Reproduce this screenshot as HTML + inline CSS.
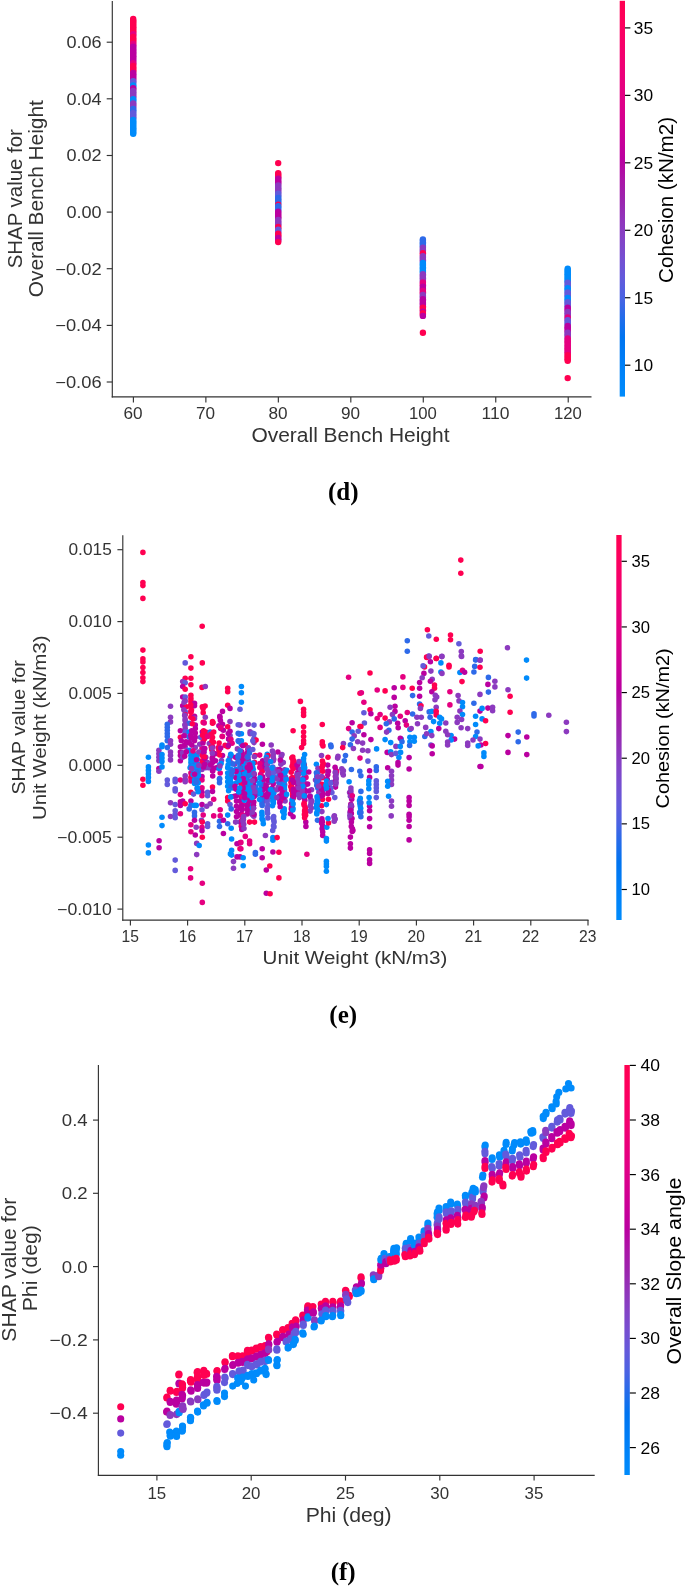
<!DOCTYPE html>
<html><head><meta charset="utf-8"><title>SHAP dependence plots</title>
<style>html,body{margin:0;padding:0;background:#fff;font-family:"Liberation Sans",sans-serif}svg{display:block;will-change:transform}</style></head>
<body>
<svg width="685" height="1586" viewBox="0 0 685 1586">
<rect width="685" height="1586" fill="#fff"/>
<line x1="112.30" y1="1.00" x2="112.30" y2="397.47" stroke="#333" stroke-width="1.15"/>
<line x1="111.73" y1="396.90" x2="591.50" y2="396.90" stroke="#333" stroke-width="1.15"/>
<line x1="106.70" y1="42.20" x2="112.30" y2="42.20" stroke="#333" stroke-width="1.15"/>
<text x="66.40" y="48.05" font-family="Liberation Sans, sans-serif" font-size="16.4" font-weight="normal" fill="#333" textLength="35.20" lengthAdjust="spacingAndGlyphs">0.06</text>
<line x1="106.70" y1="98.80" x2="112.30" y2="98.80" stroke="#333" stroke-width="1.15"/>
<text x="66.40" y="104.65" font-family="Liberation Sans, sans-serif" font-size="16.4" font-weight="normal" fill="#333" textLength="35.20" lengthAdjust="spacingAndGlyphs">0.04</text>
<line x1="106.70" y1="155.50" x2="112.30" y2="155.50" stroke="#333" stroke-width="1.15"/>
<text x="66.40" y="161.35" font-family="Liberation Sans, sans-serif" font-size="16.4" font-weight="normal" fill="#333" textLength="35.20" lengthAdjust="spacingAndGlyphs">0.02</text>
<line x1="106.70" y1="212.10" x2="112.30" y2="212.10" stroke="#333" stroke-width="1.15"/>
<text x="66.40" y="217.95" font-family="Liberation Sans, sans-serif" font-size="16.4" font-weight="normal" fill="#333" textLength="35.20" lengthAdjust="spacingAndGlyphs">0.00</text>
<line x1="106.70" y1="268.70" x2="112.30" y2="268.70" stroke="#333" stroke-width="1.15"/>
<text x="55.20" y="274.55" font-family="Liberation Sans, sans-serif" font-size="16.4" font-weight="normal" fill="#333" textLength="46.40" lengthAdjust="spacingAndGlyphs">−0.02</text>
<line x1="106.70" y1="325.40" x2="112.30" y2="325.40" stroke="#333" stroke-width="1.15"/>
<text x="55.20" y="331.25" font-family="Liberation Sans, sans-serif" font-size="16.4" font-weight="normal" fill="#333" textLength="46.40" lengthAdjust="spacingAndGlyphs">−0.04</text>
<line x1="106.70" y1="382.00" x2="112.30" y2="382.00" stroke="#333" stroke-width="1.15"/>
<text x="55.20" y="387.85" font-family="Liberation Sans, sans-serif" font-size="16.4" font-weight="normal" fill="#333" textLength="46.40" lengthAdjust="spacingAndGlyphs">−0.06</text>
<line x1="133.40" y1="396.90" x2="133.40" y2="402.40" stroke="#333" stroke-width="1.15"/>
<text x="123.55" y="419.20" font-family="Liberation Sans, sans-serif" font-size="16.4" font-weight="normal" fill="#333" textLength="19.10" lengthAdjust="spacingAndGlyphs">60</text>
<line x1="205.87" y1="396.90" x2="205.87" y2="402.40" stroke="#333" stroke-width="1.15"/>
<text x="196.02" y="419.20" font-family="Liberation Sans, sans-serif" font-size="16.4" font-weight="normal" fill="#333" textLength="19.10" lengthAdjust="spacingAndGlyphs">70</text>
<line x1="278.34" y1="396.90" x2="278.34" y2="402.40" stroke="#333" stroke-width="1.15"/>
<text x="268.49" y="419.20" font-family="Liberation Sans, sans-serif" font-size="16.4" font-weight="normal" fill="#333" textLength="19.10" lengthAdjust="spacingAndGlyphs">80</text>
<line x1="350.81" y1="396.90" x2="350.81" y2="402.40" stroke="#333" stroke-width="1.15"/>
<text x="340.96" y="419.20" font-family="Liberation Sans, sans-serif" font-size="16.4" font-weight="normal" fill="#333" textLength="19.10" lengthAdjust="spacingAndGlyphs">90</text>
<line x1="423.28" y1="396.90" x2="423.28" y2="402.40" stroke="#333" stroke-width="1.15"/>
<text x="409.03" y="419.20" font-family="Liberation Sans, sans-serif" font-size="16.4" font-weight="normal" fill="#333" textLength="27.90" lengthAdjust="spacingAndGlyphs">100</text>
<line x1="495.75" y1="396.90" x2="495.75" y2="402.40" stroke="#333" stroke-width="1.15"/>
<text x="481.50" y="419.20" font-family="Liberation Sans, sans-serif" font-size="16.4" font-weight="normal" fill="#333" textLength="27.90" lengthAdjust="spacingAndGlyphs">110</text>
<line x1="568.22" y1="396.90" x2="568.22" y2="402.40" stroke="#333" stroke-width="1.15"/>
<text x="553.97" y="419.20" font-family="Liberation Sans, sans-serif" font-size="16.4" font-weight="normal" fill="#333" textLength="27.90" lengthAdjust="spacingAndGlyphs">120</text>
<text x="251.40" y="442.10" font-family="Liberation Sans, sans-serif" font-size="19.6" font-weight="normal" fill="#333" textLength="198.10" lengthAdjust="spacingAndGlyphs">Overall Bench Height</text>
<text transform="translate(21.90,268.30) rotate(-90)" font-family="Liberation Sans, sans-serif" font-size="19.6" fill="#333" textLength="139.20" lengthAdjust="spacingAndGlyphs">SHAP value for</text>
<text transform="translate(42.90,297.20) rotate(-90)" font-family="Liberation Sans, sans-serif" font-size="19.6" fill="#333" textLength="197.00" lengthAdjust="spacingAndGlyphs">Overall Bench Height</text>
<defs><linearGradient id="g1" x1="0" y1="0" x2="0" y2="1"><stop offset="0.00" stop-color="#ff0051"/><stop offset="0.05" stop-color="#fe005c"/><stop offset="0.10" stop-color="#f80067"/><stop offset="0.15" stop-color="#f10072"/><stop offset="0.20" stop-color="#e9007c"/><stop offset="0.25" stop-color="#e00086"/><stop offset="0.30" stop-color="#d5008f"/><stop offset="0.35" stop-color="#c80098"/><stop offset="0.40" stop-color="#ba00a0"/><stop offset="0.45" stop-color="#ab15a7"/><stop offset="0.50" stop-color="#9c24ad"/><stop offset="0.55" stop-color="#9134ba"/><stop offset="0.60" stop-color="#8443c6"/><stop offset="0.65" stop-color="#754fd1"/><stop offset="0.70" stop-color="#635adb"/><stop offset="0.75" stop-color="#4a63e3"/><stop offset="0.80" stop-color="#236cea"/><stop offset="0.85" stop-color="#0074f0"/><stop offset="0.90" stop-color="#007cf5"/><stop offset="0.95" stop-color="#0084f9"/><stop offset="1.00" stop-color="#008bfb"/></linearGradient></defs>
<rect x="619.70" y="0.80" width="5.30" height="395.80" fill="url(#g1)"/>
<line x1="625.00" y1="27.90" x2="630.40" y2="27.90" stroke="#000" stroke-width="1.15"/>
<text x="633.80" y="33.75" font-family="Liberation Sans, sans-serif" font-size="16.4" font-weight="normal" fill="#000" textLength="19.30" lengthAdjust="spacingAndGlyphs">35</text>
<line x1="625.00" y1="95.36" x2="630.40" y2="95.36" stroke="#000" stroke-width="1.15"/>
<text x="633.80" y="101.21" font-family="Liberation Sans, sans-serif" font-size="16.4" font-weight="normal" fill="#000" textLength="19.30" lengthAdjust="spacingAndGlyphs">30</text>
<line x1="625.00" y1="162.82" x2="630.40" y2="162.82" stroke="#000" stroke-width="1.15"/>
<text x="633.80" y="168.67" font-family="Liberation Sans, sans-serif" font-size="16.4" font-weight="normal" fill="#000" textLength="19.30" lengthAdjust="spacingAndGlyphs">25</text>
<line x1="625.00" y1="230.28" x2="630.40" y2="230.28" stroke="#000" stroke-width="1.15"/>
<text x="633.80" y="236.13" font-family="Liberation Sans, sans-serif" font-size="16.4" font-weight="normal" fill="#000" textLength="19.30" lengthAdjust="spacingAndGlyphs">20</text>
<line x1="625.00" y1="297.74" x2="630.40" y2="297.74" stroke="#000" stroke-width="1.15"/>
<text x="633.80" y="303.59" font-family="Liberation Sans, sans-serif" font-size="16.4" font-weight="normal" fill="#000" textLength="19.30" lengthAdjust="spacingAndGlyphs">15</text>
<line x1="625.00" y1="365.20" x2="630.40" y2="365.20" stroke="#000" stroke-width="1.15"/>
<text x="633.80" y="371.05" font-family="Liberation Sans, sans-serif" font-size="16.4" font-weight="normal" fill="#000" textLength="19.30" lengthAdjust="spacingAndGlyphs">10</text>
<text transform="translate(673.10,282.90) rotate(-90)" font-family="Liberation Sans, sans-serif" font-size="19.6" fill="#000" textLength="166.00" lengthAdjust="spacingAndGlyphs">Cohesion (kN/m2)</text>
<text x="343.2" y="499.6" text-anchor="middle" font-family="Liberation Serif, serif" font-weight="bold" font-size="25" fill="#000">(d)</text>
<line x1="122.80" y1="535.30" x2="122.80" y2="920.67" stroke="#333" stroke-width="1.15"/>
<line x1="122.23" y1="920.10" x2="588.50" y2="920.10" stroke="#333" stroke-width="1.15"/>
<line x1="117.40" y1="549.70" x2="122.80" y2="549.70" stroke="#333" stroke-width="1.15"/>
<text x="68.50" y="555.30" font-family="Liberation Sans, sans-serif" font-size="15.7" font-weight="normal" fill="#333" textLength="43.30" lengthAdjust="spacingAndGlyphs">0.015</text>
<line x1="117.40" y1="621.60" x2="122.80" y2="621.60" stroke="#333" stroke-width="1.15"/>
<text x="68.50" y="627.20" font-family="Liberation Sans, sans-serif" font-size="15.7" font-weight="normal" fill="#333" textLength="43.30" lengthAdjust="spacingAndGlyphs">0.010</text>
<line x1="117.40" y1="693.40" x2="122.80" y2="693.40" stroke="#333" stroke-width="1.15"/>
<text x="68.50" y="699.00" font-family="Liberation Sans, sans-serif" font-size="15.7" font-weight="normal" fill="#333" textLength="43.30" lengthAdjust="spacingAndGlyphs">0.005</text>
<line x1="117.40" y1="765.30" x2="122.80" y2="765.30" stroke="#333" stroke-width="1.15"/>
<text x="68.50" y="770.90" font-family="Liberation Sans, sans-serif" font-size="15.7" font-weight="normal" fill="#333" textLength="43.30" lengthAdjust="spacingAndGlyphs">0.000</text>
<line x1="117.40" y1="837.20" x2="122.80" y2="837.20" stroke="#333" stroke-width="1.15"/>
<text x="57.10" y="842.80" font-family="Liberation Sans, sans-serif" font-size="15.7" font-weight="normal" fill="#333" textLength="54.70" lengthAdjust="spacingAndGlyphs">−0.005</text>
<line x1="117.40" y1="909.10" x2="122.80" y2="909.10" stroke="#333" stroke-width="1.15"/>
<text x="57.10" y="914.70" font-family="Liberation Sans, sans-serif" font-size="15.7" font-weight="normal" fill="#333" textLength="54.70" lengthAdjust="spacingAndGlyphs">−0.010</text>
<line x1="130.40" y1="920.10" x2="130.40" y2="925.40" stroke="#333" stroke-width="1.15"/>
<text x="121.50" y="942.20" font-family="Liberation Sans, sans-serif" font-size="15.7" font-weight="normal" fill="#333" textLength="17.40" lengthAdjust="spacingAndGlyphs">15</text>
<line x1="187.60" y1="920.10" x2="187.60" y2="925.40" stroke="#333" stroke-width="1.15"/>
<text x="178.70" y="942.20" font-family="Liberation Sans, sans-serif" font-size="15.7" font-weight="normal" fill="#333" textLength="17.40" lengthAdjust="spacingAndGlyphs">16</text>
<line x1="244.80" y1="920.10" x2="244.80" y2="925.40" stroke="#333" stroke-width="1.15"/>
<text x="235.90" y="942.20" font-family="Liberation Sans, sans-serif" font-size="15.7" font-weight="normal" fill="#333" textLength="17.40" lengthAdjust="spacingAndGlyphs">17</text>
<line x1="302.00" y1="920.10" x2="302.00" y2="925.40" stroke="#333" stroke-width="1.15"/>
<text x="293.10" y="942.20" font-family="Liberation Sans, sans-serif" font-size="15.7" font-weight="normal" fill="#333" textLength="17.40" lengthAdjust="spacingAndGlyphs">18</text>
<line x1="359.20" y1="920.10" x2="359.20" y2="925.40" stroke="#333" stroke-width="1.15"/>
<text x="350.30" y="942.20" font-family="Liberation Sans, sans-serif" font-size="15.7" font-weight="normal" fill="#333" textLength="17.40" lengthAdjust="spacingAndGlyphs">19</text>
<line x1="416.40" y1="920.10" x2="416.40" y2="925.40" stroke="#333" stroke-width="1.15"/>
<text x="407.50" y="942.20" font-family="Liberation Sans, sans-serif" font-size="15.7" font-weight="normal" fill="#333" textLength="17.40" lengthAdjust="spacingAndGlyphs">20</text>
<line x1="473.60" y1="920.10" x2="473.60" y2="925.40" stroke="#333" stroke-width="1.15"/>
<text x="464.70" y="942.20" font-family="Liberation Sans, sans-serif" font-size="15.7" font-weight="normal" fill="#333" textLength="17.40" lengthAdjust="spacingAndGlyphs">21</text>
<line x1="530.80" y1="920.10" x2="530.80" y2="925.40" stroke="#333" stroke-width="1.15"/>
<text x="521.90" y="942.20" font-family="Liberation Sans, sans-serif" font-size="15.7" font-weight="normal" fill="#333" textLength="17.40" lengthAdjust="spacingAndGlyphs">22</text>
<line x1="588.00" y1="920.10" x2="588.00" y2="925.40" stroke="#333" stroke-width="1.15"/>
<text x="579.10" y="942.20" font-family="Liberation Sans, sans-serif" font-size="15.7" font-weight="normal" fill="#333" textLength="17.40" lengthAdjust="spacingAndGlyphs">23</text>
<text x="262.60" y="964.00" font-family="Liberation Sans, sans-serif" font-size="18.7" font-weight="normal" fill="#333" textLength="184.70" lengthAdjust="spacingAndGlyphs">Unit Weight (kN/m3)</text>
<text transform="translate(24.70,794.60) rotate(-90)" font-family="Liberation Sans, sans-serif" font-size="18.7" fill="#333" textLength="134.40" lengthAdjust="spacingAndGlyphs">SHAP value for</text>
<text transform="translate(45.50,820.00) rotate(-90)" font-family="Liberation Sans, sans-serif" font-size="18.7" fill="#333" textLength="184.60" lengthAdjust="spacingAndGlyphs">Unit Weight (kN/m3)</text>
<defs><linearGradient id="g2" x1="0" y1="0" x2="0" y2="1"><stop offset="0.00" stop-color="#ff0051"/><stop offset="0.05" stop-color="#fe005c"/><stop offset="0.10" stop-color="#f80067"/><stop offset="0.15" stop-color="#f10072"/><stop offset="0.20" stop-color="#e9007c"/><stop offset="0.25" stop-color="#e00086"/><stop offset="0.30" stop-color="#d5008f"/><stop offset="0.35" stop-color="#c80098"/><stop offset="0.40" stop-color="#ba00a0"/><stop offset="0.45" stop-color="#ab15a7"/><stop offset="0.50" stop-color="#9c24ad"/><stop offset="0.55" stop-color="#9134ba"/><stop offset="0.60" stop-color="#8443c6"/><stop offset="0.65" stop-color="#754fd1"/><stop offset="0.70" stop-color="#635adb"/><stop offset="0.75" stop-color="#4a63e3"/><stop offset="0.80" stop-color="#236cea"/><stop offset="0.85" stop-color="#0074f0"/><stop offset="0.90" stop-color="#007cf5"/><stop offset="0.95" stop-color="#0084f9"/><stop offset="1.00" stop-color="#008bfb"/></linearGradient></defs>
<rect x="616.30" y="535.00" width="5.30" height="385.00" fill="url(#g2)"/>
<line x1="621.60" y1="561.30" x2="626.90" y2="561.30" stroke="#000" stroke-width="1.15"/>
<text x="631.40" y="566.90" font-family="Liberation Sans, sans-serif" font-size="15.7" font-weight="normal" fill="#000" textLength="18.50" lengthAdjust="spacingAndGlyphs">35</text>
<line x1="621.60" y1="626.94" x2="626.90" y2="626.94" stroke="#000" stroke-width="1.15"/>
<text x="631.40" y="632.54" font-family="Liberation Sans, sans-serif" font-size="15.7" font-weight="normal" fill="#000" textLength="18.50" lengthAdjust="spacingAndGlyphs">30</text>
<line x1="621.60" y1="692.58" x2="626.90" y2="692.58" stroke="#000" stroke-width="1.15"/>
<text x="631.40" y="698.18" font-family="Liberation Sans, sans-serif" font-size="15.7" font-weight="normal" fill="#000" textLength="18.50" lengthAdjust="spacingAndGlyphs">25</text>
<line x1="621.60" y1="758.22" x2="626.90" y2="758.22" stroke="#000" stroke-width="1.15"/>
<text x="631.40" y="763.82" font-family="Liberation Sans, sans-serif" font-size="15.7" font-weight="normal" fill="#000" textLength="18.50" lengthAdjust="spacingAndGlyphs">20</text>
<line x1="621.60" y1="823.86" x2="626.90" y2="823.86" stroke="#000" stroke-width="1.15"/>
<text x="631.40" y="829.46" font-family="Liberation Sans, sans-serif" font-size="15.7" font-weight="normal" fill="#000" textLength="18.50" lengthAdjust="spacingAndGlyphs">15</text>
<line x1="621.60" y1="889.50" x2="626.90" y2="889.50" stroke="#000" stroke-width="1.15"/>
<text x="631.40" y="895.10" font-family="Liberation Sans, sans-serif" font-size="15.7" font-weight="normal" fill="#000" textLength="18.50" lengthAdjust="spacingAndGlyphs">10</text>
<text transform="translate(668.70,808.40) rotate(-90)" font-family="Liberation Sans, sans-serif" font-size="18.7" fill="#000" textLength="160.10" lengthAdjust="spacingAndGlyphs">Cohesion (kN/m2)</text>
<text x="343.2" y="1022.9" text-anchor="middle" font-family="Liberation Serif, serif" font-weight="bold" font-size="25" fill="#000">(e)</text>
<line x1="98.40" y1="1064.90" x2="98.40" y2="1475.87" stroke="#333" stroke-width="1.15"/>
<line x1="97.83" y1="1475.30" x2="594.70" y2="1475.30" stroke="#333" stroke-width="1.15"/>
<line x1="93.00" y1="1120.10" x2="98.40" y2="1120.10" stroke="#333" stroke-width="1.15"/>
<text x="61.80" y="1126.10" font-family="Liberation Sans, sans-serif" font-size="16.8" font-weight="normal" fill="#333" textLength="25.90" lengthAdjust="spacingAndGlyphs">0.4</text>
<line x1="93.00" y1="1193.30" x2="98.40" y2="1193.30" stroke="#333" stroke-width="1.15"/>
<text x="61.80" y="1199.30" font-family="Liberation Sans, sans-serif" font-size="16.8" font-weight="normal" fill="#333" textLength="25.90" lengthAdjust="spacingAndGlyphs">0.2</text>
<line x1="93.00" y1="1266.60" x2="98.40" y2="1266.60" stroke="#333" stroke-width="1.15"/>
<text x="61.80" y="1272.60" font-family="Liberation Sans, sans-serif" font-size="16.8" font-weight="normal" fill="#333" textLength="25.90" lengthAdjust="spacingAndGlyphs">0.0</text>
<line x1="93.00" y1="1339.90" x2="98.40" y2="1339.90" stroke="#333" stroke-width="1.15"/>
<text x="49.50" y="1345.90" font-family="Liberation Sans, sans-serif" font-size="16.8" font-weight="normal" fill="#333" textLength="38.20" lengthAdjust="spacingAndGlyphs">−0.2</text>
<line x1="93.00" y1="1413.20" x2="98.40" y2="1413.20" stroke="#333" stroke-width="1.15"/>
<text x="49.50" y="1419.20" font-family="Liberation Sans, sans-serif" font-size="16.8" font-weight="normal" fill="#333" textLength="38.20" lengthAdjust="spacingAndGlyphs">−0.4</text>
<line x1="156.90" y1="1475.30" x2="156.90" y2="1480.60" stroke="#333" stroke-width="1.15"/>
<text x="147.40" y="1498.50" font-family="Liberation Sans, sans-serif" font-size="16.8" font-weight="normal" fill="#333" textLength="18.80" lengthAdjust="spacingAndGlyphs">15</text>
<line x1="251.20" y1="1475.30" x2="251.20" y2="1480.60" stroke="#333" stroke-width="1.15"/>
<text x="241.70" y="1498.50" font-family="Liberation Sans, sans-serif" font-size="16.8" font-weight="normal" fill="#333" textLength="18.80" lengthAdjust="spacingAndGlyphs">20</text>
<line x1="345.50" y1="1475.30" x2="345.50" y2="1480.60" stroke="#333" stroke-width="1.15"/>
<text x="336.00" y="1498.50" font-family="Liberation Sans, sans-serif" font-size="16.8" font-weight="normal" fill="#333" textLength="18.80" lengthAdjust="spacingAndGlyphs">25</text>
<line x1="439.80" y1="1475.30" x2="439.80" y2="1480.60" stroke="#333" stroke-width="1.15"/>
<text x="430.30" y="1498.50" font-family="Liberation Sans, sans-serif" font-size="16.8" font-weight="normal" fill="#333" textLength="18.80" lengthAdjust="spacingAndGlyphs">30</text>
<line x1="534.10" y1="1475.30" x2="534.10" y2="1480.60" stroke="#333" stroke-width="1.15"/>
<text x="524.60" y="1498.50" font-family="Liberation Sans, sans-serif" font-size="16.8" font-weight="normal" fill="#333" textLength="18.80" lengthAdjust="spacingAndGlyphs">35</text>
<text x="305.70" y="1522.00" font-family="Liberation Sans, sans-serif" font-size="20.0" font-weight="normal" fill="#333" textLength="86.00" lengthAdjust="spacingAndGlyphs">Phi (deg)</text>
<text transform="translate(15.60,1341.70) rotate(-90)" font-family="Liberation Sans, sans-serif" font-size="20.0" fill="#333" textLength="144.00" lengthAdjust="spacingAndGlyphs">SHAP value for</text>
<text transform="translate(37.00,1311.30) rotate(-90)" font-family="Liberation Sans, sans-serif" font-size="20.0" fill="#333" textLength="86.10" lengthAdjust="spacingAndGlyphs">Phi (deg)</text>
<defs><linearGradient id="g3" x1="0" y1="0" x2="0" y2="1"><stop offset="0.00" stop-color="#ff0051"/><stop offset="0.05" stop-color="#fe005c"/><stop offset="0.10" stop-color="#f80067"/><stop offset="0.15" stop-color="#f10072"/><stop offset="0.20" stop-color="#e9007c"/><stop offset="0.25" stop-color="#e00086"/><stop offset="0.30" stop-color="#d5008f"/><stop offset="0.35" stop-color="#c80098"/><stop offset="0.40" stop-color="#ba00a0"/><stop offset="0.45" stop-color="#ab15a7"/><stop offset="0.50" stop-color="#9c24ad"/><stop offset="0.55" stop-color="#9134ba"/><stop offset="0.60" stop-color="#8443c6"/><stop offset="0.65" stop-color="#754fd1"/><stop offset="0.70" stop-color="#635adb"/><stop offset="0.75" stop-color="#4a63e3"/><stop offset="0.80" stop-color="#236cea"/><stop offset="0.85" stop-color="#0074f0"/><stop offset="0.90" stop-color="#007cf5"/><stop offset="0.95" stop-color="#0084f9"/><stop offset="1.00" stop-color="#008bfb"/></linearGradient></defs>
<rect x="624.40" y="1065.00" width="5.40" height="410.00" fill="url(#g3)"/>
<line x1="629.80" y1="1065.40" x2="635.90" y2="1065.40" stroke="#000" stroke-width="1.15"/>
<text x="640.40" y="1071.40" font-family="Liberation Sans, sans-serif" font-size="16.8" font-weight="normal" fill="#000" textLength="19.50" lengthAdjust="spacingAndGlyphs">40</text>
<line x1="629.80" y1="1120.00" x2="635.90" y2="1120.00" stroke="#000" stroke-width="1.15"/>
<text x="640.40" y="1126.00" font-family="Liberation Sans, sans-serif" font-size="16.8" font-weight="normal" fill="#000" textLength="19.50" lengthAdjust="spacingAndGlyphs">38</text>
<line x1="629.80" y1="1174.60" x2="635.90" y2="1174.60" stroke="#000" stroke-width="1.15"/>
<text x="640.40" y="1180.60" font-family="Liberation Sans, sans-serif" font-size="16.8" font-weight="normal" fill="#000" textLength="19.50" lengthAdjust="spacingAndGlyphs">36</text>
<line x1="629.80" y1="1229.20" x2="635.90" y2="1229.20" stroke="#000" stroke-width="1.15"/>
<text x="640.40" y="1235.20" font-family="Liberation Sans, sans-serif" font-size="16.8" font-weight="normal" fill="#000" textLength="19.50" lengthAdjust="spacingAndGlyphs">34</text>
<line x1="629.80" y1="1283.80" x2="635.90" y2="1283.80" stroke="#000" stroke-width="1.15"/>
<text x="640.40" y="1289.80" font-family="Liberation Sans, sans-serif" font-size="16.8" font-weight="normal" fill="#000" textLength="19.50" lengthAdjust="spacingAndGlyphs">32</text>
<line x1="629.80" y1="1338.40" x2="635.90" y2="1338.40" stroke="#000" stroke-width="1.15"/>
<text x="640.40" y="1344.40" font-family="Liberation Sans, sans-serif" font-size="16.8" font-weight="normal" fill="#000" textLength="19.50" lengthAdjust="spacingAndGlyphs">30</text>
<line x1="629.80" y1="1393.00" x2="635.90" y2="1393.00" stroke="#000" stroke-width="1.15"/>
<text x="640.40" y="1399.00" font-family="Liberation Sans, sans-serif" font-size="16.8" font-weight="normal" fill="#000" textLength="19.50" lengthAdjust="spacingAndGlyphs">28</text>
<line x1="629.80" y1="1447.60" x2="635.90" y2="1447.60" stroke="#000" stroke-width="1.15"/>
<text x="640.40" y="1453.60" font-family="Liberation Sans, sans-serif" font-size="16.8" font-weight="normal" fill="#000" textLength="19.50" lengthAdjust="spacingAndGlyphs">26</text>
<text transform="translate(681.00,1364.50) rotate(-90)" font-family="Liberation Sans, sans-serif" font-size="20.0" fill="#000" textLength="186.90" lengthAdjust="spacingAndGlyphs">Overall Slope angle</text>
<text x="343.2" y="1580.4" text-anchor="middle" font-family="Liberation Serif, serif" font-weight="bold" font-size="25" fill="#000">(f)</text>
<circle cx="133.2" cy="19.0" r="3.2" fill="#ff0051"/>
<circle cx="133.2" cy="20.4" r="3.2" fill="#ff0051"/>
<circle cx="133.2" cy="21.8" r="3.2" fill="#ff0051"/>
<circle cx="133.2" cy="23.1" r="3.2" fill="#ff0051"/>
<circle cx="133.2" cy="24.5" r="3.2" fill="#ff0051"/>
<circle cx="133.2" cy="25.9" r="3.2" fill="#ff0051"/>
<circle cx="133.2" cy="27.3" r="3.2" fill="#ff0051"/>
<circle cx="133.2" cy="28.7" r="3.2" fill="#ff0051"/>
<circle cx="133.2" cy="30.1" r="3.2" fill="#ff0051"/>
<circle cx="133.2" cy="31.4" r="3.2" fill="#ff0051"/>
<circle cx="133.2" cy="32.8" r="3.2" fill="#ff0051"/>
<circle cx="133.2" cy="34.2" r="3.2" fill="#e50080"/>
<circle cx="133.2" cy="35.6" r="3.2" fill="#e50080"/>
<circle cx="133.2" cy="37.0" r="3.2" fill="#ff0051"/>
<circle cx="133.2" cy="38.4" r="3.2" fill="#ff0051"/>
<circle cx="133.2" cy="39.7" r="3.2" fill="#ff0051"/>
<circle cx="133.2" cy="41.1" r="3.2" fill="#ff0051"/>
<circle cx="133.2" cy="42.5" r="3.2" fill="#ff0051"/>
<circle cx="133.2" cy="43.9" r="3.2" fill="#e50080"/>
<circle cx="133.2" cy="45.3" r="3.2" fill="#e50080"/>
<circle cx="133.2" cy="46.7" r="3.2" fill="#ba00a0"/>
<circle cx="133.2" cy="48.0" r="3.2" fill="#ba00a0"/>
<circle cx="133.2" cy="49.4" r="3.2" fill="#ba00a0"/>
<circle cx="133.2" cy="50.8" r="3.2" fill="#ba00a0"/>
<circle cx="133.2" cy="52.2" r="3.2" fill="#ba00a0"/>
<circle cx="133.2" cy="53.6" r="3.2" fill="#ba00a0"/>
<circle cx="133.2" cy="55.0" r="3.2" fill="#ba00a0"/>
<circle cx="133.2" cy="56.3" r="3.2" fill="#ba00a0"/>
<circle cx="133.2" cy="57.7" r="3.2" fill="#ba00a0"/>
<circle cx="133.2" cy="59.1" r="3.2" fill="#ba00a0"/>
<circle cx="133.2" cy="60.5" r="3.2" fill="#ba00a0"/>
<circle cx="133.2" cy="61.9" r="3.2" fill="#ba00a0"/>
<circle cx="133.2" cy="63.3" r="3.2" fill="#e50080"/>
<circle cx="133.2" cy="64.6" r="3.2" fill="#e50080"/>
<circle cx="133.2" cy="66.0" r="3.2" fill="#ff0051"/>
<circle cx="133.2" cy="67.4" r="3.2" fill="#ff0051"/>
<circle cx="133.2" cy="68.8" r="3.2" fill="#ff0051"/>
<circle cx="133.2" cy="70.2" r="3.2" fill="#ff0051"/>
<circle cx="133.2" cy="71.6" r="3.2" fill="#ff0051"/>
<circle cx="133.2" cy="72.9" r="3.2" fill="#ba00a0"/>
<circle cx="133.2" cy="74.3" r="3.2" fill="#ba00a0"/>
<circle cx="133.2" cy="75.7" r="3.2" fill="#ba00a0"/>
<circle cx="133.2" cy="77.1" r="3.2" fill="#ba00a0"/>
<circle cx="133.2" cy="78.5" r="3.2" fill="#ba00a0"/>
<circle cx="133.2" cy="79.9" r="3.2" fill="#ba00a0"/>
<circle cx="133.2" cy="81.2" r="3.2" fill="#635adb"/>
<circle cx="133.2" cy="82.6" r="3.2" fill="#635adb"/>
<circle cx="133.2" cy="84.0" r="3.2" fill="#635adb"/>
<circle cx="133.2" cy="85.4" r="3.2" fill="#008bfb"/>
<circle cx="133.2" cy="86.8" r="3.2" fill="#008bfb"/>
<circle cx="133.2" cy="88.2" r="3.2" fill="#ba00a0"/>
<circle cx="133.2" cy="89.5" r="3.2" fill="#ba00a0"/>
<circle cx="133.2" cy="90.9" r="3.2" fill="#8c3abf"/>
<circle cx="133.2" cy="92.3" r="3.2" fill="#8c3abf"/>
<circle cx="133.2" cy="93.7" r="3.2" fill="#8c3abf"/>
<circle cx="133.2" cy="95.1" r="3.2" fill="#8c3abf"/>
<circle cx="133.2" cy="96.5" r="3.2" fill="#8c3abf"/>
<circle cx="133.2" cy="97.8" r="3.2" fill="#8c3abf"/>
<circle cx="133.2" cy="99.2" r="3.2" fill="#008bfb"/>
<circle cx="133.2" cy="100.6" r="3.2" fill="#008bfb"/>
<circle cx="133.2" cy="102.0" r="3.2" fill="#008bfb"/>
<circle cx="133.2" cy="103.4" r="3.2" fill="#8c3abf"/>
<circle cx="133.2" cy="104.8" r="3.2" fill="#8c3abf"/>
<circle cx="133.2" cy="106.1" r="3.2" fill="#8c3abf"/>
<circle cx="133.2" cy="107.5" r="3.2" fill="#8c3abf"/>
<circle cx="133.2" cy="108.9" r="3.2" fill="#2e6ae9"/>
<circle cx="133.2" cy="110.3" r="3.2" fill="#2e6ae9"/>
<circle cx="133.2" cy="111.7" r="3.2" fill="#2e6ae9"/>
<circle cx="133.2" cy="113.1" r="3.2" fill="#635adb"/>
<circle cx="133.2" cy="114.4" r="3.2" fill="#635adb"/>
<circle cx="133.2" cy="115.8" r="3.2" fill="#635adb"/>
<circle cx="133.2" cy="117.2" r="3.2" fill="#635adb"/>
<circle cx="133.2" cy="118.6" r="3.2" fill="#635adb"/>
<circle cx="133.2" cy="120.0" r="3.2" fill="#008bfb"/>
<circle cx="133.2" cy="121.4" r="3.2" fill="#008bfb"/>
<circle cx="133.2" cy="122.7" r="3.2" fill="#008bfb"/>
<circle cx="133.2" cy="124.1" r="3.2" fill="#008bfb"/>
<circle cx="133.2" cy="125.5" r="3.2" fill="#008bfb"/>
<circle cx="133.2" cy="126.9" r="3.2" fill="#008bfb"/>
<circle cx="133.2" cy="128.3" r="3.2" fill="#008bfb"/>
<circle cx="133.2" cy="129.7" r="3.2" fill="#008bfb"/>
<circle cx="133.2" cy="131.0" r="3.2" fill="#008bfb"/>
<circle cx="133.2" cy="132.4" r="3.2" fill="#008bfb"/>
<circle cx="133.2" cy="133.8" r="3.2" fill="#008bfb"/>
<circle cx="278.2" cy="173.1" r="3.2" fill="#ff0051"/>
<circle cx="278.2" cy="174.5" r="3.2" fill="#ff0051"/>
<circle cx="278.2" cy="175.9" r="3.2" fill="#ff0051"/>
<circle cx="278.2" cy="177.2" r="3.2" fill="#ff0051"/>
<circle cx="278.2" cy="178.6" r="3.2" fill="#ba00a0"/>
<circle cx="278.2" cy="180.0" r="3.2" fill="#ba00a0"/>
<circle cx="278.2" cy="181.4" r="3.2" fill="#ba00a0"/>
<circle cx="278.2" cy="182.8" r="3.2" fill="#ba00a0"/>
<circle cx="278.2" cy="184.1" r="3.2" fill="#ba00a0"/>
<circle cx="278.2" cy="185.5" r="3.2" fill="#8c3abf"/>
<circle cx="278.2" cy="186.9" r="3.2" fill="#8c3abf"/>
<circle cx="278.2" cy="188.3" r="3.2" fill="#8c3abf"/>
<circle cx="278.2" cy="189.7" r="3.2" fill="#8c3abf"/>
<circle cx="278.2" cy="191.0" r="3.2" fill="#8c3abf"/>
<circle cx="278.2" cy="192.4" r="3.2" fill="#8c3abf"/>
<circle cx="278.2" cy="193.8" r="3.2" fill="#635adb"/>
<circle cx="278.2" cy="195.2" r="3.2" fill="#635adb"/>
<circle cx="278.2" cy="196.6" r="3.2" fill="#635adb"/>
<circle cx="278.2" cy="197.9" r="3.2" fill="#2e6ae9"/>
<circle cx="278.2" cy="199.3" r="3.2" fill="#2e6ae9"/>
<circle cx="278.2" cy="200.7" r="3.2" fill="#2e6ae9"/>
<circle cx="278.2" cy="202.1" r="3.2" fill="#2e6ae9"/>
<circle cx="278.2" cy="203.5" r="3.2" fill="#2e6ae9"/>
<circle cx="278.2" cy="204.8" r="3.2" fill="#ff0051"/>
<circle cx="278.2" cy="206.2" r="3.2" fill="#2e6ae9"/>
<circle cx="278.2" cy="207.6" r="3.2" fill="#2e6ae9"/>
<circle cx="278.2" cy="209.0" r="3.2" fill="#2e6ae9"/>
<circle cx="278.2" cy="210.4" r="3.2" fill="#2e6ae9"/>
<circle cx="278.2" cy="211.7" r="3.2" fill="#ba00a0"/>
<circle cx="278.2" cy="213.1" r="3.2" fill="#ba00a0"/>
<circle cx="278.2" cy="214.5" r="3.2" fill="#ba00a0"/>
<circle cx="278.2" cy="215.9" r="3.2" fill="#ba00a0"/>
<circle cx="278.2" cy="217.3" r="3.2" fill="#ba00a0"/>
<circle cx="278.2" cy="218.6" r="3.2" fill="#ba00a0"/>
<circle cx="278.2" cy="220.0" r="3.2" fill="#8c3abf"/>
<circle cx="278.2" cy="221.4" r="3.2" fill="#8c3abf"/>
<circle cx="278.2" cy="222.8" r="3.2" fill="#8c3abf"/>
<circle cx="278.2" cy="224.2" r="3.2" fill="#8c3abf"/>
<circle cx="278.2" cy="225.5" r="3.2" fill="#8c3abf"/>
<circle cx="278.2" cy="226.9" r="3.2" fill="#ff0051"/>
<circle cx="278.2" cy="228.3" r="3.2" fill="#ff0051"/>
<circle cx="278.2" cy="229.7" r="3.2" fill="#635adb"/>
<circle cx="278.2" cy="231.1" r="3.2" fill="#635adb"/>
<circle cx="278.2" cy="232.4" r="3.2" fill="#635adb"/>
<circle cx="278.2" cy="233.8" r="3.2" fill="#ff0051"/>
<circle cx="278.2" cy="235.2" r="3.2" fill="#ff0051"/>
<circle cx="278.2" cy="236.6" r="3.2" fill="#ff0051"/>
<circle cx="278.2" cy="238.0" r="3.2" fill="#ba00a0"/>
<circle cx="278.2" cy="239.3" r="3.2" fill="#ba00a0"/>
<circle cx="278.2" cy="240.7" r="3.2" fill="#ba00a0"/>
<circle cx="278.2" cy="242.1" r="3.2" fill="#ff0051"/>
<circle cx="278.2" cy="163.1" r="3.2" fill="#ff0051"/>
<circle cx="422.9" cy="239.4" r="3.2" fill="#2e6ae9"/>
<circle cx="422.9" cy="240.8" r="3.2" fill="#2e6ae9"/>
<circle cx="422.9" cy="242.2" r="3.2" fill="#2e6ae9"/>
<circle cx="422.9" cy="243.6" r="3.2" fill="#2e6ae9"/>
<circle cx="422.9" cy="245.0" r="3.2" fill="#2e6ae9"/>
<circle cx="422.9" cy="246.4" r="3.2" fill="#2e6ae9"/>
<circle cx="422.9" cy="247.7" r="3.2" fill="#8c3abf"/>
<circle cx="422.9" cy="249.1" r="3.2" fill="#8c3abf"/>
<circle cx="422.9" cy="250.5" r="3.2" fill="#8c3abf"/>
<circle cx="422.9" cy="251.9" r="3.2" fill="#8c3abf"/>
<circle cx="422.9" cy="253.3" r="3.2" fill="#ff0051"/>
<circle cx="422.9" cy="254.7" r="3.2" fill="#ff0051"/>
<circle cx="422.9" cy="256.1" r="3.2" fill="#8c3abf"/>
<circle cx="422.9" cy="257.5" r="3.2" fill="#8c3abf"/>
<circle cx="422.9" cy="258.9" r="3.2" fill="#8c3abf"/>
<circle cx="422.9" cy="260.3" r="3.2" fill="#8c3abf"/>
<circle cx="422.9" cy="261.7" r="3.2" fill="#8c3abf"/>
<circle cx="422.9" cy="263.0" r="3.2" fill="#008bfb"/>
<circle cx="422.9" cy="264.4" r="3.2" fill="#008bfb"/>
<circle cx="422.9" cy="265.8" r="3.2" fill="#008bfb"/>
<circle cx="422.9" cy="267.2" r="3.2" fill="#008bfb"/>
<circle cx="422.9" cy="268.6" r="3.2" fill="#008bfb"/>
<circle cx="422.9" cy="270.0" r="3.2" fill="#008bfb"/>
<circle cx="422.9" cy="271.4" r="3.2" fill="#008bfb"/>
<circle cx="422.9" cy="272.8" r="3.2" fill="#008bfb"/>
<circle cx="422.9" cy="274.2" r="3.2" fill="#8c3abf"/>
<circle cx="422.9" cy="275.6" r="3.2" fill="#8c3abf"/>
<circle cx="422.9" cy="277.0" r="3.2" fill="#8c3abf"/>
<circle cx="422.9" cy="278.3" r="3.2" fill="#8c3abf"/>
<circle cx="422.9" cy="279.7" r="3.2" fill="#8c3abf"/>
<circle cx="422.9" cy="281.1" r="3.2" fill="#8c3abf"/>
<circle cx="422.9" cy="282.5" r="3.2" fill="#e50080"/>
<circle cx="422.9" cy="283.9" r="3.2" fill="#e50080"/>
<circle cx="422.9" cy="285.3" r="3.2" fill="#e50080"/>
<circle cx="422.9" cy="286.7" r="3.2" fill="#ba00a0"/>
<circle cx="422.9" cy="288.1" r="3.2" fill="#ba00a0"/>
<circle cx="422.9" cy="289.5" r="3.2" fill="#ba00a0"/>
<circle cx="422.9" cy="290.9" r="3.2" fill="#e50080"/>
<circle cx="422.9" cy="292.3" r="3.2" fill="#e50080"/>
<circle cx="422.9" cy="293.6" r="3.2" fill="#e50080"/>
<circle cx="422.9" cy="295.0" r="3.2" fill="#8c3abf"/>
<circle cx="422.9" cy="296.4" r="3.2" fill="#8c3abf"/>
<circle cx="422.9" cy="297.8" r="3.2" fill="#8c3abf"/>
<circle cx="422.9" cy="299.2" r="3.2" fill="#ba00a0"/>
<circle cx="422.9" cy="300.6" r="3.2" fill="#ba00a0"/>
<circle cx="422.9" cy="302.0" r="3.2" fill="#ba00a0"/>
<circle cx="422.9" cy="303.4" r="3.2" fill="#ba00a0"/>
<circle cx="422.9" cy="304.8" r="3.2" fill="#ba00a0"/>
<circle cx="422.9" cy="306.2" r="3.2" fill="#ba00a0"/>
<circle cx="422.9" cy="307.6" r="3.2" fill="#ff0051"/>
<circle cx="422.9" cy="308.9" r="3.2" fill="#ff0051"/>
<circle cx="422.9" cy="310.3" r="3.2" fill="#ff0051"/>
<circle cx="422.9" cy="311.7" r="3.2" fill="#ba00a0"/>
<circle cx="422.9" cy="313.1" r="3.2" fill="#ff0051"/>
<circle cx="422.9" cy="314.5" r="3.2" fill="#ff0051"/>
<circle cx="422.9" cy="315.9" r="3.2" fill="#ba00a0"/>
<circle cx="422.9" cy="332.8" r="3.2" fill="#ff0051"/>
<circle cx="567.7" cy="268.7" r="3.2" fill="#008bfb"/>
<circle cx="567.7" cy="270.1" r="3.2" fill="#008bfb"/>
<circle cx="567.7" cy="271.5" r="3.2" fill="#008bfb"/>
<circle cx="567.7" cy="272.9" r="3.2" fill="#008bfb"/>
<circle cx="567.7" cy="274.3" r="3.2" fill="#008bfb"/>
<circle cx="567.7" cy="275.7" r="3.2" fill="#008bfb"/>
<circle cx="567.7" cy="277.1" r="3.2" fill="#008bfb"/>
<circle cx="567.7" cy="278.5" r="3.2" fill="#008bfb"/>
<circle cx="567.7" cy="279.9" r="3.2" fill="#008bfb"/>
<circle cx="567.7" cy="281.2" r="3.2" fill="#008bfb"/>
<circle cx="567.7" cy="282.6" r="3.2" fill="#635adb"/>
<circle cx="567.7" cy="284.0" r="3.2" fill="#635adb"/>
<circle cx="567.7" cy="285.4" r="3.2" fill="#635adb"/>
<circle cx="567.7" cy="286.8" r="3.2" fill="#635adb"/>
<circle cx="567.7" cy="288.2" r="3.2" fill="#008bfb"/>
<circle cx="567.7" cy="289.6" r="3.2" fill="#008bfb"/>
<circle cx="567.7" cy="291.0" r="3.2" fill="#008bfb"/>
<circle cx="567.7" cy="292.4" r="3.2" fill="#635adb"/>
<circle cx="567.7" cy="293.8" r="3.2" fill="#635adb"/>
<circle cx="567.7" cy="295.2" r="3.2" fill="#635adb"/>
<circle cx="567.7" cy="296.6" r="3.2" fill="#635adb"/>
<circle cx="567.7" cy="298.0" r="3.2" fill="#008bfb"/>
<circle cx="567.7" cy="299.4" r="3.2" fill="#008bfb"/>
<circle cx="567.7" cy="300.8" r="3.2" fill="#008bfb"/>
<circle cx="567.7" cy="302.2" r="3.2" fill="#635adb"/>
<circle cx="567.7" cy="303.5" r="3.2" fill="#635adb"/>
<circle cx="567.7" cy="304.9" r="3.2" fill="#635adb"/>
<circle cx="567.7" cy="306.3" r="3.2" fill="#635adb"/>
<circle cx="567.7" cy="307.7" r="3.2" fill="#ba00a0"/>
<circle cx="567.7" cy="309.1" r="3.2" fill="#ba00a0"/>
<circle cx="567.7" cy="310.5" r="3.2" fill="#ba00a0"/>
<circle cx="567.7" cy="311.9" r="3.2" fill="#8c3abf"/>
<circle cx="567.7" cy="313.3" r="3.2" fill="#8c3abf"/>
<circle cx="567.7" cy="314.7" r="3.2" fill="#8c3abf"/>
<circle cx="567.7" cy="316.1" r="3.2" fill="#8c3abf"/>
<circle cx="567.7" cy="317.5" r="3.2" fill="#e50080"/>
<circle cx="567.7" cy="318.9" r="3.2" fill="#e50080"/>
<circle cx="567.7" cy="320.3" r="3.2" fill="#635adb"/>
<circle cx="567.7" cy="321.7" r="3.2" fill="#635adb"/>
<circle cx="567.7" cy="323.1" r="3.2" fill="#635adb"/>
<circle cx="567.7" cy="324.5" r="3.2" fill="#635adb"/>
<circle cx="567.7" cy="325.9" r="3.2" fill="#ba00a0"/>
<circle cx="567.7" cy="327.2" r="3.2" fill="#ba00a0"/>
<circle cx="567.7" cy="328.6" r="3.2" fill="#ba00a0"/>
<circle cx="567.7" cy="330.0" r="3.2" fill="#ba00a0"/>
<circle cx="567.7" cy="331.4" r="3.2" fill="#ba00a0"/>
<circle cx="567.7" cy="332.8" r="3.2" fill="#8c3abf"/>
<circle cx="567.7" cy="334.2" r="3.2" fill="#8c3abf"/>
<circle cx="567.7" cy="335.6" r="3.2" fill="#8c3abf"/>
<circle cx="567.7" cy="337.0" r="3.2" fill="#8c3abf"/>
<circle cx="567.7" cy="338.4" r="3.2" fill="#e50080"/>
<circle cx="567.7" cy="339.8" r="3.2" fill="#e50080"/>
<circle cx="567.7" cy="341.2" r="3.2" fill="#e50080"/>
<circle cx="567.7" cy="342.6" r="3.2" fill="#e50080"/>
<circle cx="567.7" cy="344.0" r="3.2" fill="#e50080"/>
<circle cx="567.7" cy="345.4" r="3.2" fill="#e50080"/>
<circle cx="567.7" cy="346.8" r="3.2" fill="#e50080"/>
<circle cx="567.7" cy="348.2" r="3.2" fill="#e50080"/>
<circle cx="567.7" cy="349.5" r="3.2" fill="#e50080"/>
<circle cx="567.7" cy="350.9" r="3.2" fill="#e50080"/>
<circle cx="567.7" cy="352.3" r="3.2" fill="#e50080"/>
<circle cx="567.7" cy="353.7" r="3.2" fill="#e50080"/>
<circle cx="567.7" cy="355.1" r="3.2" fill="#ff0051"/>
<circle cx="567.7" cy="356.5" r="3.2" fill="#ff0051"/>
<circle cx="567.7" cy="357.9" r="3.2" fill="#ff0051"/>
<circle cx="567.7" cy="359.3" r="3.2" fill="#ff0051"/>
<circle cx="567.7" cy="360.7" r="3.2" fill="#ff0051"/>
<circle cx="567.7" cy="378.1" r="3.2" fill="#ff0051"/>
<circle cx="142.9" cy="552.4" r="2.78" fill="#ff0051"/>
<circle cx="142.9" cy="582.6" r="2.78" fill="#ff0051"/>
<circle cx="142.9" cy="585.6" r="2.78" fill="#ff0051"/>
<circle cx="142.9" cy="598.4" r="2.78" fill="#ff0051"/>
<circle cx="202.2" cy="626.2" r="2.78" fill="#ff0051"/>
<circle cx="142.9" cy="650.1" r="2.78" fill="#ff0051"/>
<circle cx="460.8" cy="560.1" r="2.78" fill="#ff0051"/>
<circle cx="460.8" cy="573.2" r="2.78" fill="#ff0051"/>
<circle cx="427.4" cy="629.7" r="2.78" fill="#ff0051"/>
<circle cx="428.8" cy="636.0" r="2.78" fill="#635adb"/>
<circle cx="436.3" cy="639.3" r="2.78" fill="#ff0051"/>
<circle cx="450.5" cy="635.1" r="2.78" fill="#ff0051"/>
<circle cx="450.5" cy="639.7" r="2.78" fill="#ff0051"/>
<circle cx="407.3" cy="640.7" r="2.78" fill="#2e6ae9"/>
<circle cx="407.3" cy="651.2" r="2.78" fill="#2e6ae9"/>
<circle cx="458.9" cy="643.7" r="2.78" fill="#635adb"/>
<circle cx="461.3" cy="651.6" r="2.78" fill="#8c3abf"/>
<circle cx="461.3" cy="656.1" r="2.78" fill="#8c3abf"/>
<circle cx="480.2" cy="651.2" r="2.78" fill="#ff0051"/>
<circle cx="507.5" cy="647.7" r="2.78" fill="#8c3abf"/>
<circle cx="428.8" cy="656.1" r="2.78" fill="#635adb"/>
<circle cx="426.7" cy="657.5" r="2.78" fill="#ff0051"/>
<circle cx="436.3" cy="658.4" r="2.78" fill="#ff0051"/>
<circle cx="441.7" cy="656.6" r="2.78" fill="#8c3abf"/>
<circle cx="475.8" cy="659.6" r="2.78" fill="#2e6ae9"/>
<circle cx="480.2" cy="660.1" r="2.78" fill="#8c3abf"/>
<circle cx="526.5" cy="660.1" r="2.78" fill="#008bfb"/>
<circle cx="142.9" cy="658.9" r="2.78" fill="#ff0051"/>
<circle cx="142.9" cy="662.0" r="2.78" fill="#ff0051"/>
<circle cx="142.9" cy="667.6" r="2.78" fill="#ff0051"/>
<circle cx="142.9" cy="672.5" r="2.78" fill="#ff0051"/>
<circle cx="142.9" cy="677.8" r="2.78" fill="#ff0051"/>
<circle cx="142.9" cy="681.6" r="2.78" fill="#ff0051"/>
<circle cx="170.5" cy="706.2" r="2.78" fill="#8c3abf"/>
<circle cx="170.5" cy="717.2" r="2.78" fill="#8c3abf"/>
<circle cx="170.5" cy="721.9" r="2.78" fill="#8c3abf"/>
<circle cx="167.3" cy="724.2" r="2.78" fill="#2e6ae9"/>
<circle cx="167.3" cy="727.2" r="2.78" fill="#2e6ae9"/>
<circle cx="167.3" cy="730.3" r="2.78" fill="#2e6ae9"/>
<circle cx="167.3" cy="733.5" r="2.78" fill="#2e6ae9"/>
<circle cx="167.3" cy="736.5" r="2.78" fill="#2e6ae9"/>
<circle cx="167.3" cy="740.8" r="2.78" fill="#2e6ae9"/>
<circle cx="170.5" cy="740.8" r="2.78" fill="#8c3abf"/>
<circle cx="170.5" cy="744.3" r="2.78" fill="#8c3abf"/>
<circle cx="162.0" cy="745.0" r="2.78" fill="#008bfb"/>
<circle cx="185.2" cy="662.9" r="2.78" fill="#635adb"/>
<circle cx="185.2" cy="678.3" r="2.78" fill="#ff0051"/>
<circle cx="182.7" cy="681.6" r="2.78" fill="#8c3abf"/>
<circle cx="185.2" cy="682.7" r="2.78" fill="#635adb"/>
<circle cx="182.7" cy="686.5" r="2.78" fill="#ba00a0"/>
<circle cx="185.2" cy="689.2" r="2.78" fill="#ff0051"/>
<circle cx="182.7" cy="697.0" r="2.78" fill="#ba00a0"/>
<circle cx="185.2" cy="697.0" r="2.78" fill="#635adb"/>
<circle cx="185.2" cy="700.9" r="2.78" fill="#8c3abf"/>
<circle cx="182.7" cy="705.8" r="2.78" fill="#ba00a0"/>
<circle cx="186.6" cy="706.7" r="2.78" fill="#ff0051"/>
<circle cx="185.2" cy="711.9" r="2.78" fill="#635adb"/>
<circle cx="185.2" cy="714.6" r="2.78" fill="#ff0051"/>
<circle cx="185.2" cy="720.7" r="2.78" fill="#8c3abf"/>
<circle cx="185.2" cy="725.1" r="2.78" fill="#8c3abf"/>
<circle cx="185.2" cy="728.6" r="2.78" fill="#8c3abf"/>
<circle cx="180.4" cy="730.7" r="2.78" fill="#ba00a0"/>
<circle cx="185.2" cy="732.1" r="2.78" fill="#635adb"/>
<circle cx="180.4" cy="737.3" r="2.78" fill="#ff0051"/>
<circle cx="181.3" cy="740.8" r="2.78" fill="#ba00a0"/>
<circle cx="185.2" cy="735.6" r="2.78" fill="#8c3abf"/>
<circle cx="189.2" cy="732.1" r="2.78" fill="#008bfb"/>
<circle cx="189.2" cy="737.3" r="2.78" fill="#2e6ae9"/>
<circle cx="189.2" cy="742.6" r="2.78" fill="#2e6ae9"/>
<circle cx="190.9" cy="656.8" r="2.78" fill="#ff0051"/>
<circle cx="190.9" cy="668.1" r="2.78" fill="#ff0051"/>
<circle cx="190.9" cy="678.3" r="2.78" fill="#ff0051"/>
<circle cx="190.9" cy="684.8" r="2.78" fill="#ff0051"/>
<circle cx="190.9" cy="695.3" r="2.78" fill="#ff0051"/>
<circle cx="190.9" cy="698.4" r="2.78" fill="#ff0051"/>
<circle cx="190.9" cy="701.4" r="2.78" fill="#ff0051"/>
<circle cx="190.9" cy="706.2" r="2.78" fill="#ff0051"/>
<circle cx="190.9" cy="711.4" r="2.78" fill="#ff0051"/>
<circle cx="190.9" cy="717.2" r="2.78" fill="#ff0051"/>
<circle cx="194.5" cy="703.2" r="2.78" fill="#ba00a0"/>
<circle cx="194.5" cy="705.8" r="2.78" fill="#ba00a0"/>
<circle cx="194.5" cy="716.3" r="2.78" fill="#ba00a0"/>
<circle cx="194.5" cy="718.4" r="2.78" fill="#8c3abf"/>
<circle cx="189.2" cy="723.3" r="2.78" fill="#2e6ae9"/>
<circle cx="195.3" cy="725.1" r="2.78" fill="#ba00a0"/>
<circle cx="195.3" cy="728.6" r="2.78" fill="#ba00a0"/>
<circle cx="195.3" cy="733.0" r="2.78" fill="#ba00a0"/>
<circle cx="195.3" cy="737.3" r="2.78" fill="#ba00a0"/>
<circle cx="194.5" cy="740.8" r="2.78" fill="#ba00a0"/>
<circle cx="202.3" cy="662.9" r="2.78" fill="#ff0051"/>
<circle cx="202.0" cy="687.4" r="2.78" fill="#ff0051"/>
<circle cx="205.3" cy="686.5" r="2.78" fill="#8c3abf"/>
<circle cx="202.3" cy="706.7" r="2.78" fill="#ff0051"/>
<circle cx="203.2" cy="712.8" r="2.78" fill="#ff0051"/>
<circle cx="205.3" cy="717.2" r="2.78" fill="#8c3abf"/>
<circle cx="203.2" cy="722.4" r="2.78" fill="#ff0051"/>
<circle cx="202.3" cy="732.1" r="2.78" fill="#ba00a0"/>
<circle cx="204.1" cy="733.8" r="2.78" fill="#ff0051"/>
<circle cx="205.8" cy="732.1" r="2.78" fill="#ff0051"/>
<circle cx="204.1" cy="737.3" r="2.78" fill="#e50080"/>
<circle cx="203.2" cy="740.8" r="2.78" fill="#ff0051"/>
<circle cx="200.6" cy="737.3" r="2.78" fill="#635adb"/>
<circle cx="212.5" cy="721.6" r="2.78" fill="#ff0051"/>
<circle cx="212.5" cy="723.3" r="2.78" fill="#ff0051"/>
<circle cx="210.2" cy="732.1" r="2.78" fill="#2e6ae9"/>
<circle cx="213.7" cy="732.1" r="2.78" fill="#ff0051"/>
<circle cx="212.5" cy="737.3" r="2.78" fill="#ff0051"/>
<circle cx="212.5" cy="741.7" r="2.78" fill="#ff0051"/>
<circle cx="222.5" cy="711.4" r="2.78" fill="#ba00a0"/>
<circle cx="219.9" cy="717.5" r="2.78" fill="#ba00a0"/>
<circle cx="222.5" cy="724.2" r="2.78" fill="#ba00a0"/>
<circle cx="220.7" cy="728.6" r="2.78" fill="#ba00a0"/>
<circle cx="223.4" cy="730.3" r="2.78" fill="#ba00a0"/>
<circle cx="222.5" cy="736.5" r="2.78" fill="#e50080"/>
<circle cx="227.7" cy="688.3" r="2.78" fill="#ff0051"/>
<circle cx="227.7" cy="691.8" r="2.78" fill="#ff0051"/>
<circle cx="227.7" cy="705.3" r="2.78" fill="#ff0051"/>
<circle cx="230.0" cy="708.4" r="2.78" fill="#ba00a0"/>
<circle cx="230.0" cy="721.6" r="2.78" fill="#8c3abf"/>
<circle cx="227.7" cy="726.8" r="2.78" fill="#ff0051"/>
<circle cx="230.0" cy="731.2" r="2.78" fill="#ba00a0"/>
<circle cx="230.0" cy="735.6" r="2.78" fill="#8c3abf"/>
<circle cx="228.6" cy="739.1" r="2.78" fill="#ba00a0"/>
<circle cx="230.0" cy="742.6" r="2.78" fill="#8c3abf"/>
<circle cx="241.4" cy="686.5" r="2.78" fill="#008bfb"/>
<circle cx="241.4" cy="692.7" r="2.78" fill="#008bfb"/>
<circle cx="241.4" cy="702.3" r="2.78" fill="#008bfb"/>
<circle cx="240.0" cy="709.3" r="2.78" fill="#635adb"/>
<circle cx="240.0" cy="725.1" r="2.78" fill="#8c3abf"/>
<circle cx="241.4" cy="733.8" r="2.78" fill="#008bfb"/>
<circle cx="241.4" cy="740.8" r="2.78" fill="#008bfb"/>
<circle cx="241.4" cy="744.3" r="2.78" fill="#2e6ae9"/>
<circle cx="254.0" cy="725.1" r="2.78" fill="#635adb"/>
<circle cx="254.0" cy="733.8" r="2.78" fill="#635adb"/>
<circle cx="254.0" cy="738.2" r="2.78" fill="#635adb"/>
<circle cx="254.0" cy="742.6" r="2.78" fill="#8c3abf"/>
<circle cx="256.1" cy="740.0" r="2.78" fill="#ff0051"/>
<circle cx="262.4" cy="725.4" r="2.78" fill="#ba00a0"/>
<circle cx="262.4" cy="744.3" r="2.78" fill="#ba00a0"/>
<circle cx="245.3" cy="745.0" r="2.78" fill="#ff0051"/>
<circle cx="271.2" cy="745.0" r="2.78" fill="#8c3abf"/>
<circle cx="300.4" cy="701.4" r="2.78" fill="#ff0051"/>
<circle cx="303.6" cy="709.3" r="2.78" fill="#ff0051"/>
<circle cx="303.6" cy="712.5" r="2.78" fill="#ff0051"/>
<circle cx="303.6" cy="715.4" r="2.78" fill="#ff0051"/>
<circle cx="293.1" cy="730.7" r="2.78" fill="#ff0051"/>
<circle cx="303.6" cy="726.8" r="2.78" fill="#ff0051"/>
<circle cx="303.6" cy="732.1" r="2.78" fill="#ff0051"/>
<circle cx="303.6" cy="736.5" r="2.78" fill="#ff0051"/>
<circle cx="303.6" cy="740.8" r="2.78" fill="#ff0051"/>
<circle cx="303.6" cy="743.5" r="2.78" fill="#ff0051"/>
<circle cx="322.3" cy="724.5" r="2.78" fill="#ff0051"/>
<circle cx="322.3" cy="741.7" r="2.78" fill="#ff0051"/>
<circle cx="322.3" cy="744.3" r="2.78" fill="#ff0051"/>
<circle cx="330.7" cy="745.0" r="2.78" fill="#2e6ae9"/>
<circle cx="348.6" cy="677.2" r="2.78" fill="#e50080"/>
<circle cx="360.0" cy="693.2" r="2.78" fill="#ff0051"/>
<circle cx="352.1" cy="722.8" r="2.78" fill="#ba00a0"/>
<circle cx="348.6" cy="728.6" r="2.78" fill="#e50080"/>
<circle cx="360.0" cy="726.5" r="2.78" fill="#ff0051"/>
<circle cx="352.1" cy="732.1" r="2.78" fill="#2e6ae9"/>
<circle cx="358.2" cy="731.2" r="2.78" fill="#635adb"/>
<circle cx="354.2" cy="735.9" r="2.78" fill="#8c3abf"/>
<circle cx="352.1" cy="739.1" r="2.78" fill="#2e6ae9"/>
<circle cx="343.4" cy="743.5" r="2.78" fill="#8c3abf"/>
<circle cx="357.7" cy="741.7" r="2.78" fill="#8c3abf"/>
<circle cx="350.4" cy="744.7" r="2.78" fill="#2e6ae9"/>
<circle cx="426.6" cy="657.1" r="2.78" fill="#ff0051"/>
<circle cx="429.2" cy="656.4" r="2.78" fill="#8c3abf"/>
<circle cx="436.2" cy="658.5" r="2.78" fill="#ff0051"/>
<circle cx="442.0" cy="656.4" r="2.78" fill="#8c3abf"/>
<circle cx="461.6" cy="656.4" r="2.78" fill="#8c3abf"/>
<circle cx="430.4" cy="661.7" r="2.78" fill="#ba00a0"/>
<circle cx="440.9" cy="662.9" r="2.78" fill="#008bfb"/>
<circle cx="424.5" cy="666.9" r="2.78" fill="#ff0051"/>
<circle cx="423.1" cy="665.9" r="2.78" fill="#635adb"/>
<circle cx="449.0" cy="665.2" r="2.78" fill="#ff0051"/>
<circle cx="449.0" cy="666.9" r="2.78" fill="#ff0051"/>
<circle cx="475.6" cy="659.9" r="2.78" fill="#2e6ae9"/>
<circle cx="480.0" cy="660.3" r="2.78" fill="#8c3abf"/>
<circle cx="474.7" cy="666.4" r="2.78" fill="#2e6ae9"/>
<circle cx="480.0" cy="667.3" r="2.78" fill="#ff0051"/>
<circle cx="459.9" cy="672.5" r="2.78" fill="#008bfb"/>
<circle cx="462.5" cy="670.4" r="2.78" fill="#e50080"/>
<circle cx="464.6" cy="672.2" r="2.78" fill="#ba00a0"/>
<circle cx="473.9" cy="672.0" r="2.78" fill="#2e6ae9"/>
<circle cx="430.9" cy="671.1" r="2.78" fill="#8c3abf"/>
<circle cx="440.9" cy="672.0" r="2.78" fill="#008bfb"/>
<circle cx="442.0" cy="673.4" r="2.78" fill="#8c3abf"/>
<circle cx="423.9" cy="673.4" r="2.78" fill="#ba00a0"/>
<circle cx="370.0" cy="673.0" r="2.78" fill="#ff0051"/>
<circle cx="402.9" cy="676.9" r="2.78" fill="#e50080"/>
<circle cx="422.2" cy="677.8" r="2.78" fill="#8c3abf"/>
<circle cx="432.2" cy="679.2" r="2.78" fill="#8c3abf"/>
<circle cx="430.4" cy="681.3" r="2.78" fill="#ba00a0"/>
<circle cx="419.6" cy="682.5" r="2.78" fill="#ba00a0"/>
<circle cx="434.5" cy="685.1" r="2.78" fill="#ff0051"/>
<circle cx="462.0" cy="681.6" r="2.78" fill="#ff0051"/>
<circle cx="402.9" cy="687.4" r="2.78" fill="#e50080"/>
<circle cx="394.2" cy="687.8" r="2.78" fill="#ba00a0"/>
<circle cx="412.2" cy="688.3" r="2.78" fill="#ff0051"/>
<circle cx="419.6" cy="688.3" r="2.78" fill="#ba00a0"/>
<circle cx="434.5" cy="688.3" r="2.78" fill="#ff0051"/>
<circle cx="377.2" cy="690.0" r="2.78" fill="#e50080"/>
<circle cx="385.1" cy="690.9" r="2.78" fill="#ff0051"/>
<circle cx="431.8" cy="691.8" r="2.78" fill="#ba00a0"/>
<circle cx="449.9" cy="691.8" r="2.78" fill="#e50080"/>
<circle cx="361.4" cy="692.7" r="2.78" fill="#e50080"/>
<circle cx="435.3" cy="695.3" r="2.78" fill="#8c3abf"/>
<circle cx="412.6" cy="695.6" r="2.78" fill="#2e6ae9"/>
<circle cx="419.6" cy="696.2" r="2.78" fill="#ba00a0"/>
<circle cx="458.1" cy="695.6" r="2.78" fill="#8c3abf"/>
<circle cx="436.7" cy="697.0" r="2.78" fill="#8c3abf"/>
<circle cx="435.0" cy="699.7" r="2.78" fill="#8c3abf"/>
<circle cx="394.2" cy="697.4" r="2.78" fill="#ba00a0"/>
<circle cx="459.0" cy="700.9" r="2.78" fill="#8c3abf"/>
<circle cx="363.9" cy="702.3" r="2.78" fill="#e50080"/>
<circle cx="462.5" cy="702.6" r="2.78" fill="#008bfb"/>
<circle cx="419.6" cy="704.1" r="2.78" fill="#2e6ae9"/>
<circle cx="421.0" cy="705.8" r="2.78" fill="#ff0051"/>
<circle cx="449.9" cy="704.9" r="2.78" fill="#e50080"/>
<circle cx="473.9" cy="703.2" r="2.78" fill="#2e6ae9"/>
<circle cx="395.0" cy="706.2" r="2.78" fill="#ba00a0"/>
<circle cx="390.1" cy="707.2" r="2.78" fill="#8c3abf"/>
<circle cx="436.2" cy="707.2" r="2.78" fill="#8c3abf"/>
<circle cx="420.4" cy="708.4" r="2.78" fill="#8c3abf"/>
<circle cx="462.5" cy="706.7" r="2.78" fill="#008bfb"/>
<circle cx="480.0" cy="694.4" r="2.78" fill="#8c3abf"/>
<circle cx="370.0" cy="709.8" r="2.78" fill="#ff0051"/>
<circle cx="395.0" cy="711.4" r="2.78" fill="#ba00a0"/>
<circle cx="363.9" cy="712.8" r="2.78" fill="#635adb"/>
<circle cx="370.9" cy="713.7" r="2.78" fill="#ba00a0"/>
<circle cx="407.3" cy="712.5" r="2.78" fill="#e50080"/>
<circle cx="459.9" cy="711.1" r="2.78" fill="#8c3abf"/>
<circle cx="429.2" cy="711.9" r="2.78" fill="#2e6ae9"/>
<circle cx="431.8" cy="711.4" r="2.78" fill="#008bfb"/>
<circle cx="436.2" cy="711.4" r="2.78" fill="#ff0051"/>
<circle cx="480.0" cy="711.1" r="2.78" fill="#ba00a0"/>
<circle cx="380.1" cy="714.6" r="2.78" fill="#e50080"/>
<circle cx="392.4" cy="714.6" r="2.78" fill="#8c3abf"/>
<circle cx="412.6" cy="714.0" r="2.78" fill="#2e6ae9"/>
<circle cx="462.5" cy="714.6" r="2.78" fill="#008bfb"/>
<circle cx="436.2" cy="714.9" r="2.78" fill="#ff0051"/>
<circle cx="400.3" cy="716.3" r="2.78" fill="#e50080"/>
<circle cx="416.9" cy="717.2" r="2.78" fill="#8c3abf"/>
<circle cx="421.3" cy="717.2" r="2.78" fill="#8c3abf"/>
<circle cx="430.1" cy="717.2" r="2.78" fill="#2e6ae9"/>
<circle cx="439.7" cy="717.2" r="2.78" fill="#008bfb"/>
<circle cx="457.2" cy="717.2" r="2.78" fill="#8c3abf"/>
<circle cx="475.6" cy="716.3" r="2.78" fill="#008bfb"/>
<circle cx="385.1" cy="718.1" r="2.78" fill="#ff0051"/>
<circle cx="377.2" cy="718.6" r="2.78" fill="#e50080"/>
<circle cx="394.2" cy="718.9" r="2.78" fill="#2e6ae9"/>
<circle cx="441.5" cy="718.9" r="2.78" fill="#008bfb"/>
<circle cx="461.6" cy="719.5" r="2.78" fill="#8c3abf"/>
<circle cx="433.6" cy="721.6" r="2.78" fill="#008bfb"/>
<circle cx="405.2" cy="720.7" r="2.78" fill="#ba00a0"/>
<circle cx="389.4" cy="721.9" r="2.78" fill="#8c3abf"/>
<circle cx="386.3" cy="723.7" r="2.78" fill="#2e6ae9"/>
<circle cx="364.4" cy="723.0" r="2.78" fill="#635adb"/>
<circle cx="417.5" cy="723.7" r="2.78" fill="#8c3abf"/>
<circle cx="445.8" cy="723.0" r="2.78" fill="#8c3abf"/>
<circle cx="457.2" cy="722.4" r="2.78" fill="#8c3abf"/>
<circle cx="439.7" cy="723.3" r="2.78" fill="#008bfb"/>
<circle cx="397.7" cy="723.3" r="2.78" fill="#ba00a0"/>
<circle cx="475.6" cy="724.5" r="2.78" fill="#008bfb"/>
<circle cx="406.4" cy="725.1" r="2.78" fill="#e50080"/>
<circle cx="360.9" cy="726.5" r="2.78" fill="#ff0051"/>
<circle cx="380.1" cy="727.4" r="2.78" fill="#e50080"/>
<circle cx="398.2" cy="727.7" r="2.78" fill="#ba00a0"/>
<circle cx="425.7" cy="727.4" r="2.78" fill="#8c3abf"/>
<circle cx="409.9" cy="729.5" r="2.78" fill="#008bfb"/>
<circle cx="411.2" cy="728.6" r="2.78" fill="#8c3abf"/>
<circle cx="461.1" cy="727.7" r="2.78" fill="#8c3abf"/>
<circle cx="467.7" cy="728.6" r="2.78" fill="#8c3abf"/>
<circle cx="388.9" cy="730.3" r="2.78" fill="#2e6ae9"/>
<circle cx="386.6" cy="732.1" r="2.78" fill="#8c3abf"/>
<circle cx="430.9" cy="731.6" r="2.78" fill="#008bfb"/>
<circle cx="445.8" cy="731.2" r="2.78" fill="#8c3abf"/>
<circle cx="438.8" cy="728.6" r="2.78" fill="#ba00a0"/>
<circle cx="424.8" cy="736.5" r="2.78" fill="#2e6ae9"/>
<circle cx="426.6" cy="733.8" r="2.78" fill="#8c3abf"/>
<circle cx="431.8" cy="735.6" r="2.78" fill="#8c3abf"/>
<circle cx="451.1" cy="735.6" r="2.78" fill="#008bfb"/>
<circle cx="447.6" cy="734.7" r="2.78" fill="#8c3abf"/>
<circle cx="363.9" cy="734.7" r="2.78" fill="#ba00a0"/>
<circle cx="477.0" cy="732.1" r="2.78" fill="#2e6ae9"/>
<circle cx="475.6" cy="736.5" r="2.78" fill="#008bfb"/>
<circle cx="370.9" cy="739.6" r="2.78" fill="#ba00a0"/>
<circle cx="385.1" cy="739.6" r="2.78" fill="#008bfb"/>
<circle cx="401.2" cy="739.1" r="2.78" fill="#2e6ae9"/>
<circle cx="400.3" cy="738.2" r="2.78" fill="#ba00a0"/>
<circle cx="409.9" cy="737.3" r="2.78" fill="#008bfb"/>
<circle cx="414.3" cy="737.3" r="2.78" fill="#008bfb"/>
<circle cx="402.0" cy="741.7" r="2.78" fill="#2e6ae9"/>
<circle cx="409.9" cy="741.7" r="2.78" fill="#008bfb"/>
<circle cx="414.3" cy="741.2" r="2.78" fill="#008bfb"/>
<circle cx="390.7" cy="742.6" r="2.78" fill="#008bfb"/>
<circle cx="362.6" cy="743.1" r="2.78" fill="#8c3abf"/>
<circle cx="454.6" cy="739.1" r="2.78" fill="#ba00a0"/>
<circle cx="451.1" cy="740.0" r="2.78" fill="#008bfb"/>
<circle cx="447.6" cy="742.1" r="2.78" fill="#8c3abf"/>
<circle cx="473.0" cy="740.0" r="2.78" fill="#8c3abf"/>
<circle cx="467.7" cy="743.1" r="2.78" fill="#8c3abf"/>
<circle cx="430.9" cy="745.0" r="2.78" fill="#635adb"/>
<circle cx="480.0" cy="739.1" r="2.78" fill="#8c3abf"/>
<circle cx="526.6" cy="678.1" r="2.78" fill="#008bfb"/>
<circle cx="488.4" cy="677.4" r="2.78" fill="#2e6ae9"/>
<circle cx="494.9" cy="681.3" r="2.78" fill="#8c3abf"/>
<circle cx="487.9" cy="684.4" r="2.78" fill="#ba00a0"/>
<circle cx="494.9" cy="686.9" r="2.78" fill="#8c3abf"/>
<circle cx="488.4" cy="692.1" r="2.78" fill="#2e6ae9"/>
<circle cx="508.0" cy="689.7" r="2.78" fill="#8c3abf"/>
<circle cx="510.1" cy="696.3" r="2.78" fill="#ff0051"/>
<circle cx="482.1" cy="708.4" r="2.78" fill="#008bfb"/>
<circle cx="487.9" cy="708.1" r="2.78" fill="#ba00a0"/>
<circle cx="492.6" cy="707.2" r="2.78" fill="#8c3abf"/>
<circle cx="492.6" cy="710.7" r="2.78" fill="#8c3abf"/>
<circle cx="510.1" cy="712.3" r="2.78" fill="#ff0051"/>
<circle cx="534.0" cy="713.7" r="2.78" fill="#2e6ae9"/>
<circle cx="534.0" cy="716.0" r="2.78" fill="#2e6ae9"/>
<circle cx="548.8" cy="715.3" r="2.78" fill="#8c3abf"/>
<circle cx="566.4" cy="722.3" r="2.78" fill="#8c3abf"/>
<circle cx="566.4" cy="731.6" r="2.78" fill="#8c3abf"/>
<circle cx="482.1" cy="718.9" r="2.78" fill="#008bfb"/>
<circle cx="485.6" cy="720.7" r="2.78" fill="#ff0051"/>
<circle cx="508.0" cy="735.6" r="2.78" fill="#ba00a0"/>
<circle cx="518.2" cy="732.1" r="2.78" fill="#2e6ae9"/>
<circle cx="526.8" cy="737.0" r="2.78" fill="#ba00a0"/>
<circle cx="518.2" cy="741.7" r="2.78" fill="#2e6ae9"/>
<circle cx="485.6" cy="743.5" r="2.78" fill="#ff0051"/>
<circle cx="480.9" cy="745.0" r="2.78" fill="#ba00a0"/>
<circle cx="142.9" cy="779.2" r="2.78" fill="#ff0051"/>
<circle cx="142.9" cy="785.3" r="2.78" fill="#ff0051"/>
<circle cx="148.4" cy="757.3" r="2.78" fill="#008bfb"/>
<circle cx="148.4" cy="766.9" r="2.78" fill="#008bfb"/>
<circle cx="148.4" cy="770.4" r="2.78" fill="#008bfb"/>
<circle cx="148.4" cy="773.9" r="2.78" fill="#008bfb"/>
<circle cx="148.4" cy="777.4" r="2.78" fill="#008bfb"/>
<circle cx="148.4" cy="781.4" r="2.78" fill="#008bfb"/>
<circle cx="158.9" cy="750.3" r="2.78" fill="#8c3abf"/>
<circle cx="158.9" cy="753.8" r="2.78" fill="#8c3abf"/>
<circle cx="158.9" cy="757.3" r="2.78" fill="#8c3abf"/>
<circle cx="158.9" cy="760.8" r="2.78" fill="#8c3abf"/>
<circle cx="158.9" cy="768.6" r="2.78" fill="#ba00a0"/>
<circle cx="158.9" cy="771.3" r="2.78" fill="#8c3abf"/>
<circle cx="162.0" cy="746.8" r="2.78" fill="#008bfb"/>
<circle cx="162.0" cy="754.6" r="2.78" fill="#008bfb"/>
<circle cx="162.0" cy="758.1" r="2.78" fill="#008bfb"/>
<circle cx="162.0" cy="761.6" r="2.78" fill="#008bfb"/>
<circle cx="162.0" cy="766.9" r="2.78" fill="#008bfb"/>
<circle cx="162.0" cy="817.2" r="2.78" fill="#008bfb"/>
<circle cx="162.0" cy="825.6" r="2.78" fill="#008bfb"/>
<circle cx="167.3" cy="747.6" r="2.78" fill="#2e6ae9"/>
<circle cx="167.3" cy="780.0" r="2.78" fill="#635adb"/>
<circle cx="167.3" cy="784.4" r="2.78" fill="#635adb"/>
<circle cx="170.5" cy="752.0" r="2.78" fill="#8c3abf"/>
<circle cx="170.5" cy="755.5" r="2.78" fill="#8c3abf"/>
<circle cx="170.5" cy="759.9" r="2.78" fill="#8c3abf"/>
<circle cx="170.5" cy="802.8" r="2.78" fill="#8c3abf"/>
<circle cx="170.5" cy="816.5" r="2.78" fill="#8c3abf"/>
<circle cx="175.2" cy="779.2" r="2.78" fill="#635adb"/>
<circle cx="175.2" cy="781.8" r="2.78" fill="#635adb"/>
<circle cx="175.2" cy="788.8" r="2.78" fill="#635adb"/>
<circle cx="175.2" cy="790.9" r="2.78" fill="#635adb"/>
<circle cx="175.2" cy="804.6" r="2.78" fill="#635adb"/>
<circle cx="175.2" cy="810.7" r="2.78" fill="#635adb"/>
<circle cx="175.2" cy="814.2" r="2.78" fill="#635adb"/>
<circle cx="175.2" cy="817.7" r="2.78" fill="#635adb"/>
<circle cx="180.4" cy="746.8" r="2.78" fill="#ba00a0"/>
<circle cx="180.4" cy="752.0" r="2.78" fill="#ba00a0"/>
<circle cx="180.4" cy="755.5" r="2.78" fill="#ba00a0"/>
<circle cx="180.4" cy="760.8" r="2.78" fill="#ba00a0"/>
<circle cx="180.4" cy="780.0" r="2.78" fill="#e50080"/>
<circle cx="180.4" cy="794.6" r="2.78" fill="#e50080"/>
<circle cx="180.4" cy="801.9" r="2.78" fill="#ba00a0"/>
<circle cx="180.4" cy="805.4" r="2.78" fill="#ba00a0"/>
<circle cx="180.4" cy="813.7" r="2.78" fill="#e50080"/>
<circle cx="182.7" cy="746.8" r="2.78" fill="#ba00a0"/>
<circle cx="182.7" cy="752.9" r="2.78" fill="#8c3abf"/>
<circle cx="182.7" cy="757.3" r="2.78" fill="#8c3abf"/>
<circle cx="182.7" cy="801.1" r="2.78" fill="#ba00a0"/>
<circle cx="185.2" cy="746.8" r="2.78" fill="#8c3abf"/>
<circle cx="185.2" cy="775.7" r="2.78" fill="#8c3abf"/>
<circle cx="185.2" cy="779.2" r="2.78" fill="#8c3abf"/>
<circle cx="185.2" cy="781.8" r="2.78" fill="#8c3abf"/>
<circle cx="185.2" cy="803.7" r="2.78" fill="#ff0051"/>
<circle cx="190.9" cy="755.5" r="2.78" fill="#008bfb"/>
<circle cx="190.9" cy="759.0" r="2.78" fill="#008bfb"/>
<circle cx="190.9" cy="762.5" r="2.78" fill="#008bfb"/>
<circle cx="190.9" cy="766.0" r="2.78" fill="#2e6ae9"/>
<circle cx="190.9" cy="773.0" r="2.78" fill="#e50080"/>
<circle cx="190.9" cy="777.4" r="2.78" fill="#ff0051"/>
<circle cx="190.9" cy="780.9" r="2.78" fill="#e50080"/>
<circle cx="190.9" cy="792.3" r="2.78" fill="#ff0051"/>
<circle cx="190.9" cy="801.1" r="2.78" fill="#ba00a0"/>
<circle cx="190.9" cy="805.4" r="2.78" fill="#2e6ae9"/>
<circle cx="189.2" cy="808.9" r="2.78" fill="#2e6ae9"/>
<circle cx="190.9" cy="824.7" r="2.78" fill="#e50080"/>
<circle cx="190.9" cy="831.7" r="2.78" fill="#e50080"/>
<circle cx="194.5" cy="757.3" r="2.78" fill="#008bfb"/>
<circle cx="194.5" cy="761.6" r="2.78" fill="#008bfb"/>
<circle cx="194.5" cy="773.9" r="2.78" fill="#2e6ae9"/>
<circle cx="194.5" cy="780.0" r="2.78" fill="#008bfb"/>
<circle cx="194.5" cy="783.5" r="2.78" fill="#008bfb"/>
<circle cx="193.6" cy="794.1" r="2.78" fill="#635adb"/>
<circle cx="194.5" cy="805.4" r="2.78" fill="#008bfb"/>
<circle cx="194.5" cy="812.4" r="2.78" fill="#2e6ae9"/>
<circle cx="194.5" cy="815.9" r="2.78" fill="#2e6ae9"/>
<circle cx="194.5" cy="820.3" r="2.78" fill="#ba00a0"/>
<circle cx="196.2" cy="827.3" r="2.78" fill="#8c3abf"/>
<circle cx="195.3" cy="835.0" r="2.78" fill="#ba00a0"/>
<circle cx="198.0" cy="764.3" r="2.78" fill="#008bfb"/>
<circle cx="198.0" cy="772.2" r="2.78" fill="#2e6ae9"/>
<circle cx="198.0" cy="780.0" r="2.78" fill="#008bfb"/>
<circle cx="198.0" cy="782.7" r="2.78" fill="#008bfb"/>
<circle cx="197.1" cy="788.8" r="2.78" fill="#8c3abf"/>
<circle cx="196.2" cy="805.4" r="2.78" fill="#008bfb"/>
<circle cx="202.0" cy="748.5" r="2.78" fill="#e50080"/>
<circle cx="202.0" cy="760.8" r="2.78" fill="#ff0051"/>
<circle cx="202.0" cy="769.5" r="2.78" fill="#8c3abf"/>
<circle cx="202.0" cy="776.5" r="2.78" fill="#ba00a0"/>
<circle cx="202.0" cy="780.0" r="2.78" fill="#e50080"/>
<circle cx="202.0" cy="787.9" r="2.78" fill="#e50080"/>
<circle cx="202.0" cy="792.3" r="2.78" fill="#ba00a0"/>
<circle cx="202.0" cy="795.8" r="2.78" fill="#e50080"/>
<circle cx="202.0" cy="804.6" r="2.78" fill="#ba00a0"/>
<circle cx="202.0" cy="809.8" r="2.78" fill="#635adb"/>
<circle cx="203.2" cy="815.1" r="2.78" fill="#e50080"/>
<circle cx="201.5" cy="820.3" r="2.78" fill="#8c3abf"/>
<circle cx="202.3" cy="822.1" r="2.78" fill="#ff0051"/>
<circle cx="202.0" cy="827.3" r="2.78" fill="#e50080"/>
<circle cx="202.0" cy="830.8" r="2.78" fill="#ba00a0"/>
<circle cx="205.8" cy="757.3" r="2.78" fill="#8c3abf"/>
<circle cx="205.8" cy="767.8" r="2.78" fill="#8c3abf"/>
<circle cx="207.6" cy="792.3" r="2.78" fill="#635adb"/>
<circle cx="207.6" cy="795.8" r="2.78" fill="#635adb"/>
<circle cx="206.7" cy="806.3" r="2.78" fill="#8c3abf"/>
<circle cx="207.6" cy="823.8" r="2.78" fill="#635adb"/>
<circle cx="207.6" cy="826.5" r="2.78" fill="#635adb"/>
<circle cx="210.2" cy="803.7" r="2.78" fill="#8c3abf"/>
<circle cx="212.5" cy="746.8" r="2.78" fill="#ba00a0"/>
<circle cx="212.5" cy="752.0" r="2.78" fill="#ba00a0"/>
<circle cx="212.5" cy="757.3" r="2.78" fill="#ba00a0"/>
<circle cx="212.5" cy="762.5" r="2.78" fill="#ba00a0"/>
<circle cx="212.5" cy="767.8" r="2.78" fill="#ba00a0"/>
<circle cx="212.5" cy="770.4" r="2.78" fill="#ba00a0"/>
<circle cx="212.5" cy="787.0" r="2.78" fill="#ff0051"/>
<circle cx="212.5" cy="791.4" r="2.78" fill="#ba00a0"/>
<circle cx="213.7" cy="799.3" r="2.78" fill="#e50080"/>
<circle cx="213.7" cy="815.9" r="2.78" fill="#e50080"/>
<circle cx="219.5" cy="765.1" r="2.78" fill="#2e6ae9"/>
<circle cx="219.5" cy="767.8" r="2.78" fill="#2e6ae9"/>
<circle cx="220.2" cy="773.0" r="2.78" fill="#e50080"/>
<circle cx="219.5" cy="779.2" r="2.78" fill="#2e6ae9"/>
<circle cx="219.5" cy="782.7" r="2.78" fill="#2e6ae9"/>
<circle cx="220.2" cy="809.8" r="2.78" fill="#e50080"/>
<circle cx="220.2" cy="815.9" r="2.78" fill="#e50080"/>
<circle cx="219.5" cy="821.2" r="2.78" fill="#2e6ae9"/>
<circle cx="219.5" cy="826.5" r="2.78" fill="#2e6ae9"/>
<circle cx="222.5" cy="755.5" r="2.78" fill="#ba00a0"/>
<circle cx="223.4" cy="820.3" r="2.78" fill="#ba00a0"/>
<circle cx="223.4" cy="833.5" r="2.78" fill="#ba00a0"/>
<circle cx="227.7" cy="746.8" r="2.78" fill="#ff0051"/>
<circle cx="227.7" cy="767.8" r="2.78" fill="#008bfb"/>
<circle cx="227.7" cy="773.0" r="2.78" fill="#008bfb"/>
<circle cx="227.7" cy="777.4" r="2.78" fill="#008bfb"/>
<circle cx="227.7" cy="781.8" r="2.78" fill="#008bfb"/>
<circle cx="227.7" cy="786.2" r="2.78" fill="#008bfb"/>
<circle cx="227.7" cy="797.6" r="2.78" fill="#ff0051"/>
<circle cx="227.7" cy="801.1" r="2.78" fill="#ff0051"/>
<circle cx="227.7" cy="815.1" r="2.78" fill="#008bfb"/>
<circle cx="227.7" cy="823.8" r="2.78" fill="#2e6ae9"/>
<circle cx="230.0" cy="757.3" r="2.78" fill="#8c3abf"/>
<circle cx="230.0" cy="761.6" r="2.78" fill="#8c3abf"/>
<circle cx="231.2" cy="755.5" r="2.78" fill="#008bfb"/>
<circle cx="231.2" cy="772.2" r="2.78" fill="#008bfb"/>
<circle cx="231.2" cy="777.4" r="2.78" fill="#008bfb"/>
<circle cx="231.2" cy="782.7" r="2.78" fill="#008bfb"/>
<circle cx="232.1" cy="787.9" r="2.78" fill="#008bfb"/>
<circle cx="231.2" cy="796.7" r="2.78" fill="#008bfb"/>
<circle cx="230.0" cy="804.6" r="2.78" fill="#635adb"/>
<circle cx="231.2" cy="808.9" r="2.78" fill="#2e6ae9"/>
<circle cx="231.2" cy="828.2" r="2.78" fill="#008bfb"/>
<circle cx="235.6" cy="757.3" r="2.78" fill="#ba00a0"/>
<circle cx="234.7" cy="764.3" r="2.78" fill="#8c3abf"/>
<circle cx="235.6" cy="769.5" r="2.78" fill="#008bfb"/>
<circle cx="236.5" cy="776.5" r="2.78" fill="#008bfb"/>
<circle cx="236.5" cy="782.7" r="2.78" fill="#008bfb"/>
<circle cx="235.6" cy="788.8" r="2.78" fill="#ba00a0"/>
<circle cx="236.5" cy="795.8" r="2.78" fill="#ba00a0"/>
<circle cx="236.5" cy="801.1" r="2.78" fill="#ba00a0"/>
<circle cx="236.5" cy="806.3" r="2.78" fill="#ba00a0"/>
<circle cx="236.5" cy="811.6" r="2.78" fill="#ba00a0"/>
<circle cx="236.5" cy="816.8" r="2.78" fill="#ba00a0"/>
<circle cx="235.6" cy="822.1" r="2.78" fill="#8c3abf"/>
<circle cx="240.0" cy="801.1" r="2.78" fill="#ba00a0"/>
<circle cx="240.0" cy="808.1" r="2.78" fill="#ba00a0"/>
<circle cx="240.0" cy="815.1" r="2.78" fill="#ba00a0"/>
<circle cx="240.0" cy="766.0" r="2.78" fill="#008bfb"/>
<circle cx="240.0" cy="773.0" r="2.78" fill="#008bfb"/>
<circle cx="240.0" cy="822.1" r="2.78" fill="#8c3abf"/>
<circle cx="189.2" cy="742.9" r="2.78" fill="#ba00a0"/>
<circle cx="195.3" cy="747.5" r="2.78" fill="#8c3abf"/>
<circle cx="199.7" cy="744.3" r="2.78" fill="#8c3abf"/>
<circle cx="204.1" cy="748.5" r="2.78" fill="#ba00a0"/>
<circle cx="209.3" cy="743.6" r="2.78" fill="#8c3abf"/>
<circle cx="218.1" cy="747.8" r="2.78" fill="#ba00a0"/>
<circle cx="225.1" cy="745.4" r="2.78" fill="#ff0051"/>
<circle cx="232.1" cy="743.2" r="2.78" fill="#e50080"/>
<circle cx="237.4" cy="748.9" r="2.78" fill="#8c3abf"/>
<circle cx="189.2" cy="750.3" r="2.78" fill="#008bfb"/>
<circle cx="191.8" cy="752.0" r="2.78" fill="#008bfb"/>
<circle cx="193.6" cy="753.8" r="2.78" fill="#008bfb"/>
<circle cx="197.1" cy="755.5" r="2.78" fill="#008bfb"/>
<circle cx="190.1" cy="767.8" r="2.78" fill="#008bfb"/>
<circle cx="197.1" cy="768.6" r="2.78" fill="#008bfb"/>
<circle cx="198.8" cy="752.0" r="2.78" fill="#8c3abf"/>
<circle cx="204.1" cy="752.0" r="2.78" fill="#8c3abf"/>
<circle cx="202.3" cy="755.5" r="2.78" fill="#ff0051"/>
<circle cx="203.2" cy="762.5" r="2.78" fill="#ff0051"/>
<circle cx="200.6" cy="766.0" r="2.78" fill="#e50080"/>
<circle cx="207.6" cy="762.5" r="2.78" fill="#8c3abf"/>
<circle cx="208.5" cy="767.8" r="2.78" fill="#8c3abf"/>
<circle cx="215.5" cy="753.8" r="2.78" fill="#ba00a0"/>
<circle cx="215.5" cy="760.8" r="2.78" fill="#ba00a0"/>
<circle cx="216.4" cy="767.8" r="2.78" fill="#ba00a0"/>
<circle cx="297.0" cy="775.3" r="2.78" fill="#ba00a0"/>
<circle cx="322.6" cy="777.8" r="2.78" fill="#ff0051"/>
<circle cx="304.6" cy="785.0" r="2.78" fill="#ba00a0"/>
<circle cx="248.1" cy="789.0" r="2.78" fill="#2e6ae9"/>
<circle cx="317.9" cy="788.3" r="2.78" fill="#2e6ae9"/>
<circle cx="293.1" cy="816.8" r="2.78" fill="#ba00a0"/>
<circle cx="353.4" cy="748.5" r="2.78" fill="#8c3abf"/>
<circle cx="305.2" cy="807.4" r="2.78" fill="#ff0051"/>
<circle cx="242.0" cy="793.8" r="2.78" fill="#e50080"/>
<circle cx="242.1" cy="802.5" r="2.78" fill="#ba00a0"/>
<circle cx="255.2" cy="787.7" r="2.78" fill="#2e6ae9"/>
<circle cx="241.6" cy="757.3" r="2.78" fill="#ff0051"/>
<circle cx="303.5" cy="761.1" r="2.78" fill="#008bfb"/>
<circle cx="280.0" cy="800.2" r="2.78" fill="#ba00a0"/>
<circle cx="278.9" cy="775.4" r="2.78" fill="#2e6ae9"/>
<circle cx="298.3" cy="785.7" r="2.78" fill="#8c3abf"/>
<circle cx="242.0" cy="760.7" r="2.78" fill="#e50080"/>
<circle cx="262.0" cy="815.2" r="2.78" fill="#008bfb"/>
<circle cx="281.2" cy="756.2" r="2.78" fill="#8c3abf"/>
<circle cx="283.6" cy="817.4" r="2.78" fill="#008bfb"/>
<circle cx="301.6" cy="747.6" r="2.78" fill="#ff0051"/>
<circle cx="272.7" cy="830.5" r="2.78" fill="#635adb"/>
<circle cx="316.8" cy="813.9" r="2.78" fill="#008bfb"/>
<circle cx="273.5" cy="825.8" r="2.78" fill="#635adb"/>
<circle cx="252.1" cy="780.9" r="2.78" fill="#008bfb"/>
<circle cx="247.5" cy="791.6" r="2.78" fill="#2e6ae9"/>
<circle cx="249.6" cy="822.1" r="2.78" fill="#ff0051"/>
<circle cx="318.8" cy="780.2" r="2.78" fill="#8c3abf"/>
<circle cx="242.4" cy="804.7" r="2.78" fill="#e50080"/>
<circle cx="322.6" cy="826.1" r="2.78" fill="#ba00a0"/>
<circle cx="262.5" cy="785.8" r="2.78" fill="#ba00a0"/>
<circle cx="283.3" cy="785.3" r="2.78" fill="#008bfb"/>
<circle cx="316.7" cy="804.2" r="2.78" fill="#008bfb"/>
<circle cx="305.8" cy="822.1" r="2.78" fill="#ba00a0"/>
<circle cx="273.3" cy="760.8" r="2.78" fill="#8c3abf"/>
<circle cx="331.5" cy="782.5" r="2.78" fill="#635adb"/>
<circle cx="317.5" cy="820.3" r="2.78" fill="#2e6ae9"/>
<circle cx="269.6" cy="774.2" r="2.78" fill="#8c3abf"/>
<circle cx="352.9" cy="830.6" r="2.78" fill="#ba00a0"/>
<circle cx="322.4" cy="791.7" r="2.78" fill="#ba00a0"/>
<circle cx="248.0" cy="786.0" r="2.78" fill="#2e6ae9"/>
<circle cx="335.5" cy="787.1" r="2.78" fill="#ba00a0"/>
<circle cx="242.0" cy="808.8" r="2.78" fill="#e50080"/>
<circle cx="285.1" cy="801.0" r="2.78" fill="#8c3abf"/>
<circle cx="303.8" cy="781.7" r="2.78" fill="#ba00a0"/>
<circle cx="322.1" cy="828.8" r="2.78" fill="#ba00a0"/>
<circle cx="273.4" cy="768.9" r="2.78" fill="#635adb"/>
<circle cx="279.1" cy="787.0" r="2.78" fill="#e50080"/>
<circle cx="316.8" cy="785.6" r="2.78" fill="#2e6ae9"/>
<circle cx="285.3" cy="796.4" r="2.78" fill="#8c3abf"/>
<circle cx="273.3" cy="818.2" r="2.78" fill="#635adb"/>
<circle cx="242.9" cy="778.0" r="2.78" fill="#ba00a0"/>
<circle cx="322.5" cy="799.4" r="2.78" fill="#ff0051"/>
<circle cx="291.7" cy="780.8" r="2.78" fill="#ff0051"/>
<circle cx="304.4" cy="797.8" r="2.78" fill="#ba00a0"/>
<circle cx="262.9" cy="801.2" r="2.78" fill="#ba00a0"/>
<circle cx="292.1" cy="766.3" r="2.78" fill="#ff0051"/>
<circle cx="292.7" cy="764.7" r="2.78" fill="#ff0051"/>
<circle cx="253.1" cy="779.5" r="2.78" fill="#008bfb"/>
<circle cx="279.6" cy="785.5" r="2.78" fill="#2e6ae9"/>
<circle cx="284.2" cy="808.8" r="2.78" fill="#008bfb"/>
<circle cx="248.0" cy="773.8" r="2.78" fill="#2e6ae9"/>
<circle cx="253.6" cy="807.8" r="2.78" fill="#ba00a0"/>
<circle cx="330.6" cy="788.1" r="2.78" fill="#635adb"/>
<circle cx="241.6" cy="797.2" r="2.78" fill="#ba00a0"/>
<circle cx="321.6" cy="805.8" r="2.78" fill="#ff0051"/>
<circle cx="351.4" cy="822.1" r="2.78" fill="#ba00a0"/>
<circle cx="297.4" cy="780.2" r="2.78" fill="#8c3abf"/>
<circle cx="242.7" cy="777.3" r="2.78" fill="#e50080"/>
<circle cx="248.2" cy="769.2" r="2.78" fill="#2e6ae9"/>
<circle cx="267.9" cy="805.4" r="2.78" fill="#635adb"/>
<circle cx="266.8" cy="767.4" r="2.78" fill="#008bfb"/>
<circle cx="244.5" cy="762.1" r="2.78" fill="#008bfb"/>
<circle cx="256.5" cy="794.7" r="2.78" fill="#2e6ae9"/>
<circle cx="291.4" cy="785.0" r="2.78" fill="#ff0051"/>
<circle cx="303.0" cy="786.5" r="2.78" fill="#8c3abf"/>
<circle cx="242.2" cy="819.7" r="2.78" fill="#ba00a0"/>
<circle cx="253.8" cy="816.3" r="2.78" fill="#8c3abf"/>
<circle cx="292.3" cy="806.6" r="2.78" fill="#008bfb"/>
<circle cx="297.3" cy="772.7" r="2.78" fill="#8c3abf"/>
<circle cx="272.5" cy="805.7" r="2.78" fill="#008bfb"/>
<circle cx="316.4" cy="764.3" r="2.78" fill="#008bfb"/>
<circle cx="297.2" cy="774.4" r="2.78" fill="#8c3abf"/>
<circle cx="274.0" cy="827.0" r="2.78" fill="#635adb"/>
<circle cx="248.8" cy="804.3" r="2.78" fill="#008bfb"/>
<circle cx="248.2" cy="810.4" r="2.78" fill="#008bfb"/>
<circle cx="254.2" cy="774.4" r="2.78" fill="#ba00a0"/>
<circle cx="253.2" cy="784.5" r="2.78" fill="#008bfb"/>
<circle cx="292.8" cy="757.0" r="2.78" fill="#ff0051"/>
<circle cx="268.3" cy="771.2" r="2.78" fill="#8c3abf"/>
<circle cx="322.3" cy="786.0" r="2.78" fill="#ba00a0"/>
<circle cx="242.0" cy="809.8" r="2.78" fill="#ba00a0"/>
<circle cx="284.5" cy="789.7" r="2.78" fill="#008bfb"/>
<circle cx="247.0" cy="762.4" r="2.78" fill="#2e6ae9"/>
<circle cx="254.7" cy="762.5" r="2.78" fill="#ff0051"/>
<circle cx="284.1" cy="783.5" r="2.78" fill="#008bfb"/>
<circle cx="318.7" cy="771.5" r="2.78" fill="#8c3abf"/>
<circle cx="272.4" cy="751.0" r="2.78" fill="#8c3abf"/>
<circle cx="318.0" cy="768.3" r="2.78" fill="#8c3abf"/>
<circle cx="248.5" cy="805.9" r="2.78" fill="#008bfb"/>
<circle cx="274.0" cy="771.7" r="2.78" fill="#635adb"/>
<circle cx="242.5" cy="774.7" r="2.78" fill="#ba00a0"/>
<circle cx="248.5" cy="797.1" r="2.78" fill="#2e6ae9"/>
<circle cx="341.8" cy="768.7" r="2.78" fill="#8c3abf"/>
<circle cx="310.3" cy="805.8" r="2.78" fill="#8c3abf"/>
<circle cx="298.1" cy="790.5" r="2.78" fill="#ba00a0"/>
<circle cx="247.9" cy="780.5" r="2.78" fill="#2e6ae9"/>
<circle cx="280.2" cy="806.8" r="2.78" fill="#ba00a0"/>
<circle cx="254.6" cy="794.1" r="2.78" fill="#ba00a0"/>
<circle cx="359.9" cy="803.5" r="2.78" fill="#008bfb"/>
<circle cx="303.1" cy="769.9" r="2.78" fill="#008bfb"/>
<circle cx="272.2" cy="788.2" r="2.78" fill="#ba00a0"/>
<circle cx="247.7" cy="762.9" r="2.78" fill="#ba00a0"/>
<circle cx="241.3" cy="814.0" r="2.78" fill="#ba00a0"/>
<circle cx="284.5" cy="773.2" r="2.78" fill="#8c3abf"/>
<circle cx="315.5" cy="780.0" r="2.78" fill="#8c3abf"/>
<circle cx="252.1" cy="802.3" r="2.78" fill="#008bfb"/>
<circle cx="248.7" cy="812.0" r="2.78" fill="#ba00a0"/>
<circle cx="298.2" cy="787.4" r="2.78" fill="#8c3abf"/>
<circle cx="247.8" cy="760.3" r="2.78" fill="#ba00a0"/>
<circle cx="284.7" cy="784.8" r="2.78" fill="#8c3abf"/>
<circle cx="272.1" cy="792.2" r="2.78" fill="#ba00a0"/>
<circle cx="322.4" cy="821.8" r="2.78" fill="#ba00a0"/>
<circle cx="304.4" cy="794.1" r="2.78" fill="#ba00a0"/>
<circle cx="252.3" cy="774.8" r="2.78" fill="#008bfb"/>
<circle cx="241.3" cy="784.1" r="2.78" fill="#ba00a0"/>
<circle cx="334.2" cy="821.3" r="2.78" fill="#8c3abf"/>
<circle cx="327.8" cy="774.7" r="2.78" fill="#ba00a0"/>
<circle cx="262.9" cy="796.8" r="2.78" fill="#ba00a0"/>
<circle cx="242.6" cy="815.0" r="2.78" fill="#e50080"/>
<circle cx="262.1" cy="799.8" r="2.78" fill="#2e6ae9"/>
<circle cx="302.3" cy="793.6" r="2.78" fill="#8c3abf"/>
<circle cx="267.2" cy="754.2" r="2.78" fill="#008bfb"/>
<circle cx="262.7" cy="796.4" r="2.78" fill="#2e6ae9"/>
<circle cx="252.9" cy="763.0" r="2.78" fill="#008bfb"/>
<circle cx="291.5" cy="790.0" r="2.78" fill="#ff0051"/>
<circle cx="317.8" cy="802.0" r="2.78" fill="#008bfb"/>
<circle cx="278.6" cy="778.0" r="2.78" fill="#2e6ae9"/>
<circle cx="268.1" cy="791.1" r="2.78" fill="#ba00a0"/>
<circle cx="244.7" cy="756.0" r="2.78" fill="#008bfb"/>
<circle cx="248.5" cy="798.4" r="2.78" fill="#ba00a0"/>
<circle cx="262.0" cy="803.6" r="2.78" fill="#2e6ae9"/>
<circle cx="335.3" cy="780.8" r="2.78" fill="#8c3abf"/>
<circle cx="351.7" cy="799.3" r="2.78" fill="#ba00a0"/>
<circle cx="262.2" cy="805.5" r="2.78" fill="#2e6ae9"/>
<circle cx="247.9" cy="749.3" r="2.78" fill="#ba00a0"/>
<circle cx="317.6" cy="777.5" r="2.78" fill="#2e6ae9"/>
<circle cx="247.3" cy="814.0" r="2.78" fill="#ba00a0"/>
<circle cx="263.1" cy="783.5" r="2.78" fill="#ff0051"/>
<circle cx="253.1" cy="806.9" r="2.78" fill="#8c3abf"/>
<circle cx="317.2" cy="783.5" r="2.78" fill="#2e6ae9"/>
<circle cx="291.5" cy="809.3" r="2.78" fill="#ba00a0"/>
<circle cx="268.8" cy="797.2" r="2.78" fill="#ba00a0"/>
<circle cx="263.0" cy="820.4" r="2.78" fill="#008bfb"/>
<circle cx="360.2" cy="806.0" r="2.78" fill="#008bfb"/>
<circle cx="316.9" cy="805.0" r="2.78" fill="#008bfb"/>
<circle cx="322.5" cy="795.0" r="2.78" fill="#ff0051"/>
<circle cx="351.3" cy="826.4" r="2.78" fill="#ba00a0"/>
<circle cx="298.4" cy="787.3" r="2.78" fill="#ba00a0"/>
<circle cx="336.2" cy="778.9" r="2.78" fill="#8c3abf"/>
<circle cx="335.9" cy="784.1" r="2.78" fill="#8c3abf"/>
<circle cx="241.9" cy="820.7" r="2.78" fill="#e50080"/>
<circle cx="262.7" cy="776.8" r="2.78" fill="#ba00a0"/>
<circle cx="245.2" cy="778.3" r="2.78" fill="#008bfb"/>
<circle cx="252.3" cy="788.0" r="2.78" fill="#008bfb"/>
<circle cx="323.0" cy="827.1" r="2.78" fill="#ba00a0"/>
<circle cx="292.3" cy="802.3" r="2.78" fill="#ff0051"/>
<circle cx="310.9" cy="799.7" r="2.78" fill="#8c3abf"/>
<circle cx="350.8" cy="804.2" r="2.78" fill="#ba00a0"/>
<circle cx="242.6" cy="759.4" r="2.78" fill="#ba00a0"/>
<circle cx="273.4" cy="800.2" r="2.78" fill="#008bfb"/>
<circle cx="343.3" cy="775.0" r="2.78" fill="#8c3abf"/>
<circle cx="298.4" cy="780.7" r="2.78" fill="#ba00a0"/>
<circle cx="298.3" cy="788.8" r="2.78" fill="#ba00a0"/>
<circle cx="273.1" cy="795.2" r="2.78" fill="#ba00a0"/>
<circle cx="242.4" cy="765.8" r="2.78" fill="#e50080"/>
<circle cx="350.1" cy="818.0" r="2.78" fill="#8c3abf"/>
<circle cx="242.5" cy="754.1" r="2.78" fill="#e50080"/>
<circle cx="284.5" cy="792.2" r="2.78" fill="#8c3abf"/>
<circle cx="242.0" cy="793.9" r="2.78" fill="#ba00a0"/>
<circle cx="327.2" cy="779.3" r="2.78" fill="#ba00a0"/>
<circle cx="261.2" cy="798.9" r="2.78" fill="#2e6ae9"/>
<circle cx="242.2" cy="796.6" r="2.78" fill="#e50080"/>
<circle cx="254.7" cy="787.8" r="2.78" fill="#ba00a0"/>
<circle cx="279.1" cy="771.7" r="2.78" fill="#2e6ae9"/>
<circle cx="274.1" cy="822.1" r="2.78" fill="#635adb"/>
<circle cx="316.8" cy="812.7" r="2.78" fill="#008bfb"/>
<circle cx="277.5" cy="769.5" r="2.78" fill="#8c3abf"/>
<circle cx="283.3" cy="762.5" r="2.78" fill="#8c3abf"/>
<circle cx="351.6" cy="806.3" r="2.78" fill="#ba00a0"/>
<circle cx="331.1" cy="746.8" r="2.78" fill="#2e6ae9"/>
<circle cx="297.9" cy="764.3" r="2.78" fill="#ba00a0"/>
<circle cx="268.3" cy="782.4" r="2.78" fill="#8c3abf"/>
<circle cx="336.2" cy="774.1" r="2.78" fill="#8c3abf"/>
<circle cx="317.2" cy="808.7" r="2.78" fill="#008bfb"/>
<circle cx="255.6" cy="786.7" r="2.78" fill="#2e6ae9"/>
<circle cx="322.1" cy="767.2" r="2.78" fill="#ff0051"/>
<circle cx="304.8" cy="800.2" r="2.78" fill="#ba00a0"/>
<circle cx="253.0" cy="795.0" r="2.78" fill="#008bfb"/>
<circle cx="243.4" cy="819.5" r="2.78" fill="#8c3abf"/>
<circle cx="255.3" cy="780.5" r="2.78" fill="#2e6ae9"/>
<circle cx="242.0" cy="768.0" r="2.78" fill="#ba00a0"/>
<circle cx="311.0" cy="802.9" r="2.78" fill="#8c3abf"/>
<circle cx="321.6" cy="822.9" r="2.78" fill="#ba00a0"/>
<circle cx="244.5" cy="784.6" r="2.78" fill="#008bfb"/>
<circle cx="243.9" cy="775.8" r="2.78" fill="#008bfb"/>
<circle cx="261.8" cy="791.0" r="2.78" fill="#2e6ae9"/>
<circle cx="273.2" cy="783.9" r="2.78" fill="#ba00a0"/>
<circle cx="272.8" cy="767.0" r="2.78" fill="#635adb"/>
<circle cx="280.9" cy="764.3" r="2.78" fill="#8c3abf"/>
<circle cx="322.1" cy="788.7" r="2.78" fill="#ff0051"/>
<circle cx="321.9" cy="784.3" r="2.78" fill="#ff0051"/>
<circle cx="248.7" cy="800.9" r="2.78" fill="#ba00a0"/>
<circle cx="243.5" cy="790.1" r="2.78" fill="#008bfb"/>
<circle cx="268.0" cy="761.2" r="2.78" fill="#008bfb"/>
<circle cx="334.4" cy="815.7" r="2.78" fill="#8c3abf"/>
<circle cx="253.5" cy="792.7" r="2.78" fill="#008bfb"/>
<circle cx="247.4" cy="762.7" r="2.78" fill="#8c3abf"/>
<circle cx="273.0" cy="790.4" r="2.78" fill="#008bfb"/>
<circle cx="262.2" cy="782.9" r="2.78" fill="#2e6ae9"/>
<circle cx="241.7" cy="751.8" r="2.78" fill="#ba00a0"/>
<circle cx="253.3" cy="769.3" r="2.78" fill="#008bfb"/>
<circle cx="268.3" cy="780.8" r="2.78" fill="#8c3abf"/>
<circle cx="335.9" cy="770.5" r="2.78" fill="#ba00a0"/>
<circle cx="292.2" cy="803.2" r="2.78" fill="#008bfb"/>
<circle cx="272.5" cy="774.3" r="2.78" fill="#635adb"/>
<circle cx="267.3" cy="808.2" r="2.78" fill="#635adb"/>
<circle cx="350.0" cy="812.4" r="2.78" fill="#8c3abf"/>
<circle cx="335.4" cy="782.1" r="2.78" fill="#ba00a0"/>
<circle cx="304.3" cy="765.1" r="2.78" fill="#ff0051"/>
<circle cx="251.8" cy="773.5" r="2.78" fill="#008bfb"/>
<circle cx="323.0" cy="745.9" r="2.78" fill="#ff0051"/>
<circle cx="343.4" cy="770.7" r="2.78" fill="#8c3abf"/>
<circle cx="247.1" cy="768.9" r="2.78" fill="#8c3abf"/>
<circle cx="284.1" cy="782.0" r="2.78" fill="#008bfb"/>
<circle cx="272.8" cy="800.9" r="2.78" fill="#008bfb"/>
<circle cx="318.7" cy="796.4" r="2.78" fill="#8c3abf"/>
<circle cx="279.7" cy="787.4" r="2.78" fill="#2e6ae9"/>
<circle cx="330.7" cy="788.8" r="2.78" fill="#635adb"/>
<circle cx="279.6" cy="780.2" r="2.78" fill="#2e6ae9"/>
<circle cx="293.0" cy="808.6" r="2.78" fill="#008bfb"/>
<circle cx="273.5" cy="796.0" r="2.78" fill="#008bfb"/>
<circle cx="283.6" cy="779.2" r="2.78" fill="#008bfb"/>
<circle cx="322.7" cy="765.5" r="2.78" fill="#ff0051"/>
<circle cx="266.8" cy="763.3" r="2.78" fill="#008bfb"/>
<circle cx="249.1" cy="807.8" r="2.78" fill="#008bfb"/>
<circle cx="326.8" cy="827.3" r="2.78" fill="#008bfb"/>
<circle cx="254.1" cy="780.1" r="2.78" fill="#ba00a0"/>
<circle cx="327.2" cy="783.8" r="2.78" fill="#008bfb"/>
<circle cx="280.4" cy="801.1" r="2.78" fill="#e50080"/>
<circle cx="328.5" cy="823.0" r="2.78" fill="#ff0051"/>
<circle cx="359.8" cy="771.3" r="2.78" fill="#2e6ae9"/>
<circle cx="360.1" cy="811.7" r="2.78" fill="#008bfb"/>
<circle cx="327.7" cy="785.1" r="2.78" fill="#ba00a0"/>
<circle cx="304.6" cy="771.3" r="2.78" fill="#008bfb"/>
<circle cx="304.6" cy="754.6" r="2.78" fill="#008bfb"/>
<circle cx="291.6" cy="803.7" r="2.78" fill="#ba00a0"/>
<circle cx="241.2" cy="771.7" r="2.78" fill="#ba00a0"/>
<circle cx="248.3" cy="765.9" r="2.78" fill="#2e6ae9"/>
<circle cx="352.0" cy="818.5" r="2.78" fill="#ba00a0"/>
<circle cx="262.7" cy="760.8" r="2.78" fill="#ba00a0"/>
<circle cx="292.5" cy="788.2" r="2.78" fill="#ff0051"/>
<circle cx="247.2" cy="754.9" r="2.78" fill="#8c3abf"/>
<circle cx="336.6" cy="771.3" r="2.78" fill="#e50080"/>
<circle cx="327.6" cy="771.3" r="2.78" fill="#8c3abf"/>
<circle cx="303.8" cy="789.6" r="2.78" fill="#8c3abf"/>
<circle cx="252.6" cy="766.4" r="2.78" fill="#008bfb"/>
<circle cx="283.7" cy="777.4" r="2.78" fill="#008bfb"/>
<circle cx="302.2" cy="781.7" r="2.78" fill="#8c3abf"/>
<circle cx="326.5" cy="781.1" r="2.78" fill="#008bfb"/>
<circle cx="303.7" cy="772.2" r="2.78" fill="#008bfb"/>
<circle cx="299.4" cy="797.6" r="2.78" fill="#8c3abf"/>
<circle cx="337.6" cy="758.1" r="2.78" fill="#8c3abf"/>
<circle cx="311.3" cy="808.0" r="2.78" fill="#8c3abf"/>
<circle cx="335.4" cy="776.5" r="2.78" fill="#ba00a0"/>
<circle cx="304.1" cy="803.4" r="2.78" fill="#ff0051"/>
<circle cx="254.7" cy="778.7" r="2.78" fill="#ba00a0"/>
<circle cx="273.9" cy="777.1" r="2.78" fill="#635adb"/>
<circle cx="321.8" cy="793.7" r="2.78" fill="#ba00a0"/>
<circle cx="273.7" cy="759.2" r="2.78" fill="#8c3abf"/>
<circle cx="252.9" cy="790.7" r="2.78" fill="#008bfb"/>
<circle cx="279.8" cy="803.0" r="2.78" fill="#ba00a0"/>
<circle cx="350.7" cy="794.2" r="2.78" fill="#8c3abf"/>
<circle cx="349.6" cy="792.6" r="2.78" fill="#8c3abf"/>
<circle cx="328.0" cy="757.3" r="2.78" fill="#ff0051"/>
<circle cx="280.8" cy="761.0" r="2.78" fill="#8c3abf"/>
<circle cx="316.4" cy="807.2" r="2.78" fill="#008bfb"/>
<circle cx="247.7" cy="804.3" r="2.78" fill="#ba00a0"/>
<circle cx="285.5" cy="777.0" r="2.78" fill="#8c3abf"/>
<circle cx="351.4" cy="769.5" r="2.78" fill="#2e6ae9"/>
<circle cx="316.8" cy="776.5" r="2.78" fill="#2e6ae9"/>
<circle cx="290.5" cy="813.8" r="2.78" fill="#ba00a0"/>
<circle cx="342.5" cy="773.0" r="2.78" fill="#8c3abf"/>
<circle cx="350.6" cy="792.3" r="2.78" fill="#ba00a0"/>
<circle cx="254.2" cy="796.6" r="2.78" fill="#ba00a0"/>
<circle cx="311.6" cy="789.7" r="2.78" fill="#8c3abf"/>
<circle cx="351.0" cy="809.4" r="2.78" fill="#8c3abf"/>
<circle cx="262.3" cy="767.4" r="2.78" fill="#ba00a0"/>
<circle cx="304.7" cy="774.1" r="2.78" fill="#008bfb"/>
<circle cx="268.2" cy="755.5" r="2.78" fill="#ff0051"/>
<circle cx="273.4" cy="803.0" r="2.78" fill="#008bfb"/>
<circle cx="322.4" cy="788.6" r="2.78" fill="#ba00a0"/>
<circle cx="241.7" cy="784.8" r="2.78" fill="#e50080"/>
<circle cx="252.4" cy="814.8" r="2.78" fill="#8c3abf"/>
<circle cx="331.9" cy="792.6" r="2.78" fill="#635adb"/>
<circle cx="302.9" cy="784.3" r="2.78" fill="#8c3abf"/>
<circle cx="261.9" cy="812.4" r="2.78" fill="#008bfb"/>
<circle cx="242.7" cy="828.2" r="2.78" fill="#ba00a0"/>
<circle cx="248.4" cy="747.8" r="2.78" fill="#8c3abf"/>
<circle cx="311.8" cy="801.2" r="2.78" fill="#8c3abf"/>
<circle cx="269.0" cy="795.0" r="2.78" fill="#ba00a0"/>
<circle cx="304.0" cy="804.9" r="2.78" fill="#ff0051"/>
<circle cx="243.7" cy="816.6" r="2.78" fill="#8c3abf"/>
<circle cx="253.8" cy="802.0" r="2.78" fill="#ba00a0"/>
<circle cx="254.1" cy="814.3" r="2.78" fill="#ba00a0"/>
<circle cx="318.8" cy="792.3" r="2.78" fill="#8c3abf"/>
<circle cx="351.1" cy="813.6" r="2.78" fill="#8c3abf"/>
<circle cx="360.7" cy="808.2" r="2.78" fill="#008bfb"/>
<circle cx="304.2" cy="789.4" r="2.78" fill="#ba00a0"/>
<circle cx="292.1" cy="783.6" r="2.78" fill="#ff0051"/>
<circle cx="269.4" cy="793.8" r="2.78" fill="#ba00a0"/>
<circle cx="327.7" cy="765.1" r="2.78" fill="#ba00a0"/>
<circle cx="321.5" cy="755.5" r="2.78" fill="#8c3abf"/>
<circle cx="334.8" cy="797.6" r="2.78" fill="#635adb"/>
<circle cx="291.4" cy="807.9" r="2.78" fill="#ba00a0"/>
<circle cx="322.7" cy="794.8" r="2.78" fill="#ba00a0"/>
<circle cx="345.5" cy="755.5" r="2.78" fill="#2e6ae9"/>
<circle cx="242.7" cy="745.8" r="2.78" fill="#ba00a0"/>
<circle cx="241.6" cy="823.1" r="2.78" fill="#ba00a0"/>
<circle cx="282.7" cy="811.6" r="2.78" fill="#008bfb"/>
<circle cx="243.3" cy="780.4" r="2.78" fill="#ff0051"/>
<circle cx="321.9" cy="818.9" r="2.78" fill="#ba00a0"/>
<circle cx="279.5" cy="783.6" r="2.78" fill="#2e6ae9"/>
<circle cx="326.4" cy="789.0" r="2.78" fill="#008bfb"/>
<circle cx="305.9" cy="826.4" r="2.78" fill="#ba00a0"/>
<circle cx="274.0" cy="798.1" r="2.78" fill="#008bfb"/>
<circle cx="267.4" cy="810.7" r="2.78" fill="#635adb"/>
<circle cx="261.5" cy="789.3" r="2.78" fill="#2e6ae9"/>
<circle cx="360.3" cy="798.4" r="2.78" fill="#008bfb"/>
<circle cx="297.7" cy="776.9" r="2.78" fill="#8c3abf"/>
<circle cx="273.0" cy="778.7" r="2.78" fill="#ba00a0"/>
<circle cx="352.4" cy="828.9" r="2.78" fill="#ba00a0"/>
<circle cx="278.9" cy="782.5" r="2.78" fill="#2e6ae9"/>
<circle cx="342.7" cy="747.6" r="2.78" fill="#ff0051"/>
<circle cx="292.7" cy="798.9" r="2.78" fill="#008bfb"/>
<circle cx="350.4" cy="796.2" r="2.78" fill="#8c3abf"/>
<circle cx="316.9" cy="781.7" r="2.78" fill="#2e6ae9"/>
<circle cx="304.7" cy="767.9" r="2.78" fill="#008bfb"/>
<circle cx="317.4" cy="800.7" r="2.78" fill="#008bfb"/>
<circle cx="323.2" cy="763.5" r="2.78" fill="#ff0051"/>
<circle cx="328.4" cy="790.2" r="2.78" fill="#ba00a0"/>
<circle cx="297.2" cy="782.0" r="2.78" fill="#8c3abf"/>
<circle cx="303.4" cy="764.8" r="2.78" fill="#008bfb"/>
<circle cx="304.6" cy="817.8" r="2.78" fill="#ff0051"/>
<circle cx="302.3" cy="790.3" r="2.78" fill="#8c3abf"/>
<circle cx="262.4" cy="770.4" r="2.78" fill="#ba00a0"/>
<circle cx="322.4" cy="761.1" r="2.78" fill="#ff0051"/>
<circle cx="248.4" cy="760.6" r="2.78" fill="#2e6ae9"/>
<circle cx="321.9" cy="811.6" r="2.78" fill="#8c3abf"/>
<circle cx="248.5" cy="749.9" r="2.78" fill="#8c3abf"/>
<circle cx="326.4" cy="804.6" r="2.78" fill="#008bfb"/>
<circle cx="272.3" cy="790.8" r="2.78" fill="#ba00a0"/>
<circle cx="273.2" cy="756.7" r="2.78" fill="#8c3abf"/>
<circle cx="317.7" cy="780.5" r="2.78" fill="#2e6ae9"/>
<circle cx="248.1" cy="782.3" r="2.78" fill="#2e6ae9"/>
<circle cx="262.8" cy="763.6" r="2.78" fill="#ba00a0"/>
<circle cx="267.2" cy="801.5" r="2.78" fill="#635adb"/>
<circle cx="267.2" cy="764.1" r="2.78" fill="#008bfb"/>
<circle cx="282.0" cy="754.5" r="2.78" fill="#8c3abf"/>
<circle cx="321.7" cy="789.2" r="2.78" fill="#ba00a0"/>
<circle cx="305.4" cy="809.2" r="2.78" fill="#ff0051"/>
<circle cx="248.6" cy="770.2" r="2.78" fill="#ba00a0"/>
<circle cx="292.7" cy="795.7" r="2.78" fill="#ff0051"/>
<circle cx="243.8" cy="764.0" r="2.78" fill="#008bfb"/>
<circle cx="248.7" cy="775.8" r="2.78" fill="#2e6ae9"/>
<circle cx="247.5" cy="752.8" r="2.78" fill="#ba00a0"/>
<circle cx="304.4" cy="814.4" r="2.78" fill="#ff0051"/>
<circle cx="277.9" cy="752.0" r="2.78" fill="#ba00a0"/>
<circle cx="359.5" cy="800.8" r="2.78" fill="#008bfb"/>
<circle cx="297.0" cy="767.4" r="2.78" fill="#ba00a0"/>
<circle cx="334.0" cy="817.0" r="2.78" fill="#8c3abf"/>
<circle cx="293.1" cy="798.2" r="2.78" fill="#ff0051"/>
<circle cx="305.6" cy="815.3" r="2.78" fill="#ff0051"/>
<circle cx="283.8" cy="797.6" r="2.78" fill="#ba00a0"/>
<circle cx="328.0" cy="818.6" r="2.78" fill="#008bfb"/>
<circle cx="290.8" cy="786.8" r="2.78" fill="#ff0051"/>
<circle cx="317.6" cy="810.1" r="2.78" fill="#008bfb"/>
<circle cx="335.2" cy="819.1" r="2.78" fill="#8c3abf"/>
<circle cx="292.3" cy="777.6" r="2.78" fill="#ff0051"/>
<circle cx="306.0" cy="777.4" r="2.78" fill="#e50080"/>
<circle cx="241.3" cy="826.2" r="2.78" fill="#e50080"/>
<circle cx="267.9" cy="817.9" r="2.78" fill="#635adb"/>
<circle cx="317.5" cy="799.1" r="2.78" fill="#008bfb"/>
<circle cx="242.4" cy="788.9" r="2.78" fill="#ff0051"/>
<circle cx="310.2" cy="796.1" r="2.78" fill="#8c3abf"/>
<circle cx="273.9" cy="792.0" r="2.78" fill="#008bfb"/>
<circle cx="328.5" cy="799.3" r="2.78" fill="#ff0051"/>
<circle cx="279.5" cy="796.1" r="2.78" fill="#ba00a0"/>
<circle cx="256.2" cy="791.6" r="2.78" fill="#2e6ae9"/>
<circle cx="344.4" cy="760.8" r="2.78" fill="#2e6ae9"/>
<circle cx="326.6" cy="788.0" r="2.78" fill="#008bfb"/>
<circle cx="293.0" cy="762.3" r="2.78" fill="#ff0051"/>
<circle cx="338.0" cy="756.4" r="2.78" fill="#8c3abf"/>
<circle cx="351.3" cy="813.5" r="2.78" fill="#ba00a0"/>
<circle cx="291.1" cy="778.9" r="2.78" fill="#ff0051"/>
<circle cx="327.8" cy="793.7" r="2.78" fill="#ba00a0"/>
<circle cx="272.8" cy="781.4" r="2.78" fill="#ba00a0"/>
<circle cx="252.0" cy="797.5" r="2.78" fill="#008bfb"/>
<circle cx="335.8" cy="776.9" r="2.78" fill="#8c3abf"/>
<circle cx="247.0" cy="805.8" r="2.78" fill="#ba00a0"/>
<circle cx="243.0" cy="821.0" r="2.78" fill="#8c3abf"/>
<circle cx="284.6" cy="769.7" r="2.78" fill="#8c3abf"/>
<circle cx="351.1" cy="805.4" r="2.78" fill="#8c3abf"/>
<circle cx="242.3" cy="781.2" r="2.78" fill="#e50080"/>
<circle cx="247.8" cy="757.9" r="2.78" fill="#ba00a0"/>
<circle cx="290.9" cy="781.9" r="2.78" fill="#ff0051"/>
<circle cx="322.7" cy="832.1" r="2.78" fill="#ba00a0"/>
<circle cx="297.6" cy="794.3" r="2.78" fill="#ba00a0"/>
<circle cx="352.2" cy="831.4" r="2.78" fill="#ba00a0"/>
<circle cx="262.6" cy="784.0" r="2.78" fill="#ba00a0"/>
<circle cx="273.5" cy="772.7" r="2.78" fill="#635adb"/>
<circle cx="293.0" cy="760.0" r="2.78" fill="#ff0051"/>
<circle cx="273.7" cy="816.5" r="2.78" fill="#635adb"/>
<circle cx="292.0" cy="800.1" r="2.78" fill="#008bfb"/>
<circle cx="279.0" cy="798.0" r="2.78" fill="#ba00a0"/>
<circle cx="284.2" cy="810.9" r="2.78" fill="#008bfb"/>
<circle cx="330.4" cy="783.3" r="2.78" fill="#635adb"/>
<circle cx="298.5" cy="772.6" r="2.78" fill="#ba00a0"/>
<circle cx="292.7" cy="793.1" r="2.78" fill="#ff0051"/>
<circle cx="335.2" cy="772.4" r="2.78" fill="#8c3abf"/>
<circle cx="244.9" cy="793.1" r="2.78" fill="#008bfb"/>
<circle cx="273.6" cy="793.5" r="2.78" fill="#008bfb"/>
<circle cx="261.9" cy="780.8" r="2.78" fill="#2e6ae9"/>
<circle cx="298.2" cy="783.4" r="2.78" fill="#8c3abf"/>
<circle cx="248.1" cy="764.5" r="2.78" fill="#8c3abf"/>
<circle cx="325.9" cy="785.4" r="2.78" fill="#008bfb"/>
<circle cx="316.4" cy="772.7" r="2.78" fill="#2e6ae9"/>
<circle cx="303.6" cy="766.5" r="2.78" fill="#008bfb"/>
<circle cx="321.7" cy="776.5" r="2.78" fill="#8c3abf"/>
<circle cx="321.6" cy="796.0" r="2.78" fill="#ba00a0"/>
<circle cx="269.2" cy="790.0" r="2.78" fill="#ba00a0"/>
<circle cx="243.7" cy="824.2" r="2.78" fill="#8c3abf"/>
<circle cx="263.3" cy="823.7" r="2.78" fill="#008bfb"/>
<circle cx="284.1" cy="779.7" r="2.78" fill="#8c3abf"/>
<circle cx="241.3" cy="761.6" r="2.78" fill="#ba00a0"/>
<circle cx="261.0" cy="785.1" r="2.78" fill="#2e6ae9"/>
<circle cx="350.9" cy="790.8" r="2.78" fill="#8c3abf"/>
<circle cx="304.6" cy="810.9" r="2.78" fill="#ff0051"/>
<circle cx="244.4" cy="800.2" r="2.78" fill="#008bfb"/>
<circle cx="253.5" cy="805.3" r="2.78" fill="#ba00a0"/>
<circle cx="303.2" cy="778.5" r="2.78" fill="#ba00a0"/>
<circle cx="303.9" cy="763.5" r="2.78" fill="#008bfb"/>
<circle cx="352.3" cy="795.8" r="2.78" fill="#e50080"/>
<circle cx="267.6" cy="813.2" r="2.78" fill="#635adb"/>
<circle cx="359.7" cy="812.9" r="2.78" fill="#008bfb"/>
<circle cx="349.1" cy="781.8" r="2.78" fill="#008bfb"/>
<circle cx="244.4" cy="772.0" r="2.78" fill="#008bfb"/>
<circle cx="241.6" cy="805.9" r="2.78" fill="#ba00a0"/>
<circle cx="267.7" cy="798.8" r="2.78" fill="#635adb"/>
<circle cx="242.3" cy="769.1" r="2.78" fill="#e50080"/>
<circle cx="284.1" cy="814.3" r="2.78" fill="#008bfb"/>
<circle cx="350.4" cy="807.1" r="2.78" fill="#8c3abf"/>
<circle cx="253.6" cy="808.3" r="2.78" fill="#8c3abf"/>
<circle cx="262.0" cy="818.7" r="2.78" fill="#008bfb"/>
<circle cx="263.0" cy="779.4" r="2.78" fill="#ba00a0"/>
<circle cx="242.6" cy="786.6" r="2.78" fill="#ff0051"/>
<circle cx="316.9" cy="773.5" r="2.78" fill="#2e6ae9"/>
<circle cx="244.8" cy="796.9" r="2.78" fill="#008bfb"/>
<circle cx="245.2" cy="767.8" r="2.78" fill="#008bfb"/>
<circle cx="350.9" cy="788.1" r="2.78" fill="#8c3abf"/>
<circle cx="241.8" cy="829.4" r="2.78" fill="#ba00a0"/>
<circle cx="292.8" cy="810.0" r="2.78" fill="#008bfb"/>
<circle cx="349.9" cy="815.6" r="2.78" fill="#8c3abf"/>
<circle cx="247.4" cy="757.2" r="2.78" fill="#2e6ae9"/>
<circle cx="317.7" cy="776.7" r="2.78" fill="#8c3abf"/>
<circle cx="335.1" cy="767.2" r="2.78" fill="#ba00a0"/>
<circle cx="252.3" cy="812.3" r="2.78" fill="#8c3abf"/>
<circle cx="244.0" cy="828.5" r="2.78" fill="#8c3abf"/>
<circle cx="247.3" cy="767.6" r="2.78" fill="#ba00a0"/>
<circle cx="269.3" cy="779.1" r="2.78" fill="#8c3abf"/>
<circle cx="266.6" cy="759.5" r="2.78" fill="#008bfb"/>
<circle cx="247.0" cy="756.7" r="2.78" fill="#8c3abf"/>
<circle cx="241.9" cy="792.2" r="2.78" fill="#ba00a0"/>
<circle cx="273.3" cy="754.0" r="2.78" fill="#8c3abf"/>
<circle cx="283.8" cy="788.0" r="2.78" fill="#8c3abf"/>
<circle cx="310.1" cy="811.1" r="2.78" fill="#8c3abf"/>
<circle cx="298.2" cy="778.7" r="2.78" fill="#8c3abf"/>
<circle cx="262.1" cy="771.3" r="2.78" fill="#ff0051"/>
<circle cx="268.1" cy="773.2" r="2.78" fill="#8c3abf"/>
<circle cx="328.4" cy="771.3" r="2.78" fill="#ba00a0"/>
<circle cx="298.0" cy="785.4" r="2.78" fill="#ba00a0"/>
<circle cx="305.6" cy="812.6" r="2.78" fill="#ff0051"/>
<circle cx="261.1" cy="792.8" r="2.78" fill="#2e6ae9"/>
<circle cx="254.5" cy="822.1" r="2.78" fill="#ff0051"/>
<circle cx="317.0" cy="796.9" r="2.78" fill="#008bfb"/>
<circle cx="244.3" cy="782.0" r="2.78" fill="#008bfb"/>
<circle cx="255.1" cy="755.5" r="2.78" fill="#ff0051"/>
<circle cx="297.1" cy="764.4" r="2.78" fill="#ba00a0"/>
<circle cx="350.6" cy="810.4" r="2.78" fill="#ba00a0"/>
<circle cx="263.4" cy="789.5" r="2.78" fill="#ba00a0"/>
<circle cx="322.7" cy="771.2" r="2.78" fill="#ff0051"/>
<circle cx="242.2" cy="785.3" r="2.78" fill="#ba00a0"/>
<circle cx="318.7" cy="786.2" r="2.78" fill="#8c3abf"/>
<circle cx="242.0" cy="754.9" r="2.78" fill="#ba00a0"/>
<circle cx="266.4" cy="757.2" r="2.78" fill="#008bfb"/>
<circle cx="273.7" cy="820.1" r="2.78" fill="#635adb"/>
<circle cx="262.4" cy="794.8" r="2.78" fill="#ba00a0"/>
<circle cx="336.0" cy="782.2" r="2.78" fill="#8c3abf"/>
<circle cx="303.4" cy="782.5" r="2.78" fill="#8c3abf"/>
<circle cx="293.1" cy="803.9" r="2.78" fill="#008bfb"/>
<circle cx="283.4" cy="786.7" r="2.78" fill="#008bfb"/>
<circle cx="273.8" cy="778.5" r="2.78" fill="#635adb"/>
<circle cx="279.9" cy="773.8" r="2.78" fill="#2e6ae9"/>
<circle cx="253.2" cy="784.0" r="2.78" fill="#ba00a0"/>
<circle cx="269.6" cy="777.0" r="2.78" fill="#8c3abf"/>
<circle cx="242.1" cy="784.1" r="2.78" fill="#ff0051"/>
<circle cx="247.1" cy="809.6" r="2.78" fill="#ba00a0"/>
<circle cx="360.9" cy="775.7" r="2.78" fill="#2e6ae9"/>
<circle cx="360.9" cy="791.4" r="2.78" fill="#2e6ae9"/>
<circle cx="360.9" cy="802.8" r="2.78" fill="#2e6ae9"/>
<circle cx="360.9" cy="812.4" r="2.78" fill="#2e6ae9"/>
<circle cx="360.9" cy="816.8" r="2.78" fill="#2e6ae9"/>
<circle cx="360.0" cy="758.1" r="2.78" fill="#e50080"/>
<circle cx="362.6" cy="750.3" r="2.78" fill="#8c3abf"/>
<circle cx="367.9" cy="750.8" r="2.78" fill="#8c3abf"/>
<circle cx="367.9" cy="761.1" r="2.78" fill="#635adb"/>
<circle cx="369.6" cy="770.8" r="2.78" fill="#ba00a0"/>
<circle cx="369.6" cy="777.4" r="2.78" fill="#ba00a0"/>
<circle cx="368.8" cy="780.9" r="2.78" fill="#008bfb"/>
<circle cx="368.8" cy="784.4" r="2.78" fill="#008bfb"/>
<circle cx="368.8" cy="788.8" r="2.78" fill="#008bfb"/>
<circle cx="369.1" cy="797.6" r="2.78" fill="#008bfb"/>
<circle cx="369.6" cy="806.3" r="2.78" fill="#ba00a0"/>
<circle cx="369.1" cy="802.8" r="2.78" fill="#008bfb"/>
<circle cx="369.6" cy="810.7" r="2.78" fill="#ba00a0"/>
<circle cx="369.6" cy="818.6" r="2.78" fill="#ba00a0"/>
<circle cx="369.6" cy="826.8" r="2.78" fill="#ba00a0"/>
<circle cx="376.6" cy="748.9" r="2.78" fill="#008bfb"/>
<circle cx="376.3" cy="766.9" r="2.78" fill="#2e6ae9"/>
<circle cx="376.3" cy="770.4" r="2.78" fill="#2e6ae9"/>
<circle cx="376.3" cy="780.9" r="2.78" fill="#635adb"/>
<circle cx="376.3" cy="784.4" r="2.78" fill="#635adb"/>
<circle cx="376.3" cy="787.9" r="2.78" fill="#635adb"/>
<circle cx="376.3" cy="791.4" r="2.78" fill="#635adb"/>
<circle cx="376.3" cy="797.6" r="2.78" fill="#635adb"/>
<circle cx="387.2" cy="752.4" r="2.78" fill="#ba00a0"/>
<circle cx="390.7" cy="751.7" r="2.78" fill="#008bfb"/>
<circle cx="391.5" cy="754.6" r="2.78" fill="#8c3abf"/>
<circle cx="387.7" cy="767.8" r="2.78" fill="#ba00a0"/>
<circle cx="391.5" cy="771.3" r="2.78" fill="#8c3abf"/>
<circle cx="391.5" cy="775.7" r="2.78" fill="#8c3abf"/>
<circle cx="391.5" cy="780.0" r="2.78" fill="#8c3abf"/>
<circle cx="391.5" cy="784.4" r="2.78" fill="#8c3abf"/>
<circle cx="387.7" cy="781.4" r="2.78" fill="#008bfb"/>
<circle cx="387.7" cy="786.2" r="2.78" fill="#008bfb"/>
<circle cx="388.6" cy="796.2" r="2.78" fill="#008bfb"/>
<circle cx="391.5" cy="801.1" r="2.78" fill="#8c3abf"/>
<circle cx="391.5" cy="806.3" r="2.78" fill="#8c3abf"/>
<circle cx="391.2" cy="815.9" r="2.78" fill="#8c3abf"/>
<circle cx="395.9" cy="746.4" r="2.78" fill="#8c3abf"/>
<circle cx="395.9" cy="753.4" r="2.78" fill="#635adb"/>
<circle cx="400.6" cy="752.4" r="2.78" fill="#008bfb"/>
<circle cx="398.9" cy="757.6" r="2.78" fill="#008bfb"/>
<circle cx="398.0" cy="762.5" r="2.78" fill="#ba00a0"/>
<circle cx="398.0" cy="765.1" r="2.78" fill="#ba00a0"/>
<circle cx="400.3" cy="746.4" r="2.78" fill="#008bfb"/>
<circle cx="409.6" cy="745.5" r="2.78" fill="#2e6ae9"/>
<circle cx="409.1" cy="757.6" r="2.78" fill="#ba00a0"/>
<circle cx="409.1" cy="769.0" r="2.78" fill="#ba00a0"/>
<circle cx="409.1" cy="797.6" r="2.78" fill="#ba00a0"/>
<circle cx="409.1" cy="801.1" r="2.78" fill="#ba00a0"/>
<circle cx="409.1" cy="805.4" r="2.78" fill="#ba00a0"/>
<circle cx="409.1" cy="814.2" r="2.78" fill="#ba00a0"/>
<circle cx="409.1" cy="816.8" r="2.78" fill="#ba00a0"/>
<circle cx="409.1" cy="820.3" r="2.78" fill="#ba00a0"/>
<circle cx="409.1" cy="826.5" r="2.78" fill="#ba00a0"/>
<circle cx="432.2" cy="745.9" r="2.78" fill="#ba00a0"/>
<circle cx="432.2" cy="753.8" r="2.78" fill="#ba00a0"/>
<circle cx="447.6" cy="745.0" r="2.78" fill="#8c3abf"/>
<circle cx="467.7" cy="745.5" r="2.78" fill="#8c3abf"/>
<circle cx="478.2" cy="745.9" r="2.78" fill="#008bfb"/>
<circle cx="480.0" cy="766.5" r="2.78" fill="#ba00a0"/>
<circle cx="483.9" cy="752.9" r="2.78" fill="#008bfb"/>
<circle cx="483.9" cy="756.4" r="2.78" fill="#008bfb"/>
<circle cx="508.0" cy="752.4" r="2.78" fill="#ba00a0"/>
<circle cx="526.8" cy="754.6" r="2.78" fill="#ba00a0"/>
<circle cx="480.9" cy="766.5" r="2.78" fill="#ba00a0"/>
<circle cx="148.4" cy="845.0" r="2.78" fill="#008bfb"/>
<circle cx="148.4" cy="852.9" r="2.78" fill="#008bfb"/>
<circle cx="159.1" cy="840.8" r="2.78" fill="#ba00a0"/>
<circle cx="159.1" cy="847.8" r="2.78" fill="#ba00a0"/>
<circle cx="175.2" cy="860.1" r="2.78" fill="#635adb"/>
<circle cx="175.2" cy="870.4" r="2.78" fill="#635adb"/>
<circle cx="190.6" cy="868.8" r="2.78" fill="#e50080"/>
<circle cx="190.6" cy="877.9" r="2.78" fill="#e50080"/>
<circle cx="202.3" cy="883.2" r="2.78" fill="#e50080"/>
<circle cx="202.3" cy="902.4" r="2.78" fill="#e50080"/>
<circle cx="202.3" cy="837.3" r="2.78" fill="#ff0051"/>
<circle cx="196.7" cy="843.4" r="2.78" fill="#8c3abf"/>
<circle cx="199.2" cy="845.5" r="2.78" fill="#008bfb"/>
<circle cx="196.7" cy="854.6" r="2.78" fill="#8c3abf"/>
<circle cx="231.6" cy="839.0" r="2.78" fill="#008bfb"/>
<circle cx="231.6" cy="850.4" r="2.78" fill="#008bfb"/>
<circle cx="230.4" cy="853.9" r="2.78" fill="#008bfb"/>
<circle cx="231.6" cy="855.1" r="2.78" fill="#008bfb"/>
<circle cx="237.0" cy="843.8" r="2.78" fill="#ba00a0"/>
<circle cx="240.0" cy="842.9" r="2.78" fill="#ba00a0"/>
<circle cx="240.0" cy="848.7" r="2.78" fill="#ff0051"/>
<circle cx="237.0" cy="856.9" r="2.78" fill="#ba00a0"/>
<circle cx="233.5" cy="861.6" r="2.78" fill="#8c3abf"/>
<circle cx="233.5" cy="868.3" r="2.78" fill="#8c3abf"/>
<circle cx="245.3" cy="836.4" r="2.78" fill="#e50080"/>
<circle cx="240.9" cy="842.4" r="2.78" fill="#e50080"/>
<circle cx="249.6" cy="841.1" r="2.78" fill="#e50080"/>
<circle cx="249.6" cy="843.8" r="2.78" fill="#e50080"/>
<circle cx="240.9" cy="848.7" r="2.78" fill="#e50080"/>
<circle cx="240.0" cy="856.9" r="2.78" fill="#ba00a0"/>
<circle cx="243.2" cy="857.8" r="2.78" fill="#008bfb"/>
<circle cx="243.2" cy="865.7" r="2.78" fill="#008bfb"/>
<circle cx="255.4" cy="852.5" r="2.78" fill="#2e6ae9"/>
<circle cx="255.4" cy="854.3" r="2.78" fill="#2e6ae9"/>
<circle cx="262.2" cy="848.7" r="2.78" fill="#ba00a0"/>
<circle cx="262.2" cy="857.8" r="2.78" fill="#ba00a0"/>
<circle cx="265.4" cy="835.5" r="2.78" fill="#8c3abf"/>
<circle cx="272.9" cy="837.6" r="2.78" fill="#008bfb"/>
<circle cx="272.9" cy="840.3" r="2.78" fill="#008bfb"/>
<circle cx="277.1" cy="837.6" r="2.78" fill="#ff0051"/>
<circle cx="272.9" cy="852.0" r="2.78" fill="#ba00a0"/>
<circle cx="278.9" cy="852.2" r="2.78" fill="#ff0051"/>
<circle cx="269.8" cy="866.0" r="2.78" fill="#ff0051"/>
<circle cx="266.3" cy="870.0" r="2.78" fill="#ba00a0"/>
<circle cx="278.9" cy="877.9" r="2.78" fill="#ff0051"/>
<circle cx="266.3" cy="893.2" r="2.78" fill="#ba00a0"/>
<circle cx="270.1" cy="893.7" r="2.78" fill="#ff0051"/>
<circle cx="306.9" cy="854.3" r="2.78" fill="#e50080"/>
<circle cx="322.7" cy="835.5" r="2.78" fill="#ba00a0"/>
<circle cx="326.4" cy="838.5" r="2.78" fill="#008bfb"/>
<circle cx="326.4" cy="841.1" r="2.78" fill="#008bfb"/>
<circle cx="326.4" cy="861.3" r="2.78" fill="#008bfb"/>
<circle cx="326.4" cy="863.9" r="2.78" fill="#008bfb"/>
<circle cx="326.4" cy="866.5" r="2.78" fill="#008bfb"/>
<circle cx="326.4" cy="871.3" r="2.78" fill="#008bfb"/>
<circle cx="350.4" cy="837.1" r="2.78" fill="#ba00a0"/>
<circle cx="350.4" cy="843.8" r="2.78" fill="#ba00a0"/>
<circle cx="350.4" cy="848.1" r="2.78" fill="#ba00a0"/>
<circle cx="369.6" cy="849.9" r="2.78" fill="#ba00a0"/>
<circle cx="369.6" cy="853.4" r="2.78" fill="#ba00a0"/>
<circle cx="369.6" cy="859.9" r="2.78" fill="#ba00a0"/>
<circle cx="369.6" cy="863.4" r="2.78" fill="#ba00a0"/>
<circle cx="409.1" cy="839.9" r="2.78" fill="#ba00a0"/>
<circle cx="229.0" cy="777.3" r="2.78" fill="#008bfb"/>
<circle cx="211.2" cy="747.0" r="2.78" fill="#ff0051"/>
<circle cx="230.2" cy="787.1" r="2.78" fill="#008bfb"/>
<circle cx="204.8" cy="758.6" r="2.78" fill="#ba00a0"/>
<circle cx="196.0" cy="777.2" r="2.78" fill="#2e6ae9"/>
<circle cx="231.1" cy="787.3" r="2.78" fill="#2e6ae9"/>
<circle cx="308.8" cy="772.0" r="2.78" fill="#ba00a0"/>
<circle cx="249.5" cy="795.2" r="2.78" fill="#008bfb"/>
<circle cx="195.4" cy="762.7" r="2.78" fill="#2e6ae9"/>
<circle cx="184.3" cy="745.3" r="2.78" fill="#ba00a0"/>
<circle cx="211.7" cy="749.5" r="2.78" fill="#ff0051"/>
<circle cx="254.0" cy="773.6" r="2.78" fill="#8c3abf"/>
<circle cx="196.8" cy="764.9" r="2.78" fill="#008bfb"/>
<circle cx="198.4" cy="775.4" r="2.78" fill="#008bfb"/>
<circle cx="191.5" cy="760.6" r="2.78" fill="#008bfb"/>
<circle cx="198.6" cy="767.4" r="2.78" fill="#008bfb"/>
<circle cx="248.7" cy="791.2" r="2.78" fill="#008bfb"/>
<circle cx="203.0" cy="743.0" r="2.78" fill="#ba00a0"/>
<circle cx="303.3" cy="773.6" r="2.78" fill="#008bfb"/>
<circle cx="259.2" cy="783.1" r="2.78" fill="#008bfb"/>
<circle cx="298.7" cy="794.4" r="2.78" fill="#8c3abf"/>
<circle cx="203.1" cy="708.8" r="2.78" fill="#ff0051"/>
<circle cx="293.7" cy="782.5" r="2.78" fill="#ba00a0"/>
<circle cx="197.9" cy="771.1" r="2.78" fill="#008bfb"/>
<circle cx="232.6" cy="763.9" r="2.78" fill="#2e6ae9"/>
<circle cx="260.6" cy="774.4" r="2.78" fill="#e50080"/>
<circle cx="268.0" cy="789.0" r="2.78" fill="#ba00a0"/>
<circle cx="236.1" cy="777.7" r="2.78" fill="#ba00a0"/>
<circle cx="219.6" cy="778.5" r="2.78" fill="#2e6ae9"/>
<circle cx="212.2" cy="758.8" r="2.78" fill="#ba00a0"/>
<circle cx="259.8" cy="789.8" r="2.78" fill="#008bfb"/>
<circle cx="204.8" cy="748.6" r="2.78" fill="#ba00a0"/>
<circle cx="298.8" cy="783.1" r="2.78" fill="#8c3abf"/>
<circle cx="236.5" cy="789.3" r="2.78" fill="#ba00a0"/>
<circle cx="235.0" cy="786.2" r="2.78" fill="#ba00a0"/>
<circle cx="271.9" cy="767.9" r="2.78" fill="#008bfb"/>
<circle cx="267.8" cy="780.2" r="2.78" fill="#ba00a0"/>
<circle cx="184.7" cy="756.3" r="2.78" fill="#ba00a0"/>
<circle cx="203.6" cy="752.2" r="2.78" fill="#ba00a0"/>
<circle cx="191.0" cy="712.4" r="2.78" fill="#ff0051"/>
<circle cx="203.6" cy="730.8" r="2.78" fill="#ff0051"/>
<circle cx="228.3" cy="733.5" r="2.78" fill="#ba00a0"/>
<circle cx="247.9" cy="757.0" r="2.78" fill="#2e6ae9"/>
<circle cx="219.8" cy="716.3" r="2.78" fill="#ba00a0"/>
<circle cx="249.7" cy="750.8" r="2.78" fill="#2e6ae9"/>
<circle cx="197.3" cy="759.3" r="2.78" fill="#008bfb"/>
<circle cx="286.8" cy="770.2" r="2.78" fill="#008bfb"/>
<circle cx="250.3" cy="783.6" r="2.78" fill="#008bfb"/>
<circle cx="248.3" cy="724.3" r="2.78" fill="#8c3abf"/>
<circle cx="220.4" cy="720.5" r="2.78" fill="#ba00a0"/>
<circle cx="291.2" cy="772.2" r="2.78" fill="#ff0051"/>
<circle cx="307.7" cy="784.1" r="2.78" fill="#ba00a0"/>
<circle cx="228.4" cy="760.5" r="2.78" fill="#008bfb"/>
<circle cx="259.9" cy="763.5" r="2.78" fill="#e50080"/>
<circle cx="191.7" cy="730.9" r="2.78" fill="#ba00a0"/>
<circle cx="212.7" cy="776.0" r="2.78" fill="#ba00a0"/>
<circle cx="238.0" cy="757.3" r="2.78" fill="#2e6ae9"/>
<circle cx="184.9" cy="725.1" r="2.78" fill="#8c3abf"/>
<circle cx="266.8" cy="759.2" r="2.78" fill="#8c3abf"/>
<circle cx="190.8" cy="735.2" r="2.78" fill="#ba00a0"/>
<circle cx="197.4" cy="787.8" r="2.78" fill="#008bfb"/>
<circle cx="219.0" cy="749.8" r="2.78" fill="#8c3abf"/>
<circle cx="280.3" cy="779.0" r="2.78" fill="#ba00a0"/>
<circle cx="219.7" cy="755.0" r="2.78" fill="#ff0051"/>
<circle cx="282.2" cy="792.5" r="2.78" fill="#ba00a0"/>
<circle cx="238.4" cy="755.4" r="2.78" fill="#2e6ae9"/>
<circle cx="272.1" cy="780.8" r="2.78" fill="#008bfb"/>
<circle cx="302.8" cy="786.2" r="2.78" fill="#008bfb"/>
<circle cx="265.8" cy="794.7" r="2.78" fill="#ba00a0"/>
<circle cx="300.7" cy="769.2" r="2.78" fill="#8c3abf"/>
<circle cx="270.5" cy="789.6" r="2.78" fill="#008bfb"/>
<circle cx="198.1" cy="791.8" r="2.78" fill="#008bfb"/>
<circle cx="279.5" cy="769.5" r="2.78" fill="#ba00a0"/>
<circle cx="302.8" cy="779.7" r="2.78" fill="#008bfb"/>
<circle cx="186.0" cy="741.8" r="2.78" fill="#ba00a0"/>
<circle cx="286.3" cy="779.3" r="2.78" fill="#008bfb"/>
<circle cx="210.6" cy="764.7" r="2.78" fill="#ba00a0"/>
<circle cx="213.0" cy="722.8" r="2.78" fill="#ff0051"/>
<circle cx="303.6" cy="768.0" r="2.78" fill="#008bfb"/>
<circle cx="266.6" cy="796.7" r="2.78" fill="#ba00a0"/>
<circle cx="238.7" cy="773.7" r="2.78" fill="#008bfb"/>
<circle cx="239.6" cy="777.7" r="2.78" fill="#008bfb"/>
<circle cx="299.0" cy="761.6" r="2.78" fill="#8c3abf"/>
<circle cx="243.3" cy="788.2" r="2.78" fill="#ba00a0"/>
<circle cx="244.6" cy="793.7" r="2.78" fill="#ba00a0"/>
<circle cx="239.6" cy="788.0" r="2.78" fill="#008bfb"/>
<circle cx="268.0" cy="774.4" r="2.78" fill="#8c3abf"/>
<circle cx="184.7" cy="715.4" r="2.78" fill="#8c3abf"/>
<circle cx="284.4" cy="787.1" r="2.78" fill="#008bfb"/>
<circle cx="298.5" cy="787.7" r="2.78" fill="#8c3abf"/>
<circle cx="243.2" cy="778.5" r="2.78" fill="#ba00a0"/>
<circle cx="191.2" cy="738.1" r="2.78" fill="#ba00a0"/>
<circle cx="218.8" cy="747.7" r="2.78" fill="#ff0051"/>
<circle cx="230.4" cy="782.1" r="2.78" fill="#2e6ae9"/>
<circle cx="278.2" cy="787.6" r="2.78" fill="#8c3abf"/>
<circle cx="212.1" cy="748.1" r="2.78" fill="#8c3abf"/>
<circle cx="244.6" cy="797.8" r="2.78" fill="#ba00a0"/>
<circle cx="293.3" cy="789.3" r="2.78" fill="#ba00a0"/>
<circle cx="250.5" cy="767.8" r="2.78" fill="#ba00a0"/>
<circle cx="253.1" cy="787.3" r="2.78" fill="#8c3abf"/>
<circle cx="293.5" cy="796.5" r="2.78" fill="#ba00a0"/>
<circle cx="272.8" cy="796.9" r="2.78" fill="#008bfb"/>
<circle cx="272.6" cy="777.7" r="2.78" fill="#008bfb"/>
<circle cx="234.3" cy="796.3" r="2.78" fill="#ba00a0"/>
<circle cx="259.8" cy="767.5" r="2.78" fill="#e50080"/>
<circle cx="303.6" cy="758.5" r="2.78" fill="#008bfb"/>
<circle cx="259.6" cy="799.6" r="2.78" fill="#008bfb"/>
<circle cx="238.6" cy="741.4" r="2.78" fill="#008bfb"/>
<circle cx="292.3" cy="780.1" r="2.78" fill="#ba00a0"/>
<circle cx="266.1" cy="785.7" r="2.78" fill="#ba00a0"/>
<circle cx="210.9" cy="734.4" r="2.78" fill="#ff0051"/>
<circle cx="230.7" cy="754.2" r="2.78" fill="#008bfb"/>
<circle cx="249.4" cy="753.2" r="2.78" fill="#2e6ae9"/>
<circle cx="267.3" cy="764.0" r="2.78" fill="#8c3abf"/>
<circle cx="270.7" cy="761.7" r="2.78" fill="#008bfb"/>
<circle cx="280.3" cy="760.1" r="2.78" fill="#ba00a0"/>
<circle cx="277.3" cy="778.7" r="2.78" fill="#8c3abf"/>
<circle cx="192.3" cy="755.4" r="2.78" fill="#008bfb"/>
<circle cx="237.9" cy="761.9" r="2.78" fill="#2e6ae9"/>
<circle cx="250.1" cy="731.9" r="2.78" fill="#8c3abf"/>
<circle cx="260.0" cy="777.9" r="2.78" fill="#008bfb"/>
<circle cx="228.8" cy="739.1" r="2.78" fill="#ba00a0"/>
<circle cx="260.5" cy="793.7" r="2.78" fill="#008bfb"/>
<circle cx="198.1" cy="782.7" r="2.78" fill="#008bfb"/>
<circle cx="230.0" cy="775.0" r="2.78" fill="#008bfb"/>
<circle cx="252.6" cy="780.7" r="2.78" fill="#8c3abf"/>
<circle cx="204.2" cy="722.9" r="2.78" fill="#e50080"/>
<circle cx="183.9" cy="735.8" r="2.78" fill="#ba00a0"/>
<circle cx="309.8" cy="796.6" r="2.78" fill="#ba00a0"/>
<circle cx="190.8" cy="704.9" r="2.78" fill="#ff0051"/>
<circle cx="238.7" cy="792.0" r="2.78" fill="#008bfb"/>
<circle cx="205.1" cy="706.1" r="2.78" fill="#ff0051"/>
<circle cx="192.3" cy="769.1" r="2.78" fill="#008bfb"/>
<circle cx="277.1" cy="789.7" r="2.78" fill="#8c3abf"/>
<circle cx="193.1" cy="774.8" r="2.78" fill="#008bfb"/>
<circle cx="183.8" cy="709.8" r="2.78" fill="#8c3abf"/>
<circle cx="286.6" cy="794.4" r="2.78" fill="#008bfb"/>
<circle cx="219.1" cy="743.1" r="2.78" fill="#ff0051"/>
<circle cx="211.9" cy="741.0" r="2.78" fill="#ff0051"/>
<circle cx="254.8" cy="791.8" r="2.78" fill="#8c3abf"/>
<circle cx="221.5" cy="760.6" r="2.78" fill="#8c3abf"/>
<circle cx="244.6" cy="782.7" r="2.78" fill="#ba00a0"/>
<circle cx="293.0" cy="768.7" r="2.78" fill="#ff0051"/>
<circle cx="291.8" cy="758.1" r="2.78" fill="#ff0051"/>
<circle cx="230.8" cy="797.0" r="2.78" fill="#008bfb"/>
<circle cx="276.8" cy="797.5" r="2.78" fill="#8c3abf"/>
<circle cx="204.7" cy="764.3" r="2.78" fill="#ba00a0"/>
<circle cx="239.3" cy="734.1" r="2.78" fill="#008bfb"/>
<circle cx="304.3" cy="795.9" r="2.78" fill="#008bfb"/>
<circle cx="230.8" cy="769.4" r="2.78" fill="#008bfb"/>
<circle cx="186.3" cy="751.9" r="2.78" fill="#ba00a0"/>
<circle cx="284.8" cy="773.1" r="2.78" fill="#008bfb"/>
<circle cx="230.2" cy="781.4" r="2.78" fill="#008bfb"/>
<circle cx="266.9" cy="769.0" r="2.78" fill="#8c3abf"/>
<circle cx="228.6" cy="790.8" r="2.78" fill="#008bfb"/>
<circle cx="240.1" cy="750.7" r="2.78" fill="#2e6ae9"/>
<circle cx="221.1" cy="763.5" r="2.78" fill="#008bfb"/>
<circle cx="184.1" cy="702.2" r="2.78" fill="#8c3abf"/>
<circle cx="249.7" cy="764.8" r="2.78" fill="#ba00a0"/>
<circle cx="219.1" cy="768.6" r="2.78" fill="#008bfb"/>
<circle cx="202.6" cy="735.2" r="2.78" fill="#ff0051"/>
<circle cx="203.5" cy="766.9" r="2.78" fill="#ba00a0"/>
<circle cx="248.5" cy="788.9" r="2.78" fill="#008bfb"/>
<circle cx="191.5" cy="710.0" r="2.78" fill="#ff0051"/>
<circle cx="228.5" cy="745.6" r="2.78" fill="#ba00a0"/>
<circle cx="218.9" cy="725.7" r="2.78" fill="#ba00a0"/>
<circle cx="278.6" cy="771.7" r="2.78" fill="#8c3abf"/>
<circle cx="220.0" cy="766.0" r="2.78" fill="#8c3abf"/>
<circle cx="308.6" cy="791.0" r="2.78" fill="#ba00a0"/>
<circle cx="239.9" cy="768.2" r="2.78" fill="#2e6ae9"/>
<circle cx="293.7" cy="760.8" r="2.78" fill="#ff0051"/>
<circle cx="192.6" cy="766.5" r="2.78" fill="#008bfb"/>
<circle cx="192.3" cy="723.8" r="2.78" fill="#ff0051"/>
<circle cx="204.5" cy="738.7" r="2.78" fill="#ff0051"/>
<circle cx="250.2" cy="733.7" r="2.78" fill="#8c3abf"/>
<circle cx="219.1" cy="750.6" r="2.78" fill="#ff0051"/>
<circle cx="280.6" cy="775.2" r="2.78" fill="#ba00a0"/>
<circle cx="191.8" cy="745.1" r="2.78" fill="#ba00a0"/>
<circle cx="185.1" cy="719.1" r="2.78" fill="#8c3abf"/>
<circle cx="196.8" cy="771.8" r="2.78" fill="#2e6ae9"/>
<circle cx="192.9" cy="718.8" r="2.78" fill="#ff0051"/>
<circle cx="231.8" cy="774.4" r="2.78" fill="#2e6ae9"/>
<circle cx="236.1" cy="771.4" r="2.78" fill="#ba00a0"/>
<circle cx="196.1" cy="782.3" r="2.78" fill="#2e6ae9"/>
<circle cx="280.8" cy="788.8" r="2.78" fill="#ba00a0"/>
<circle cx="298.4" cy="774.6" r="2.78" fill="#8c3abf"/>
<circle cx="211.1" cy="736.2" r="2.78" fill="#ff0051"/>
<circle cx="232.4" cy="770.7" r="2.78" fill="#2e6ae9"/>
<circle cx="212.7" cy="770.9" r="2.78" fill="#ba00a0"/>
<circle cx="212.4" cy="753.2" r="2.78" fill="#8c3abf"/>
<circle cx="293.5" cy="791.9" r="2.78" fill="#ba00a0"/>
<circle cx="228.1" cy="765.0" r="2.78" fill="#008bfb"/>
<circle cx="259.7" cy="755.1" r="2.78" fill="#e50080"/>
<circle cx="239.2" cy="780.2" r="2.78" fill="#008bfb"/>
<circle cx="238.2" cy="724.7" r="2.78" fill="#635adb"/>
<circle cx="238.2" cy="733.4" r="2.78" fill="#2e6ae9"/>
<circle cx="238.2" cy="740.7" r="2.78" fill="#2e6ae9"/>
<circle cx="252.8" cy="733.4" r="2.78" fill="#635adb"/>
<circle cx="252.8" cy="740.7" r="2.78" fill="#635adb"/>
<circle cx="252.8" cy="749.5" r="2.78" fill="#635adb"/>
<circle cx="254.3" cy="756.8" r="2.78" fill="#8c3abf"/>
<circle cx="193.0" cy="750.9" r="2.78" fill="#e50080"/>
<circle cx="196.5" cy="759.7" r="2.78" fill="#ba00a0"/>
<circle cx="191.5" cy="768.5" r="2.78" fill="#8c3abf"/>
<circle cx="204.7" cy="756.8" r="2.78" fill="#ff0051"/>
<circle cx="207.6" cy="736.4" r="2.78" fill="#e50080"/>
<circle cx="213.4" cy="742.2" r="2.78" fill="#ff0051"/>
<circle cx="220.7" cy="727.6" r="2.78" fill="#e50080"/>
<circle cx="222.2" cy="736.4" r="2.78" fill="#e50080"/>
<circle cx="220.7" cy="748.0" r="2.78" fill="#ba00a0"/>
<circle cx="230.9" cy="739.3" r="2.78" fill="#e50080"/>
<circle cx="194.5" cy="774.3" r="2.78" fill="#ba00a0"/>
<circle cx="198.8" cy="765.5" r="2.78" fill="#8c3abf"/>
<circle cx="120.7" cy="1406.8" r="3.55" fill="#ff0051"/>
<circle cx="120.7" cy="1418.9" r="3.55" fill="#ba00a0"/>
<circle cx="120.7" cy="1433.1" r="3.55" fill="#635adb"/>
<circle cx="120.7" cy="1451.5" r="3.55" fill="#008bfb"/>
<circle cx="120.7" cy="1455.3" r="3.55" fill="#008bfb"/>
<circle cx="167.0" cy="1397.1" r="3.55" fill="#ff0051"/>
<circle cx="166.8" cy="1398.0" r="3.55" fill="#ff0051"/>
<circle cx="167.0" cy="1411.0" r="3.55" fill="#ba00a0"/>
<circle cx="166.6" cy="1412.1" r="3.55" fill="#ba00a0"/>
<circle cx="167.2" cy="1423.8" r="3.55" fill="#635adb"/>
<circle cx="166.8" cy="1424.5" r="3.55" fill="#635adb"/>
<circle cx="167.3" cy="1442.6" r="3.55" fill="#008bfb"/>
<circle cx="166.9" cy="1443.5" r="3.55" fill="#008bfb"/>
<circle cx="166.9" cy="1445.6" r="3.55" fill="#008bfb"/>
<circle cx="167.0" cy="1446.8" r="3.55" fill="#008bfb"/>
<circle cx="170.2" cy="1390.4" r="3.55" fill="#ff0051"/>
<circle cx="170.3" cy="1391.3" r="3.55" fill="#ff0051"/>
<circle cx="170.2" cy="1401.4" r="3.55" fill="#ba00a0"/>
<circle cx="170.2" cy="1402.4" r="3.55" fill="#ba00a0"/>
<circle cx="170.3" cy="1414.6" r="3.55" fill="#8c3abf"/>
<circle cx="170.1" cy="1415.4" r="3.55" fill="#8c3abf"/>
<circle cx="169.7" cy="1432.1" r="3.55" fill="#008bfb"/>
<circle cx="170.3" cy="1433.0" r="3.55" fill="#008bfb"/>
<circle cx="170.2" cy="1435.2" r="3.55" fill="#008bfb"/>
<circle cx="170.3" cy="1436.2" r="3.55" fill="#008bfb"/>
<circle cx="176.8" cy="1391.3" r="3.55" fill="#ff0051"/>
<circle cx="176.5" cy="1392.5" r="3.55" fill="#ff0051"/>
<circle cx="176.5" cy="1400.1" r="3.55" fill="#ba00a0"/>
<circle cx="176.9" cy="1401.3" r="3.55" fill="#ba00a0"/>
<circle cx="176.3" cy="1403.0" r="3.55" fill="#ba00a0"/>
<circle cx="176.3" cy="1404.3" r="3.55" fill="#ba00a0"/>
<circle cx="176.9" cy="1413.7" r="3.55" fill="#8c3abf"/>
<circle cx="176.5" cy="1414.6" r="3.55" fill="#8c3abf"/>
<circle cx="176.4" cy="1431.1" r="3.55" fill="#008bfb"/>
<circle cx="176.6" cy="1432.2" r="3.55" fill="#008bfb"/>
<circle cx="176.5" cy="1435.6" r="3.55" fill="#008bfb"/>
<circle cx="176.6" cy="1436.5" r="3.55" fill="#008bfb"/>
<circle cx="179.1" cy="1383.0" r="3.55" fill="#ba00a0"/>
<circle cx="179.0" cy="1384.0" r="3.55" fill="#ba00a0"/>
<circle cx="179.1" cy="1411.4" r="3.55" fill="#008bfb"/>
<circle cx="179.2" cy="1412.7" r="3.55" fill="#008bfb"/>
<circle cx="182.1" cy="1383.8" r="3.55" fill="#ff0051"/>
<circle cx="182.6" cy="1384.9" r="3.55" fill="#ff0051"/>
<circle cx="182.6" cy="1387.2" r="3.55" fill="#ff0051"/>
<circle cx="182.4" cy="1388.5" r="3.55" fill="#ff0051"/>
<circle cx="182.1" cy="1394.3" r="3.55" fill="#ba00a0"/>
<circle cx="182.6" cy="1395.5" r="3.55" fill="#ba00a0"/>
<circle cx="182.2" cy="1397.9" r="3.55" fill="#ba00a0"/>
<circle cx="182.0" cy="1398.9" r="3.55" fill="#ba00a0"/>
<circle cx="182.7" cy="1405.7" r="3.55" fill="#8c3abf"/>
<circle cx="182.0" cy="1406.9" r="3.55" fill="#8c3abf"/>
<circle cx="183.1" cy="1408.3" r="3.55" fill="#8c3abf"/>
<circle cx="183.0" cy="1409.5" r="3.55" fill="#8c3abf"/>
<circle cx="182.5" cy="1426.0" r="3.55" fill="#008bfb"/>
<circle cx="182.6" cy="1426.9" r="3.55" fill="#008bfb"/>
<circle cx="182.4" cy="1430.4" r="3.55" fill="#008bfb"/>
<circle cx="182.0" cy="1431.2" r="3.55" fill="#008bfb"/>
<circle cx="190.6" cy="1381.2" r="3.55" fill="#ff0051"/>
<circle cx="191.0" cy="1382.3" r="3.55" fill="#ff0051"/>
<circle cx="190.7" cy="1389.9" r="3.55" fill="#ba00a0"/>
<circle cx="191.1" cy="1391.2" r="3.55" fill="#ba00a0"/>
<circle cx="190.4" cy="1401.1" r="3.55" fill="#8c3abf"/>
<circle cx="190.8" cy="1402.0" r="3.55" fill="#8c3abf"/>
<circle cx="190.5" cy="1417.3" r="3.55" fill="#008bfb"/>
<circle cx="190.7" cy="1418.1" r="3.55" fill="#008bfb"/>
<circle cx="190.5" cy="1419.7" r="3.55" fill="#008bfb"/>
<circle cx="190.4" cy="1420.8" r="3.55" fill="#008bfb"/>
<circle cx="197.4" cy="1379.4" r="3.55" fill="#ff0051"/>
<circle cx="197.9" cy="1380.6" r="3.55" fill="#ff0051"/>
<circle cx="197.5" cy="1384.6" r="3.55" fill="#ba00a0"/>
<circle cx="197.5" cy="1385.9" r="3.55" fill="#ba00a0"/>
<circle cx="197.7" cy="1387.4" r="3.55" fill="#ba00a0"/>
<circle cx="197.6" cy="1388.4" r="3.55" fill="#ba00a0"/>
<circle cx="197.7" cy="1398.7" r="3.55" fill="#8c3abf"/>
<circle cx="197.9" cy="1399.8" r="3.55" fill="#8c3abf"/>
<circle cx="197.5" cy="1411.0" r="3.55" fill="#008bfb"/>
<circle cx="197.7" cy="1412.1" r="3.55" fill="#008bfb"/>
<circle cx="203.2" cy="1382.2" r="3.55" fill="#ba00a0"/>
<circle cx="203.7" cy="1383.1" r="3.55" fill="#ba00a0"/>
<circle cx="206.9" cy="1382.1" r="3.55" fill="#ba00a0"/>
<circle cx="206.5" cy="1383.2" r="3.55" fill="#ba00a0"/>
<circle cx="204.3" cy="1394.4" r="3.55" fill="#635adb"/>
<circle cx="203.9" cy="1395.4" r="3.55" fill="#635adb"/>
<circle cx="207.0" cy="1392.1" r="3.55" fill="#635adb"/>
<circle cx="206.6" cy="1393.2" r="3.55" fill="#635adb"/>
<circle cx="203.3" cy="1404.8" r="3.55" fill="#008bfb"/>
<circle cx="203.5" cy="1406.0" r="3.55" fill="#008bfb"/>
<circle cx="207.0" cy="1402.3" r="3.55" fill="#008bfb"/>
<circle cx="207.0" cy="1403.3" r="3.55" fill="#008bfb"/>
<circle cx="216.7" cy="1379.6" r="3.55" fill="#ba00a0"/>
<circle cx="217.1" cy="1380.4" r="3.55" fill="#ba00a0"/>
<circle cx="216.8" cy="1386.4" r="3.55" fill="#635adb"/>
<circle cx="217.0" cy="1387.6" r="3.55" fill="#635adb"/>
<circle cx="216.9" cy="1389.1" r="3.55" fill="#635adb"/>
<circle cx="216.9" cy="1390.2" r="3.55" fill="#635adb"/>
<circle cx="216.9" cy="1400.6" r="3.55" fill="#008bfb"/>
<circle cx="217.1" cy="1401.5" r="3.55" fill="#008bfb"/>
<circle cx="179.0" cy="1374.0" r="3.55" fill="#ff0051"/>
<circle cx="178.8" cy="1374.9" r="3.55" fill="#ff0051"/>
<circle cx="190.7" cy="1379.5" r="3.55" fill="#ff0051"/>
<circle cx="190.4" cy="1380.6" r="3.55" fill="#ff0051"/>
<circle cx="197.6" cy="1371.6" r="3.55" fill="#ff0051"/>
<circle cx="197.1" cy="1372.4" r="3.55" fill="#ff0051"/>
<circle cx="197.7" cy="1376.3" r="3.55" fill="#ff0051"/>
<circle cx="197.3" cy="1377.2" r="3.55" fill="#ff0051"/>
<circle cx="203.8" cy="1370.3" r="3.55" fill="#ff0051"/>
<circle cx="203.9" cy="1371.5" r="3.55" fill="#ff0051"/>
<circle cx="206.5" cy="1373.3" r="3.55" fill="#ff0051"/>
<circle cx="206.7" cy="1374.2" r="3.55" fill="#ff0051"/>
<circle cx="204.0" cy="1374.4" r="3.55" fill="#ff0051"/>
<circle cx="203.9" cy="1375.5" r="3.55" fill="#ff0051"/>
<circle cx="217.1" cy="1370.5" r="3.55" fill="#ff0051"/>
<circle cx="217.0" cy="1371.3" r="3.55" fill="#ff0051"/>
<circle cx="216.6" cy="1376.2" r="3.55" fill="#ba00a0"/>
<circle cx="217.2" cy="1377.2" r="3.55" fill="#ba00a0"/>
<circle cx="225.0" cy="1361.7" r="3.55" fill="#ff0051"/>
<circle cx="225.1" cy="1362.7" r="3.55" fill="#ff0051"/>
<circle cx="225.1" cy="1368.3" r="3.55" fill="#ba00a0"/>
<circle cx="224.7" cy="1369.4" r="3.55" fill="#ba00a0"/>
<circle cx="224.8" cy="1377.0" r="3.55" fill="#635adb"/>
<circle cx="225.1" cy="1378.2" r="3.55" fill="#635adb"/>
<circle cx="232.4" cy="1355.6" r="3.55" fill="#ff0051"/>
<circle cx="232.4" cy="1356.8" r="3.55" fill="#ff0051"/>
<circle cx="233.0" cy="1364.5" r="3.55" fill="#ba00a0"/>
<circle cx="232.7" cy="1365.4" r="3.55" fill="#ba00a0"/>
<circle cx="232.6" cy="1373.5" r="3.55" fill="#635adb"/>
<circle cx="232.7" cy="1374.6" r="3.55" fill="#635adb"/>
<circle cx="237.9" cy="1355.7" r="3.55" fill="#ff0051"/>
<circle cx="238.0" cy="1356.7" r="3.55" fill="#ff0051"/>
<circle cx="238.2" cy="1362.2" r="3.55" fill="#ba00a0"/>
<circle cx="238.1" cy="1363.2" r="3.55" fill="#ba00a0"/>
<circle cx="239.1" cy="1370.8" r="3.55" fill="#635adb"/>
<circle cx="239.2" cy="1372.1" r="3.55" fill="#635adb"/>
<circle cx="237.7" cy="1377.9" r="3.55" fill="#008bfb"/>
<circle cx="238.2" cy="1379.0" r="3.55" fill="#008bfb"/>
<circle cx="242.6" cy="1355.9" r="3.55" fill="#ff0051"/>
<circle cx="242.4" cy="1357.2" r="3.55" fill="#ff0051"/>
<circle cx="242.1" cy="1361.2" r="3.55" fill="#ba00a0"/>
<circle cx="242.6" cy="1362.4" r="3.55" fill="#ba00a0"/>
<circle cx="243.1" cy="1370.0" r="3.55" fill="#635adb"/>
<circle cx="242.9" cy="1371.1" r="3.55" fill="#635adb"/>
<circle cx="242.7" cy="1377.0" r="3.55" fill="#008bfb"/>
<circle cx="242.0" cy="1378.2" r="3.55" fill="#008bfb"/>
<circle cx="247.5" cy="1350.4" r="3.55" fill="#ff0051"/>
<circle cx="247.3" cy="1351.6" r="3.55" fill="#ff0051"/>
<circle cx="247.8" cy="1353.5" r="3.55" fill="#ff0051"/>
<circle cx="247.9" cy="1354.4" r="3.55" fill="#ff0051"/>
<circle cx="247.7" cy="1358.8" r="3.55" fill="#ba00a0"/>
<circle cx="247.3" cy="1359.6" r="3.55" fill="#ba00a0"/>
<circle cx="247.5" cy="1364.4" r="3.55" fill="#635adb"/>
<circle cx="247.9" cy="1365.6" r="3.55" fill="#635adb"/>
<circle cx="247.6" cy="1375.2" r="3.55" fill="#008bfb"/>
<circle cx="247.9" cy="1376.5" r="3.55" fill="#008bfb"/>
<circle cx="251.7" cy="1350.0" r="3.55" fill="#ff0051"/>
<circle cx="252.0" cy="1350.9" r="3.55" fill="#ff0051"/>
<circle cx="251.8" cy="1357.9" r="3.55" fill="#ba00a0"/>
<circle cx="251.9" cy="1358.7" r="3.55" fill="#ba00a0"/>
<circle cx="251.7" cy="1365.7" r="3.55" fill="#635adb"/>
<circle cx="251.7" cy="1366.8" r="3.55" fill="#635adb"/>
<circle cx="251.8" cy="1373.5" r="3.55" fill="#008bfb"/>
<circle cx="252.3" cy="1374.7" r="3.55" fill="#008bfb"/>
<circle cx="256.3" cy="1348.1" r="3.55" fill="#ff0051"/>
<circle cx="256.3" cy="1349.3" r="3.55" fill="#ff0051"/>
<circle cx="256.5" cy="1356.0" r="3.55" fill="#ba00a0"/>
<circle cx="256.4" cy="1357.1" r="3.55" fill="#ba00a0"/>
<circle cx="256.4" cy="1363.9" r="3.55" fill="#635adb"/>
<circle cx="256.7" cy="1365.0" r="3.55" fill="#635adb"/>
<circle cx="256.3" cy="1372.7" r="3.55" fill="#008bfb"/>
<circle cx="256.5" cy="1373.7" r="3.55" fill="#008bfb"/>
<circle cx="260.6" cy="1346.5" r="3.55" fill="#ff0051"/>
<circle cx="261.1" cy="1347.4" r="3.55" fill="#ff0051"/>
<circle cx="260.8" cy="1354.3" r="3.55" fill="#ba00a0"/>
<circle cx="260.4" cy="1355.3" r="3.55" fill="#ba00a0"/>
<circle cx="260.8" cy="1361.3" r="3.55" fill="#635adb"/>
<circle cx="260.4" cy="1362.3" r="3.55" fill="#635adb"/>
<circle cx="260.8" cy="1370.0" r="3.55" fill="#008bfb"/>
<circle cx="260.4" cy="1371.1" r="3.55" fill="#008bfb"/>
<circle cx="265.1" cy="1345.5" r="3.55" fill="#ff0051"/>
<circle cx="265.2" cy="1346.6" r="3.55" fill="#ff0051"/>
<circle cx="267.0" cy="1350.8" r="3.55" fill="#ff0051"/>
<circle cx="267.0" cy="1351.8" r="3.55" fill="#ff0051"/>
<circle cx="264.8" cy="1352.7" r="3.55" fill="#ba00a0"/>
<circle cx="265.2" cy="1353.5" r="3.55" fill="#ba00a0"/>
<circle cx="264.9" cy="1360.3" r="3.55" fill="#635adb"/>
<circle cx="265.1" cy="1361.6" r="3.55" fill="#635adb"/>
<circle cx="265.0" cy="1368.3" r="3.55" fill="#008bfb"/>
<circle cx="265.0" cy="1369.4" r="3.55" fill="#008bfb"/>
<circle cx="265.9" cy="1373.6" r="3.55" fill="#008bfb"/>
<circle cx="266.1" cy="1374.6" r="3.55" fill="#008bfb"/>
<circle cx="268.5" cy="1337.2" r="3.55" fill="#ff0051"/>
<circle cx="268.8" cy="1338.1" r="3.55" fill="#ff0051"/>
<circle cx="268.7" cy="1343.9" r="3.55" fill="#ba00a0"/>
<circle cx="268.8" cy="1344.7" r="3.55" fill="#ba00a0"/>
<circle cx="268.4" cy="1349.1" r="3.55" fill="#8c3abf"/>
<circle cx="268.8" cy="1350.0" r="3.55" fill="#8c3abf"/>
<circle cx="268.4" cy="1359.6" r="3.55" fill="#008bfb"/>
<circle cx="268.6" cy="1360.5" r="3.55" fill="#008bfb"/>
<circle cx="276.7" cy="1334.1" r="3.55" fill="#ff0051"/>
<circle cx="276.9" cy="1335.2" r="3.55" fill="#ff0051"/>
<circle cx="277.3" cy="1341.2" r="3.55" fill="#ba00a0"/>
<circle cx="277.0" cy="1342.2" r="3.55" fill="#ba00a0"/>
<circle cx="276.8" cy="1348.9" r="3.55" fill="#635adb"/>
<circle cx="276.9" cy="1350.2" r="3.55" fill="#635adb"/>
<circle cx="277.3" cy="1359.5" r="3.55" fill="#008bfb"/>
<circle cx="277.0" cy="1360.6" r="3.55" fill="#008bfb"/>
<circle cx="276.8" cy="1364.9" r="3.55" fill="#008bfb"/>
<circle cx="277.0" cy="1365.8" r="3.55" fill="#008bfb"/>
<circle cx="224.5" cy="1382.6" r="3.55" fill="#635adb"/>
<circle cx="224.5" cy="1393.1" r="3.55" fill="#008bfb"/>
<circle cx="224.5" cy="1396.6" r="3.55" fill="#008bfb"/>
<circle cx="232.7" cy="1386.1" r="3.55" fill="#008bfb"/>
<circle cx="237.1" cy="1383.5" r="3.55" fill="#008bfb"/>
<circle cx="240.9" cy="1381.4" r="3.55" fill="#008bfb"/>
<circle cx="245.5" cy="1386.1" r="3.55" fill="#008bfb"/>
<circle cx="253.7" cy="1380.0" r="3.55" fill="#008bfb"/>
<circle cx="282.8" cy="1329.6" r="3.55" fill="#ff0051"/>
<circle cx="282.7" cy="1330.6" r="3.55" fill="#ff0051"/>
<circle cx="282.9" cy="1336.4" r="3.55" fill="#ba00a0"/>
<circle cx="282.5" cy="1337.7" r="3.55" fill="#ba00a0"/>
<circle cx="286.5" cy="1341.0" r="3.55" fill="#635adb"/>
<circle cx="286.1" cy="1341.9" r="3.55" fill="#635adb"/>
<circle cx="288.4" cy="1347.1" r="3.55" fill="#008bfb"/>
<circle cx="288.0" cy="1348.1" r="3.55" fill="#008bfb"/>
<circle cx="288.0" cy="1327.6" r="3.55" fill="#ff0051"/>
<circle cx="288.1" cy="1329.0" r="3.55" fill="#ff0051"/>
<circle cx="289.0" cy="1334.0" r="3.55" fill="#ba00a0"/>
<circle cx="289.2" cy="1334.9" r="3.55" fill="#ba00a0"/>
<circle cx="290.8" cy="1338.2" r="3.55" fill="#635adb"/>
<circle cx="290.8" cy="1339.4" r="3.55" fill="#635adb"/>
<circle cx="293.5" cy="1343.6" r="3.55" fill="#008bfb"/>
<circle cx="293.3" cy="1344.6" r="3.55" fill="#008bfb"/>
<circle cx="292.1" cy="1323.4" r="3.55" fill="#ff0051"/>
<circle cx="292.7" cy="1324.5" r="3.55" fill="#ff0051"/>
<circle cx="292.6" cy="1326.9" r="3.55" fill="#ba00a0"/>
<circle cx="292.7" cy="1328.0" r="3.55" fill="#ba00a0"/>
<circle cx="294.5" cy="1332.9" r="3.55" fill="#635adb"/>
<circle cx="294.1" cy="1334.2" r="3.55" fill="#635adb"/>
<circle cx="295.0" cy="1339.0" r="3.55" fill="#008bfb"/>
<circle cx="295.3" cy="1340.4" r="3.55" fill="#008bfb"/>
<circle cx="295.6" cy="1319.7" r="3.55" fill="#ff0051"/>
<circle cx="295.7" cy="1321.2" r="3.55" fill="#ff0051"/>
<circle cx="296.2" cy="1326.1" r="3.55" fill="#ba00a0"/>
<circle cx="295.9" cy="1327.1" r="3.55" fill="#ba00a0"/>
<circle cx="295.8" cy="1331.2" r="3.55" fill="#635adb"/>
<circle cx="295.9" cy="1332.5" r="3.55" fill="#635adb"/>
<circle cx="302.8" cy="1315.1" r="3.55" fill="#ff0051"/>
<circle cx="303.0" cy="1316.3" r="3.55" fill="#ff0051"/>
<circle cx="303.2" cy="1319.8" r="3.55" fill="#ba00a0"/>
<circle cx="303.0" cy="1321.1" r="3.55" fill="#ba00a0"/>
<circle cx="303.2" cy="1324.1" r="3.55" fill="#635adb"/>
<circle cx="303.3" cy="1325.5" r="3.55" fill="#635adb"/>
<circle cx="302.7" cy="1332.9" r="3.55" fill="#008bfb"/>
<circle cx="303.2" cy="1334.2" r="3.55" fill="#008bfb"/>
<circle cx="307.9" cy="1305.7" r="3.55" fill="#ff0051"/>
<circle cx="307.7" cy="1307.2" r="3.55" fill="#ff0051"/>
<circle cx="307.4" cy="1310.1" r="3.55" fill="#ba00a0"/>
<circle cx="307.9" cy="1311.5" r="3.55" fill="#ba00a0"/>
<circle cx="308.0" cy="1316.8" r="3.55" fill="#008bfb"/>
<circle cx="307.9" cy="1318.1" r="3.55" fill="#008bfb"/>
<circle cx="312.9" cy="1306.6" r="3.55" fill="#ff0051"/>
<circle cx="312.3" cy="1308.0" r="3.55" fill="#ff0051"/>
<circle cx="313.4" cy="1311.9" r="3.55" fill="#ba00a0"/>
<circle cx="313.2" cy="1313.2" r="3.55" fill="#ba00a0"/>
<circle cx="314.5" cy="1319.9" r="3.55" fill="#8c3abf"/>
<circle cx="314.6" cy="1321.0" r="3.55" fill="#8c3abf"/>
<circle cx="314.4" cy="1326.1" r="3.55" fill="#008bfb"/>
<circle cx="314.0" cy="1327.0" r="3.55" fill="#008bfb"/>
<circle cx="321.2" cy="1304.0" r="3.55" fill="#ff0051"/>
<circle cx="321.6" cy="1305.3" r="3.55" fill="#ff0051"/>
<circle cx="321.3" cy="1308.3" r="3.55" fill="#ba00a0"/>
<circle cx="321.7" cy="1309.8" r="3.55" fill="#ba00a0"/>
<circle cx="321.9" cy="1313.8" r="3.55" fill="#635adb"/>
<circle cx="322.3" cy="1314.8" r="3.55" fill="#635adb"/>
<circle cx="321.1" cy="1320.0" r="3.55" fill="#008bfb"/>
<circle cx="321.2" cy="1320.9" r="3.55" fill="#008bfb"/>
<circle cx="325.5" cy="1301.4" r="3.55" fill="#ff0051"/>
<circle cx="325.4" cy="1302.7" r="3.55" fill="#ff0051"/>
<circle cx="325.6" cy="1305.7" r="3.55" fill="#ba00a0"/>
<circle cx="326.0" cy="1307.1" r="3.55" fill="#ba00a0"/>
<circle cx="325.6" cy="1310.1" r="3.55" fill="#635adb"/>
<circle cx="325.7" cy="1311.5" r="3.55" fill="#635adb"/>
<circle cx="325.8" cy="1315.5" r="3.55" fill="#008bfb"/>
<circle cx="325.8" cy="1316.7" r="3.55" fill="#008bfb"/>
<circle cx="332.8" cy="1301.4" r="3.55" fill="#ff0051"/>
<circle cx="333.0" cy="1302.7" r="3.55" fill="#ff0051"/>
<circle cx="332.7" cy="1306.7" r="3.55" fill="#ba00a0"/>
<circle cx="332.9" cy="1307.9" r="3.55" fill="#ba00a0"/>
<circle cx="332.6" cy="1310.3" r="3.55" fill="#635adb"/>
<circle cx="333.0" cy="1311.3" r="3.55" fill="#635adb"/>
<circle cx="332.7" cy="1315.5" r="3.55" fill="#008bfb"/>
<circle cx="332.4" cy="1316.7" r="3.55" fill="#008bfb"/>
<circle cx="340.6" cy="1301.1" r="3.55" fill="#ff0051"/>
<circle cx="340.2" cy="1302.3" r="3.55" fill="#ff0051"/>
<circle cx="340.7" cy="1305.8" r="3.55" fill="#ba00a0"/>
<circle cx="340.3" cy="1307.1" r="3.55" fill="#ba00a0"/>
<circle cx="340.6" cy="1310.2" r="3.55" fill="#635adb"/>
<circle cx="340.7" cy="1311.4" r="3.55" fill="#635adb"/>
<circle cx="340.7" cy="1314.6" r="3.55" fill="#008bfb"/>
<circle cx="340.8" cy="1315.7" r="3.55" fill="#008bfb"/>
<circle cx="345.5" cy="1290.2" r="3.55" fill="#ff0051"/>
<circle cx="346.0" cy="1291.1" r="3.55" fill="#ff0051"/>
<circle cx="349.2" cy="1295.2" r="3.55" fill="#ff0051"/>
<circle cx="349.3" cy="1296.7" r="3.55" fill="#ff0051"/>
<circle cx="345.7" cy="1294.4" r="3.55" fill="#8c3abf"/>
<circle cx="345.7" cy="1295.7" r="3.55" fill="#8c3abf"/>
<circle cx="346.6" cy="1298.9" r="3.55" fill="#635adb"/>
<circle cx="346.8" cy="1300.0" r="3.55" fill="#635adb"/>
<circle cx="347.5" cy="1301.5" r="3.55" fill="#635adb"/>
<circle cx="347.8" cy="1302.6" r="3.55" fill="#635adb"/>
<circle cx="356.4" cy="1286.7" r="3.55" fill="#ba00a0"/>
<circle cx="356.5" cy="1287.6" r="3.55" fill="#ba00a0"/>
<circle cx="355.3" cy="1290.1" r="3.55" fill="#635adb"/>
<circle cx="355.7" cy="1291.2" r="3.55" fill="#635adb"/>
<circle cx="356.1" cy="1292.8" r="3.55" fill="#008bfb"/>
<circle cx="356.3" cy="1293.8" r="3.55" fill="#008bfb"/>
<circle cx="361.0" cy="1276.9" r="3.55" fill="#ff0051"/>
<circle cx="361.1" cy="1278.2" r="3.55" fill="#ff0051"/>
<circle cx="361.5" cy="1283.1" r="3.55" fill="#ba00a0"/>
<circle cx="361.2" cy="1284.2" r="3.55" fill="#ba00a0"/>
<circle cx="361.0" cy="1290.0" r="3.55" fill="#008bfb"/>
<circle cx="361.1" cy="1291.4" r="3.55" fill="#008bfb"/>
<circle cx="359.2" cy="1291.8" r="3.55" fill="#008bfb"/>
<circle cx="358.9" cy="1293.1" r="3.55" fill="#008bfb"/>
<circle cx="373.3" cy="1274.9" r="3.55" fill="#8c3abf"/>
<circle cx="373.5" cy="1275.9" r="3.55" fill="#8c3abf"/>
<circle cx="373.7" cy="1278.8" r="3.55" fill="#008bfb"/>
<circle cx="373.8" cy="1279.8" r="3.55" fill="#008bfb"/>
<circle cx="378.8" cy="1274.9" r="3.55" fill="#8c3abf"/>
<circle cx="378.7" cy="1276.7" r="3.55" fill="#8c3abf"/>
<circle cx="380.9" cy="1268.6" r="3.55" fill="#ff0051"/>
<circle cx="380.6" cy="1270.8" r="3.55" fill="#ff0051"/>
<circle cx="381.1" cy="1263.7" r="3.55" fill="#ba00a0"/>
<circle cx="380.7" cy="1265.2" r="3.55" fill="#ba00a0"/>
<circle cx="381.2" cy="1258.3" r="3.55" fill="#008bfb"/>
<circle cx="380.8" cy="1260.1" r="3.55" fill="#008bfb"/>
<circle cx="384.0" cy="1253.6" r="3.55" fill="#008bfb"/>
<circle cx="384.1" cy="1256.0" r="3.55" fill="#008bfb"/>
<circle cx="385.0" cy="1258.3" r="3.55" fill="#635adb"/>
<circle cx="385.1" cy="1260.1" r="3.55" fill="#635adb"/>
<circle cx="385.9" cy="1261.6" r="3.55" fill="#ba00a0"/>
<circle cx="385.9" cy="1263.8" r="3.55" fill="#ba00a0"/>
<circle cx="389.5" cy="1256.6" r="3.55" fill="#008bfb"/>
<circle cx="389.3" cy="1258.3" r="3.55" fill="#008bfb"/>
<circle cx="388.9" cy="1259.1" r="3.55" fill="#8c3abf"/>
<circle cx="389.5" cy="1261.0" r="3.55" fill="#8c3abf"/>
<circle cx="390.3" cy="1259.9" r="3.55" fill="#ff0051"/>
<circle cx="390.4" cy="1262.0" r="3.55" fill="#ff0051"/>
<circle cx="393.9" cy="1248.4" r="3.55" fill="#008bfb"/>
<circle cx="393.6" cy="1250.7" r="3.55" fill="#008bfb"/>
<circle cx="393.6" cy="1252.7" r="3.55" fill="#008bfb"/>
<circle cx="394.0" cy="1255.1" r="3.55" fill="#008bfb"/>
<circle cx="394.2" cy="1258.8" r="3.55" fill="#ff0051"/>
<circle cx="394.3" cy="1261.3" r="3.55" fill="#ff0051"/>
<circle cx="396.6" cy="1247.8" r="3.55" fill="#008bfb"/>
<circle cx="396.2" cy="1249.6" r="3.55" fill="#008bfb"/>
<circle cx="396.1" cy="1252.0" r="3.55" fill="#008bfb"/>
<circle cx="396.3" cy="1254.2" r="3.55" fill="#008bfb"/>
<circle cx="396.2" cy="1258.2" r="3.55" fill="#ff0051"/>
<circle cx="396.3" cy="1260.2" r="3.55" fill="#ff0051"/>
<circle cx="406.2" cy="1243.2" r="3.55" fill="#008bfb"/>
<circle cx="406.0" cy="1245.4" r="3.55" fill="#008bfb"/>
<circle cx="405.3" cy="1248.3" r="3.55" fill="#635adb"/>
<circle cx="405.4" cy="1250.8" r="3.55" fill="#635adb"/>
<circle cx="404.8" cy="1254.6" r="3.55" fill="#ff0051"/>
<circle cx="405.3" cy="1256.8" r="3.55" fill="#ff0051"/>
<circle cx="410.6" cy="1238.6" r="3.55" fill="#008bfb"/>
<circle cx="410.3" cy="1241.2" r="3.55" fill="#008bfb"/>
<circle cx="409.2" cy="1247.5" r="3.55" fill="#635adb"/>
<circle cx="409.6" cy="1249.8" r="3.55" fill="#635adb"/>
<circle cx="411.0" cy="1250.2" r="3.55" fill="#ba00a0"/>
<circle cx="410.9" cy="1252.4" r="3.55" fill="#ba00a0"/>
<circle cx="410.6" cy="1253.6" r="3.55" fill="#ff0051"/>
<circle cx="410.0" cy="1256.0" r="3.55" fill="#ff0051"/>
<circle cx="414.6" cy="1243.1" r="3.55" fill="#008bfb"/>
<circle cx="414.4" cy="1245.5" r="3.55" fill="#008bfb"/>
<circle cx="414.9" cy="1251.3" r="3.55" fill="#ba00a0"/>
<circle cx="414.9" cy="1253.1" r="3.55" fill="#ba00a0"/>
<circle cx="414.8" cy="1253.1" r="3.55" fill="#ff0051"/>
<circle cx="414.4" cy="1254.7" r="3.55" fill="#ff0051"/>
<circle cx="418.9" cy="1237.0" r="3.55" fill="#008bfb"/>
<circle cx="419.3" cy="1239.3" r="3.55" fill="#008bfb"/>
<circle cx="419.1" cy="1243.0" r="3.55" fill="#635adb"/>
<circle cx="419.4" cy="1245.6" r="3.55" fill="#635adb"/>
<circle cx="418.8" cy="1246.9" r="3.55" fill="#ba00a0"/>
<circle cx="419.1" cy="1248.8" r="3.55" fill="#ba00a0"/>
<circle cx="419.7" cy="1249.6" r="3.55" fill="#ff0051"/>
<circle cx="419.9" cy="1251.2" r="3.55" fill="#ff0051"/>
<circle cx="424.1" cy="1230.9" r="3.55" fill="#008bfb"/>
<circle cx="424.0" cy="1233.1" r="3.55" fill="#008bfb"/>
<circle cx="424.2" cy="1236.1" r="3.55" fill="#635adb"/>
<circle cx="424.6" cy="1238.5" r="3.55" fill="#635adb"/>
<circle cx="424.2" cy="1241.3" r="3.55" fill="#ff0051"/>
<circle cx="424.3" cy="1243.8" r="3.55" fill="#ff0051"/>
<circle cx="427.9" cy="1223.1" r="3.55" fill="#008bfb"/>
<circle cx="427.9" cy="1225.2" r="3.55" fill="#008bfb"/>
<circle cx="427.9" cy="1228.3" r="3.55" fill="#8c3abf"/>
<circle cx="428.1" cy="1230.5" r="3.55" fill="#8c3abf"/>
<circle cx="428.6" cy="1233.6" r="3.55" fill="#ba00a0"/>
<circle cx="428.8" cy="1235.7" r="3.55" fill="#ba00a0"/>
<circle cx="428.5" cy="1237.3" r="3.55" fill="#ff0051"/>
<circle cx="429.0" cy="1239.1" r="3.55" fill="#ff0051"/>
<circle cx="437.5" cy="1211.7" r="3.55" fill="#008bfb"/>
<circle cx="437.1" cy="1213.8" r="3.55" fill="#008bfb"/>
<circle cx="437.5" cy="1215.3" r="3.55" fill="#008bfb"/>
<circle cx="437.1" cy="1217.3" r="3.55" fill="#008bfb"/>
<circle cx="437.5" cy="1222.2" r="3.55" fill="#635adb"/>
<circle cx="437.1" cy="1224.4" r="3.55" fill="#635adb"/>
<circle cx="437.4" cy="1225.7" r="3.55" fill="#8c3abf"/>
<circle cx="437.6" cy="1227.9" r="3.55" fill="#8c3abf"/>
<circle cx="437.6" cy="1229.3" r="3.55" fill="#ba00a0"/>
<circle cx="437.6" cy="1231.3" r="3.55" fill="#ba00a0"/>
<circle cx="437.1" cy="1233.0" r="3.55" fill="#ff0051"/>
<circle cx="437.6" cy="1234.6" r="3.55" fill="#ff0051"/>
<circle cx="439.0" cy="1208.0" r="3.55" fill="#008bfb"/>
<circle cx="439.2" cy="1210.6" r="3.55" fill="#008bfb"/>
<circle cx="439.1" cy="1216.9" r="3.55" fill="#635adb"/>
<circle cx="439.1" cy="1219.1" r="3.55" fill="#635adb"/>
<circle cx="446.1" cy="1206.6" r="3.55" fill="#008bfb"/>
<circle cx="446.3" cy="1208.5" r="3.55" fill="#008bfb"/>
<circle cx="446.1" cy="1211.8" r="3.55" fill="#635adb"/>
<circle cx="446.4" cy="1213.7" r="3.55" fill="#635adb"/>
<circle cx="446.3" cy="1219.9" r="3.55" fill="#ba00a0"/>
<circle cx="446.4" cy="1221.5" r="3.55" fill="#ba00a0"/>
<circle cx="446.0" cy="1223.2" r="3.55" fill="#ff0051"/>
<circle cx="446.4" cy="1225.1" r="3.55" fill="#ff0051"/>
<circle cx="446.0" cy="1228.5" r="3.55" fill="#ff0051"/>
<circle cx="446.2" cy="1230.3" r="3.55" fill="#ff0051"/>
<circle cx="450.7" cy="1202.0" r="3.55" fill="#008bfb"/>
<circle cx="450.8" cy="1204.3" r="3.55" fill="#008bfb"/>
<circle cx="451.2" cy="1210.9" r="3.55" fill="#635adb"/>
<circle cx="450.9" cy="1212.9" r="3.55" fill="#635adb"/>
<circle cx="450.7" cy="1217.7" r="3.55" fill="#ba00a0"/>
<circle cx="450.8" cy="1220.1" r="3.55" fill="#ba00a0"/>
<circle cx="451.2" cy="1222.2" r="3.55" fill="#ff0051"/>
<circle cx="450.9" cy="1224.4" r="3.55" fill="#ff0051"/>
<circle cx="457.3" cy="1204.0" r="3.55" fill="#008bfb"/>
<circle cx="457.6" cy="1205.8" r="3.55" fill="#008bfb"/>
<circle cx="457.8" cy="1209.3" r="3.55" fill="#635adb"/>
<circle cx="457.8" cy="1211.0" r="3.55" fill="#635adb"/>
<circle cx="457.4" cy="1215.4" r="3.55" fill="#ba00a0"/>
<circle cx="457.8" cy="1217.2" r="3.55" fill="#ba00a0"/>
<circle cx="457.8" cy="1219.5" r="3.55" fill="#ff0051"/>
<circle cx="457.5" cy="1221.8" r="3.55" fill="#ff0051"/>
<circle cx="457.4" cy="1222.4" r="3.55" fill="#ff0051"/>
<circle cx="457.8" cy="1224.1" r="3.55" fill="#ff0051"/>
<circle cx="465.4" cy="1195.2" r="3.55" fill="#008bfb"/>
<circle cx="465.4" cy="1197.1" r="3.55" fill="#008bfb"/>
<circle cx="465.4" cy="1202.1" r="3.55" fill="#635adb"/>
<circle cx="465.8" cy="1204.1" r="3.55" fill="#635adb"/>
<circle cx="465.1" cy="1209.3" r="3.55" fill="#ba00a0"/>
<circle cx="465.8" cy="1211.0" r="3.55" fill="#ba00a0"/>
<circle cx="465.8" cy="1215.0" r="3.55" fill="#ff0051"/>
<circle cx="465.4" cy="1217.5" r="3.55" fill="#ff0051"/>
<circle cx="471.9" cy="1192.2" r="3.55" fill="#008bfb"/>
<circle cx="471.4" cy="1194.8" r="3.55" fill="#008bfb"/>
<circle cx="472.7" cy="1196.7" r="3.55" fill="#635adb"/>
<circle cx="472.6" cy="1199.1" r="3.55" fill="#635adb"/>
<circle cx="471.5" cy="1203.8" r="3.55" fill="#8c3abf"/>
<circle cx="471.5" cy="1205.9" r="3.55" fill="#8c3abf"/>
<circle cx="471.3" cy="1208.4" r="3.55" fill="#ba00a0"/>
<circle cx="471.7" cy="1210.2" r="3.55" fill="#ba00a0"/>
<circle cx="471.8" cy="1215.3" r="3.55" fill="#ff0051"/>
<circle cx="471.3" cy="1217.2" r="3.55" fill="#ff0051"/>
<circle cx="475.2" cy="1189.6" r="3.55" fill="#008bfb"/>
<circle cx="475.4" cy="1192.1" r="3.55" fill="#008bfb"/>
<circle cx="475.4" cy="1205.4" r="3.55" fill="#8c3abf"/>
<circle cx="475.2" cy="1207.9" r="3.55" fill="#8c3abf"/>
<circle cx="474.4" cy="1210.2" r="3.55" fill="#ff0051"/>
<circle cx="474.0" cy="1211.8" r="3.55" fill="#ff0051"/>
<circle cx="483.1" cy="1189.9" r="3.55" fill="#635adb"/>
<circle cx="483.0" cy="1191.8" r="3.55" fill="#635adb"/>
<circle cx="484.2" cy="1196.0" r="3.55" fill="#ba00a0"/>
<circle cx="483.9" cy="1198.0" r="3.55" fill="#ba00a0"/>
<circle cx="481.1" cy="1201.3" r="3.55" fill="#8c3abf"/>
<circle cx="481.5" cy="1203.2" r="3.55" fill="#8c3abf"/>
<circle cx="482.3" cy="1207.4" r="3.55" fill="#ba00a0"/>
<circle cx="482.0" cy="1209.4" r="3.55" fill="#ba00a0"/>
<circle cx="481.8" cy="1212.8" r="3.55" fill="#ff0051"/>
<circle cx="482.0" cy="1214.5" r="3.55" fill="#ff0051"/>
<circle cx="473.2" cy="1188.4" r="3.55" fill="#008bfb"/>
<circle cx="473.0" cy="1190.2" r="3.55" fill="#008bfb"/>
<circle cx="482.9" cy="1175.1" r="3.55" fill="#008bfb"/>
<circle cx="482.5" cy="1177.3" r="3.55" fill="#008bfb"/>
<circle cx="483.9" cy="1185.9" r="3.55" fill="#8c3abf"/>
<circle cx="483.5" cy="1187.5" r="3.55" fill="#8c3abf"/>
<circle cx="485.2" cy="1145.0" r="3.55" fill="#008bfb"/>
<circle cx="484.9" cy="1146.8" r="3.55" fill="#008bfb"/>
<circle cx="484.9" cy="1151.3" r="3.55" fill="#635adb"/>
<circle cx="485.0" cy="1153.8" r="3.55" fill="#635adb"/>
<circle cx="485.0" cy="1160.5" r="3.55" fill="#ba00a0"/>
<circle cx="485.1" cy="1162.2" r="3.55" fill="#ba00a0"/>
<circle cx="485.0" cy="1166.4" r="3.55" fill="#ff0051"/>
<circle cx="485.0" cy="1168.5" r="3.55" fill="#ff0051"/>
<circle cx="492.2" cy="1157.9" r="3.55" fill="#008bfb"/>
<circle cx="492.1" cy="1159.5" r="3.55" fill="#008bfb"/>
<circle cx="491.7" cy="1166.5" r="3.55" fill="#635adb"/>
<circle cx="492.3" cy="1168.4" r="3.55" fill="#635adb"/>
<circle cx="492.2" cy="1174.3" r="3.55" fill="#ba00a0"/>
<circle cx="492.3" cy="1176.4" r="3.55" fill="#ba00a0"/>
<circle cx="492.4" cy="1179.8" r="3.55" fill="#ff0051"/>
<circle cx="492.0" cy="1182.1" r="3.55" fill="#ff0051"/>
<circle cx="499.4" cy="1154.9" r="3.55" fill="#008bfb"/>
<circle cx="499.7" cy="1157.3" r="3.55" fill="#008bfb"/>
<circle cx="499.1" cy="1163.6" r="3.55" fill="#635adb"/>
<circle cx="499.2" cy="1166.1" r="3.55" fill="#635adb"/>
<circle cx="499.7" cy="1172.7" r="3.55" fill="#ba00a0"/>
<circle cx="499.4" cy="1174.5" r="3.55" fill="#ba00a0"/>
<circle cx="499.3" cy="1178.6" r="3.55" fill="#ff0051"/>
<circle cx="499.4" cy="1180.8" r="3.55" fill="#ff0051"/>
<circle cx="502.8" cy="1184.0" r="3.55" fill="#ff0051"/>
<circle cx="503.0" cy="1185.9" r="3.55" fill="#ff0051"/>
<circle cx="506.2" cy="1142.4" r="3.55" fill="#008bfb"/>
<circle cx="506.0" cy="1144.5" r="3.55" fill="#008bfb"/>
<circle cx="504.0" cy="1150.4" r="3.55" fill="#008bfb"/>
<circle cx="504.1" cy="1152.9" r="3.55" fill="#008bfb"/>
<circle cx="505.7" cy="1154.1" r="3.55" fill="#635adb"/>
<circle cx="506.2" cy="1156.3" r="3.55" fill="#635adb"/>
<circle cx="506.2" cy="1161.8" r="3.55" fill="#ba00a0"/>
<circle cx="505.9" cy="1164.3" r="3.55" fill="#ba00a0"/>
<circle cx="505.7" cy="1167.2" r="3.55" fill="#ff0051"/>
<circle cx="506.1" cy="1169.5" r="3.55" fill="#ff0051"/>
<circle cx="512.4" cy="1148.8" r="3.55" fill="#008bfb"/>
<circle cx="512.2" cy="1151.0" r="3.55" fill="#008bfb"/>
<circle cx="514.6" cy="1142.6" r="3.55" fill="#008bfb"/>
<circle cx="514.0" cy="1145.0" r="3.55" fill="#008bfb"/>
<circle cx="512.5" cy="1158.4" r="3.55" fill="#635adb"/>
<circle cx="512.3" cy="1160.8" r="3.55" fill="#635adb"/>
<circle cx="512.7" cy="1166.5" r="3.55" fill="#ba00a0"/>
<circle cx="512.8" cy="1168.4" r="3.55" fill="#ba00a0"/>
<circle cx="512.6" cy="1174.5" r="3.55" fill="#ff0051"/>
<circle cx="512.2" cy="1176.1" r="3.55" fill="#ff0051"/>
<circle cx="520.3" cy="1141.8" r="3.55" fill="#008bfb"/>
<circle cx="520.7" cy="1144.1" r="3.55" fill="#008bfb"/>
<circle cx="519.6" cy="1154.8" r="3.55" fill="#635adb"/>
<circle cx="519.9" cy="1157.3" r="3.55" fill="#635adb"/>
<circle cx="519.3" cy="1163.9" r="3.55" fill="#ba00a0"/>
<circle cx="519.6" cy="1165.8" r="3.55" fill="#ba00a0"/>
<circle cx="519.3" cy="1171.9" r="3.55" fill="#ff0051"/>
<circle cx="519.5" cy="1173.5" r="3.55" fill="#ff0051"/>
<circle cx="521.1" cy="1175.1" r="3.55" fill="#ff0051"/>
<circle cx="521.0" cy="1177.3" r="3.55" fill="#ff0051"/>
<circle cx="526.1" cy="1139.9" r="3.55" fill="#008bfb"/>
<circle cx="526.5" cy="1142.4" r="3.55" fill="#008bfb"/>
<circle cx="526.1" cy="1150.4" r="3.55" fill="#635adb"/>
<circle cx="526.2" cy="1152.9" r="3.55" fill="#635adb"/>
<circle cx="526.3" cy="1161.1" r="3.55" fill="#ba00a0"/>
<circle cx="526.3" cy="1163.2" r="3.55" fill="#ba00a0"/>
<circle cx="526.3" cy="1169.0" r="3.55" fill="#ff0051"/>
<circle cx="526.5" cy="1171.1" r="3.55" fill="#ff0051"/>
<circle cx="532.7" cy="1130.5" r="3.55" fill="#008bfb"/>
<circle cx="532.9" cy="1132.6" r="3.55" fill="#008bfb"/>
<circle cx="530.8" cy="1131.5" r="3.55" fill="#008bfb"/>
<circle cx="531.3" cy="1133.3" r="3.55" fill="#008bfb"/>
<circle cx="533.6" cy="1144.5" r="3.55" fill="#635adb"/>
<circle cx="533.2" cy="1146.6" r="3.55" fill="#635adb"/>
<circle cx="533.6" cy="1156.8" r="3.55" fill="#ba00a0"/>
<circle cx="533.2" cy="1158.8" r="3.55" fill="#ba00a0"/>
<circle cx="533.7" cy="1164.6" r="3.55" fill="#ff0051"/>
<circle cx="533.3" cy="1166.8" r="3.55" fill="#ff0051"/>
<circle cx="543.2" cy="1116.4" r="3.55" fill="#008bfb"/>
<circle cx="543.3" cy="1118.6" r="3.55" fill="#008bfb"/>
<circle cx="546.0" cy="1112.2" r="3.55" fill="#008bfb"/>
<circle cx="546.0" cy="1114.1" r="3.55" fill="#008bfb"/>
<circle cx="542.9" cy="1136.9" r="3.55" fill="#635adb"/>
<circle cx="543.3" cy="1138.5" r="3.55" fill="#635adb"/>
<circle cx="545.7" cy="1130.3" r="3.55" fill="#8c3abf"/>
<circle cx="545.8" cy="1132.8" r="3.55" fill="#8c3abf"/>
<circle cx="543.1" cy="1148.0" r="3.55" fill="#ba00a0"/>
<circle cx="543.1" cy="1150.1" r="3.55" fill="#ba00a0"/>
<circle cx="543.1" cy="1156.9" r="3.55" fill="#ff0051"/>
<circle cx="543.3" cy="1158.8" r="3.55" fill="#ff0051"/>
<circle cx="545.8" cy="1142.0" r="3.55" fill="#ba00a0"/>
<circle cx="546.0" cy="1143.9" r="3.55" fill="#ba00a0"/>
<circle cx="545.9" cy="1150.9" r="3.55" fill="#ff0051"/>
<circle cx="546.0" cy="1152.5" r="3.55" fill="#ff0051"/>
<circle cx="551.8" cy="1106.9" r="3.55" fill="#008bfb"/>
<circle cx="552.2" cy="1108.8" r="3.55" fill="#008bfb"/>
<circle cx="551.8" cy="1126.2" r="3.55" fill="#635adb"/>
<circle cx="551.9" cy="1128.1" r="3.55" fill="#635adb"/>
<circle cx="551.7" cy="1136.5" r="3.55" fill="#ba00a0"/>
<circle cx="551.8" cy="1138.8" r="3.55" fill="#ba00a0"/>
<circle cx="552.2" cy="1147.2" r="3.55" fill="#ff0051"/>
<circle cx="551.9" cy="1149.1" r="3.55" fill="#ff0051"/>
<circle cx="556.1" cy="1101.4" r="3.55" fill="#008bfb"/>
<circle cx="556.2" cy="1103.9" r="3.55" fill="#008bfb"/>
<circle cx="557.5" cy="1119.9" r="3.55" fill="#635adb"/>
<circle cx="557.2" cy="1122.1" r="3.55" fill="#635adb"/>
<circle cx="557.0" cy="1131.5" r="3.55" fill="#ba00a0"/>
<circle cx="557.2" cy="1133.3" r="3.55" fill="#ba00a0"/>
<circle cx="557.4" cy="1142.9" r="3.55" fill="#ff0051"/>
<circle cx="557.5" cy="1144.7" r="3.55" fill="#ff0051"/>
<circle cx="559.7" cy="1118.4" r="3.55" fill="#635adb"/>
<circle cx="560.1" cy="1120.1" r="3.55" fill="#635adb"/>
<circle cx="560.1" cy="1129.5" r="3.55" fill="#ba00a0"/>
<circle cx="559.7" cy="1131.8" r="3.55" fill="#ba00a0"/>
<circle cx="559.7" cy="1141.2" r="3.55" fill="#ff0051"/>
<circle cx="560.1" cy="1142.9" r="3.55" fill="#ff0051"/>
<circle cx="565.0" cy="1112.2" r="3.55" fill="#635adb"/>
<circle cx="565.1" cy="1114.1" r="3.55" fill="#635adb"/>
<circle cx="565.0" cy="1126.2" r="3.55" fill="#ba00a0"/>
<circle cx="565.4" cy="1128.2" r="3.55" fill="#ba00a0"/>
<circle cx="564.8" cy="1137.7" r="3.55" fill="#ff0051"/>
<circle cx="565.4" cy="1139.4" r="3.55" fill="#ff0051"/>
<circle cx="569.8" cy="1107.5" r="3.55" fill="#635adb"/>
<circle cx="569.4" cy="1110.0" r="3.55" fill="#635adb"/>
<circle cx="571.5" cy="1111.0" r="3.55" fill="#635adb"/>
<circle cx="571.0" cy="1113.5" r="3.55" fill="#635adb"/>
<circle cx="569.7" cy="1120.7" r="3.55" fill="#ba00a0"/>
<circle cx="569.6" cy="1123.1" r="3.55" fill="#ba00a0"/>
<circle cx="571.1" cy="1123.5" r="3.55" fill="#ba00a0"/>
<circle cx="571.1" cy="1125.6" r="3.55" fill="#ba00a0"/>
<circle cx="569.2" cy="1133.3" r="3.55" fill="#ff0051"/>
<circle cx="569.6" cy="1135.1" r="3.55" fill="#ff0051"/>
<circle cx="571.5" cy="1135.9" r="3.55" fill="#ff0051"/>
<circle cx="570.9" cy="1137.7" r="3.55" fill="#ff0051"/>
<circle cx="568.5" cy="1083.6" r="3.55" fill="#008bfb"/>
<circle cx="571.1" cy="1088.0" r="3.55" fill="#008bfb"/>
<circle cx="565.8" cy="1088.9" r="3.55" fill="#008bfb"/>
<circle cx="558.8" cy="1092.4" r="3.55" fill="#008bfb"/>
<circle cx="556.7" cy="1096.8" r="3.55" fill="#008bfb"/>
</svg>
</body></html>
